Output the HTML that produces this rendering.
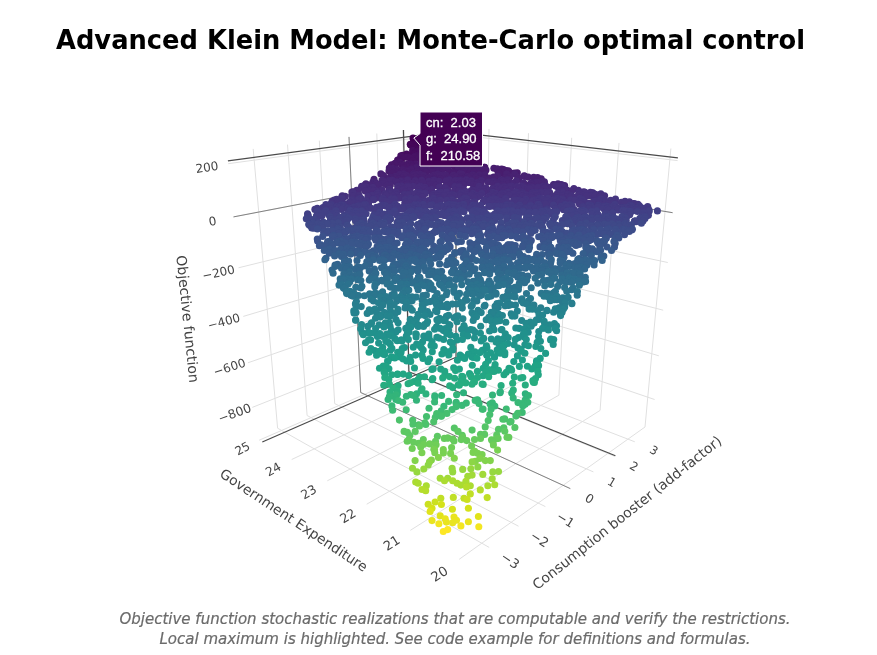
<!DOCTYPE html>
<html lang="en"><head><meta charset="utf-8"><title>Advanced Klein Model: Monte-Carlo optimal control</title>
<style>
html,body{margin:0;padding:0;background:#fff}
body{width:877px;height:655px;position:relative;overflow:hidden;font-family:'DejaVu Sans','Liberation Sans',sans-serif}
#title{position:absolute;left:56px;top:25.3px;font-size:26.3px;line-height:30px;font-weight:bold;color:#000;white-space:nowrap;margin:0;transform-origin:0 0;transform:scaleX(0.9789)}
#cap{position:absolute;left:0;width:910px;top:609.4px;text-align:center;font-style:italic;font-size:15px;line-height:20.1px;color:#6b6b6b;white-space:nowrap;-webkit-text-stroke:0.2px #6b6b6b}
</style></head><body>
<svg width="877" height="655" viewBox="0 0 877 655" style="position:absolute;left:0;top:0;font-family:'DejaVu Sans','Liberation Sans',sans-serif">
<g id="grid"><line x1="277.6" y1="428.2" x2="253.2" y2="148.9" stroke="#e0e0e0" stroke-width="1"/><line x1="307.1" y1="415.5" x2="287.5" y2="144.6" stroke="#e0e0e0" stroke-width="1"/><line x1="334.7" y1="403.6" x2="319.3" y2="140.6" stroke="#e0e0e0" stroke-width="1"/><line x1="360.7" y1="392.5" x2="349.0" y2="136.9" stroke="#e0e0e0" stroke-width="1"/><line x1="385.2" y1="381.9" x2="376.8" y2="133.5" stroke="#e0e0e0" stroke-width="1"/><line x1="408.3" y1="372.0" x2="402.8" y2="130.2" stroke="#e0e0e0" stroke-width="1"/><line x1="430.1" y1="362.6" x2="427.2" y2="127.2" stroke="#e0e0e0" stroke-width="1"/><line x1="252.3" y1="407.4" x2="448.7" y2="329.4" stroke="#e0e0e0" stroke-width="1"/><line x1="247.9" y1="362.8" x2="448.6" y2="292.9" stroke="#e0e0e0" stroke-width="1"/><line x1="243.3" y1="316.4" x2="448.5" y2="255.1" stroke="#e0e0e0" stroke-width="1"/><line x1="238.5" y1="267.8" x2="448.4" y2="216.0" stroke="#e0e0e0" stroke-width="1"/><line x1="233.5" y1="216.9" x2="448.2" y2="175.6" stroke="#e0e0e0" stroke-width="1"/><line x1="228.2" y1="163.7" x2="448.1" y2="133.6" stroke="#e0e0e0" stroke-width="1"/><line x1="645.0" y1="427.0" x2="670.9" y2="148.5" stroke="#e0e0e0" stroke-width="1"/><line x1="600.1" y1="410.4" x2="619.0" y2="142.9" stroke="#e0e0e0" stroke-width="1"/><line x1="558.9" y1="395.2" x2="571.7" y2="137.8" stroke="#e0e0e0" stroke-width="1"/><line x1="520.8" y1="381.1" x2="528.5" y2="133.2" stroke="#e0e0e0" stroke-width="1"/><line x1="485.5" y1="368.1" x2="489.0" y2="128.9" stroke="#e0e0e0" stroke-width="1"/><line x1="452.8" y1="356.0" x2="452.5" y2="125.0" stroke="#e0e0e0" stroke-width="1"/><line x1="654.6" y1="399.5" x2="448.7" y2="329.4" stroke="#e0e0e0" stroke-width="1"/><line x1="658.8" y1="355.8" x2="448.6" y2="292.9" stroke="#e0e0e0" stroke-width="1"/><line x1="663.2" y1="310.2" x2="448.5" y2="255.1" stroke="#e0e0e0" stroke-width="1"/><line x1="667.8" y1="262.5" x2="448.4" y2="216.0" stroke="#e0e0e0" stroke-width="1"/><line x1="672.6" y1="212.7" x2="448.2" y2="175.6" stroke="#e0e0e0" stroke-width="1"/><line x1="677.6" y1="160.6" x2="448.1" y2="133.6" stroke="#e0e0e0" stroke-width="1"/><line x1="489.2" y1="547.4" x2="277.6" y2="428.2" stroke="#e0e0e0" stroke-width="1"/><line x1="518.5" y1="526.2" x2="307.1" y2="415.5" stroke="#e0e0e0" stroke-width="1"/><line x1="545.4" y1="506.6" x2="334.7" y2="403.6" stroke="#e0e0e0" stroke-width="1"/><line x1="570.3" y1="488.6" x2="360.7" y2="392.5" stroke="#e0e0e0" stroke-width="1"/><line x1="593.4" y1="471.9" x2="385.2" y2="381.9" stroke="#e0e0e0" stroke-width="1"/><line x1="614.8" y1="456.3" x2="408.3" y2="372.0" stroke="#e0e0e0" stroke-width="1"/><line x1="634.8" y1="441.8" x2="430.1" y2="362.6" stroke="#e0e0e0" stroke-width="1"/><line x1="459.2" y1="559.3" x2="645.0" y2="427.0" stroke="#e0e0e0" stroke-width="1"/><line x1="410.4" y1="530.3" x2="600.1" y2="410.4" stroke="#e0e0e0" stroke-width="1"/><line x1="366.7" y1="504.2" x2="558.9" y2="395.2" stroke="#e0e0e0" stroke-width="1"/><line x1="327.3" y1="480.8" x2="520.8" y2="381.1" stroke="#e0e0e0" stroke-width="1"/><line x1="291.7" y1="459.5" x2="485.5" y2="368.1" stroke="#e0e0e0" stroke-width="1"/><line x1="259.2" y1="440.2" x2="452.8" y2="356.0" stroke="#e0e0e0" stroke-width="1"/><line x1="360.7" y1="392.5" x2="349.0" y2="136.9" stroke="#777" stroke-width="0.9"/><line x1="570.3" y1="488.6" x2="360.7" y2="392.5" stroke="#777" stroke-width="0.9"/><line x1="233.5" y1="216.9" x2="448.2" y2="175.6" stroke="#777" stroke-width="0.9"/><line x1="672.6" y1="212.7" x2="448.2" y2="175.6" stroke="#777" stroke-width="0.9"/><line x1="408.9" y1="371.7" x2="403.5" y2="130.1" stroke="#4a4a4a" stroke-width="1.2"/><line x1="227.9" y1="160.8" x2="448.1" y2="131.3" stroke="#4a4a4a" stroke-width="1.2"/><line x1="456.0" y1="357.2" x2="456.0" y2="125.4" stroke="#4a4a4a" stroke-width="1.2"/><line x1="677.9" y1="157.8" x2="448.1" y2="131.3" stroke="#4a4a4a" stroke-width="1.2"/><line x1="615.4" y1="455.8" x2="408.9" y2="371.7" stroke="#4a4a4a" stroke-width="1.2"/><line x1="262.3" y1="442.0" x2="456.0" y2="357.2" stroke="#4a4a4a" stroke-width="1.2"/></g>
<g id="pts"><g fill="#440154"><circle cx="413.0" cy="138.0" r="3.55"/><circle cx="413.7" cy="140.3" r="3.55"/><circle cx="418.8" cy="140.9" r="3.55"/><circle cx="420.8" cy="141.6" r="3.55"/><circle cx="417.3" cy="143.1" r="3.55"/></g><g fill="#450759"><circle cx="416.4" cy="143.3" r="3.55"/><circle cx="425.1" cy="143.6" r="3.55"/><circle cx="422.4" cy="143.8" r="3.55"/><circle cx="410.3" cy="144.3" r="3.55"/><circle cx="415.5" cy="144.3" r="3.55"/><circle cx="422.1" cy="144.4" r="3.55"/><circle cx="411.3" cy="145.1" r="3.55"/><circle cx="422.3" cy="145.1" r="3.55"/><circle cx="410.8" cy="145.1" r="3.55"/><circle cx="432.0" cy="145.7" r="3.55"/><circle cx="422.6" cy="145.7" r="3.55"/><circle cx="417.4" cy="146.4" r="3.55"/><circle cx="434.7" cy="147.5" r="3.55"/><circle cx="423.9" cy="147.5" r="3.55"/><circle cx="419.7" cy="147.5" r="3.55"/><circle cx="413.9" cy="147.8" r="3.55"/><circle cx="436.1" cy="148.0" r="3.55"/><circle cx="421.3" cy="148.0" r="3.55"/><circle cx="431.9" cy="148.0" r="3.55"/><circle cx="425.9" cy="148.0" r="3.55"/><circle cx="429.2" cy="148.2" r="3.55"/><circle cx="418.9" cy="148.4" r="3.55"/><circle cx="434.7" cy="149.0" r="3.55"/><circle cx="415.5" cy="149.1" r="3.55"/></g><g fill="#460c5f"><circle cx="412.7" cy="150.3" r="3.55"/><circle cx="434.4" cy="150.4" r="3.55"/><circle cx="435.3" cy="150.4" r="3.55"/><circle cx="425.2" cy="150.4" r="3.55"/><circle cx="438.1" cy="151.0" r="3.55"/><circle cx="421.9" cy="151.3" r="3.55"/><circle cx="417.3" cy="151.4" r="3.55"/><circle cx="425.7" cy="152.0" r="3.55"/><circle cx="431.7" cy="152.1" r="3.55"/><circle cx="415.7" cy="152.2" r="3.55"/><circle cx="429.9" cy="152.8" r="3.55"/><circle cx="430.0" cy="153.0" r="3.55"/><circle cx="433.5" cy="153.1" r="3.55"/><circle cx="427.3" cy="153.3" r="3.55"/><circle cx="434.1" cy="153.5" r="3.55"/><circle cx="419.0" cy="153.7" r="3.55"/><circle cx="412.2" cy="153.7" r="3.55"/><circle cx="424.7" cy="154.1" r="3.55"/><circle cx="406.6" cy="154.1" r="3.55"/><circle cx="432.8" cy="154.3" r="3.55"/><circle cx="414.0" cy="154.4" r="3.55"/><circle cx="437.3" cy="154.4" r="3.55"/><circle cx="449.1" cy="154.6" r="3.55"/><circle cx="431.4" cy="154.7" r="3.55"/><circle cx="402.7" cy="155.2" r="3.55"/><circle cx="444.1" cy="155.2" r="3.55"/><circle cx="419.5" cy="155.2" r="3.55"/></g><g fill="#471264"><circle cx="442.0" cy="155.4" r="3.55"/><circle cx="417.1" cy="155.7" r="3.55"/><circle cx="400.8" cy="155.9" r="3.55"/><circle cx="443.1" cy="156.1" r="3.55"/><circle cx="428.7" cy="156.3" r="3.55"/><circle cx="443.6" cy="156.3" r="3.55"/><circle cx="415.1" cy="156.6" r="3.55"/><circle cx="424.0" cy="156.6" r="3.55"/><circle cx="414.2" cy="156.8" r="3.55"/><circle cx="442.7" cy="156.9" r="3.55"/><circle cx="418.3" cy="157.1" r="3.55"/><circle cx="446.6" cy="157.1" r="3.55"/><circle cx="408.6" cy="157.2" r="3.55"/><circle cx="406.3" cy="157.2" r="3.55"/><circle cx="435.4" cy="157.4" r="3.55"/><circle cx="439.7" cy="157.4" r="3.55"/><circle cx="453.1" cy="157.6" r="3.55"/><circle cx="439.5" cy="157.8" r="3.55"/><circle cx="418.4" cy="157.9" r="3.55"/><circle cx="423.5" cy="158.0" r="3.55"/><circle cx="452.4" cy="158.0" r="3.55"/><circle cx="434.1" cy="158.1" r="3.55"/><circle cx="410.4" cy="158.2" r="3.55"/><circle cx="401.6" cy="158.5" r="3.55"/><circle cx="444.6" cy="158.6" r="3.55"/><circle cx="442.0" cy="158.7" r="3.55"/><circle cx="449.4" cy="159.0" r="3.55"/><circle cx="428.9" cy="159.1" r="3.55"/><circle cx="455.1" cy="159.2" r="3.55"/><circle cx="399.5" cy="159.6" r="3.55"/><circle cx="436.9" cy="159.7" r="3.55"/><circle cx="444.6" cy="159.8" r="3.55"/><circle cx="397.6" cy="160.1" r="3.55"/><circle cx="443.2" cy="160.3" r="3.55"/><circle cx="460.4" cy="160.4" r="3.55"/><circle cx="451.5" cy="160.4" r="3.55"/><circle cx="447.3" cy="160.5" r="3.55"/><circle cx="412.9" cy="160.5" r="3.55"/><circle cx="420.8" cy="160.7" r="3.55"/><circle cx="423.3" cy="160.7" r="3.55"/><circle cx="440.4" cy="160.9" r="3.55"/><circle cx="398.6" cy="161.0" r="3.55"/><circle cx="444.8" cy="161.1" r="3.55"/><circle cx="422.3" cy="161.4" r="3.55"/></g><g fill="#48186a"><circle cx="459.1" cy="161.6" r="3.55"/><circle cx="436.0" cy="162.1" r="3.55"/><circle cx="452.9" cy="162.5" r="3.55"/><circle cx="466.6" cy="162.5" r="3.55"/><circle cx="399.8" cy="162.6" r="3.55"/><circle cx="440.5" cy="162.6" r="3.55"/><circle cx="465.9" cy="162.8" r="3.55"/><circle cx="452.9" cy="162.9" r="3.55"/><circle cx="425.4" cy="163.2" r="3.55"/><circle cx="455.4" cy="163.3" r="3.55"/><circle cx="395.3" cy="163.4" r="3.55"/><circle cx="445.7" cy="163.5" r="3.55"/><circle cx="427.1" cy="163.6" r="3.55"/><circle cx="435.2" cy="163.6" r="3.55"/><circle cx="474.0" cy="163.6" r="3.55"/><circle cx="449.9" cy="163.6" r="3.55"/><circle cx="394.6" cy="163.8" r="3.55"/><circle cx="432.0" cy="164.0" r="3.55"/><circle cx="415.5" cy="164.0" r="3.55"/><circle cx="410.4" cy="164.1" r="3.55"/><circle cx="448.2" cy="164.3" r="3.55"/><circle cx="425.3" cy="164.4" r="3.55"/><circle cx="407.7" cy="164.4" r="3.55"/><circle cx="437.9" cy="164.5" r="3.55"/><circle cx="401.9" cy="164.5" r="3.55"/><circle cx="472.2" cy="164.6" r="3.55"/><circle cx="467.5" cy="164.6" r="3.55"/><circle cx="391.5" cy="164.7" r="3.55"/><circle cx="404.2" cy="164.9" r="3.55"/><circle cx="464.7" cy="165.0" r="3.55"/><circle cx="411.4" cy="165.3" r="3.55"/><circle cx="453.0" cy="165.5" r="3.55"/><circle cx="408.0" cy="165.5" r="3.55"/><circle cx="409.3" cy="165.6" r="3.55"/><circle cx="468.1" cy="165.6" r="3.55"/><circle cx="422.5" cy="165.8" r="3.55"/><circle cx="421.3" cy="165.8" r="3.55"/><circle cx="433.5" cy="165.8" r="3.55"/><circle cx="417.7" cy="165.9" r="3.55"/><circle cx="474.4" cy="166.0" r="3.55"/><circle cx="406.3" cy="166.0" r="3.55"/><circle cx="435.9" cy="166.0" r="3.55"/><circle cx="421.0" cy="166.3" r="3.55"/><circle cx="411.8" cy="166.3" r="3.55"/><circle cx="425.2" cy="166.6" r="3.55"/><circle cx="456.1" cy="166.7" r="3.55"/><circle cx="476.2" cy="166.7" r="3.55"/><circle cx="406.8" cy="166.8" r="3.55"/><circle cx="454.8" cy="166.9" r="3.55"/><circle cx="412.6" cy="167.0" r="3.55"/><circle cx="433.2" cy="167.0" r="3.55"/><circle cx="484.4" cy="167.2" r="3.55"/><circle cx="471.9" cy="167.2" r="3.55"/><circle cx="484.7" cy="167.3" r="3.55"/><circle cx="481.3" cy="167.4" r="3.55"/><circle cx="458.4" cy="167.4" r="3.55"/><circle cx="403.7" cy="167.5" r="3.55"/></g><g fill="#481d6e"><circle cx="416.5" cy="167.6" r="3.55"/><circle cx="422.6" cy="167.9" r="3.55"/><circle cx="469.4" cy="168.0" r="3.55"/><circle cx="439.3" cy="168.0" r="3.55"/><circle cx="444.8" cy="168.0" r="3.55"/><circle cx="389.3" cy="168.0" r="3.55"/><circle cx="423.4" cy="168.1" r="3.55"/><circle cx="448.0" cy="168.2" r="3.55"/><circle cx="392.7" cy="168.2" r="3.55"/><circle cx="493.9" cy="168.3" r="3.55"/><circle cx="497.4" cy="168.9" r="3.55"/><circle cx="501.7" cy="169.0" r="3.55"/><circle cx="481.6" cy="169.0" r="3.55"/><circle cx="411.2" cy="169.0" r="3.55"/><circle cx="427.0" cy="169.0" r="3.55"/><circle cx="460.7" cy="169.1" r="3.55"/><circle cx="419.4" cy="169.1" r="3.55"/><circle cx="423.9" cy="169.1" r="3.55"/><circle cx="439.8" cy="169.2" r="3.55"/><circle cx="458.2" cy="169.3" r="3.55"/><circle cx="437.5" cy="169.3" r="3.55"/><circle cx="396.9" cy="169.3" r="3.55"/><circle cx="503.5" cy="169.5" r="3.55"/><circle cx="461.5" cy="169.5" r="3.55"/><circle cx="441.7" cy="169.5" r="3.55"/><circle cx="402.8" cy="169.7" r="3.55"/><circle cx="438.8" cy="170.0" r="3.55"/><circle cx="486.0" cy="170.0" r="3.55"/><circle cx="411.2" cy="170.1" r="3.55"/><circle cx="497.5" cy="170.2" r="3.55"/><circle cx="393.0" cy="170.3" r="3.55"/><circle cx="466.5" cy="170.4" r="3.55"/><circle cx="461.3" cy="170.5" r="3.55"/><circle cx="506.0" cy="170.5" r="3.55"/><circle cx="407.2" cy="170.8" r="3.55"/><circle cx="402.6" cy="170.8" r="3.55"/><circle cx="501.7" cy="170.8" r="3.55"/><circle cx="417.6" cy="170.8" r="3.55"/><circle cx="477.1" cy="170.9" r="3.55"/><circle cx="503.8" cy="170.9" r="3.55"/><circle cx="508.4" cy="170.9" r="3.55"/><circle cx="390.8" cy="171.0" r="3.55"/><circle cx="457.9" cy="171.0" r="3.55"/><circle cx="473.1" cy="171.0" r="3.55"/><circle cx="389.0" cy="171.1" r="3.55"/><circle cx="437.5" cy="171.4" r="3.55"/><circle cx="470.5" cy="171.4" r="3.55"/><circle cx="438.0" cy="171.4" r="3.55"/><circle cx="392.5" cy="171.5" r="3.55"/><circle cx="432.3" cy="171.7" r="3.55"/><circle cx="417.0" cy="171.9" r="3.55"/><circle cx="462.8" cy="171.9" r="3.55"/><circle cx="473.7" cy="171.9" r="3.55"/><circle cx="425.2" cy="172.1" r="3.55"/><circle cx="450.6" cy="172.2" r="3.55"/><circle cx="425.7" cy="172.2" r="3.55"/><circle cx="509.5" cy="172.3" r="3.55"/><circle cx="401.7" cy="172.4" r="3.55"/><circle cx="482.9" cy="172.4" r="3.55"/><circle cx="404.9" cy="172.4" r="3.55"/><circle cx="454.9" cy="172.5" r="3.55"/><circle cx="483.6" cy="172.6" r="3.55"/><circle cx="448.8" cy="172.6" r="3.55"/><circle cx="517.3" cy="172.8" r="3.55"/><circle cx="412.4" cy="172.9" r="3.55"/><circle cx="395.9" cy="172.9" r="3.55"/><circle cx="391.1" cy="173.0" r="3.55"/><circle cx="409.0" cy="173.0" r="3.55"/><circle cx="514.5" cy="173.0" r="3.55"/><circle cx="457.8" cy="173.1" r="3.55"/><circle cx="499.8" cy="173.1" r="3.55"/><circle cx="404.6" cy="173.1" r="3.55"/><circle cx="442.0" cy="173.1" r="3.55"/><circle cx="392.4" cy="173.2" r="3.55"/><circle cx="455.7" cy="173.2" r="3.55"/><circle cx="502.2" cy="173.2" r="3.55"/><circle cx="459.7" cy="173.2" r="3.55"/><circle cx="437.7" cy="173.2" r="3.55"/><circle cx="504.8" cy="173.3" r="3.55"/><circle cx="453.7" cy="173.4" r="3.55"/><circle cx="503.2" cy="173.4" r="3.55"/><circle cx="498.9" cy="173.5" r="3.55"/><circle cx="420.6" cy="173.6" r="3.55"/><circle cx="513.0" cy="173.6" r="3.55"/><circle cx="453.3" cy="173.7" r="3.55"/></g><g fill="#482272"><circle cx="460.1" cy="173.7" r="3.55"/><circle cx="413.6" cy="173.8" r="3.55"/><circle cx="506.7" cy="173.8" r="3.55"/><circle cx="403.1" cy="173.8" r="3.55"/><circle cx="380.9" cy="173.9" r="3.55"/><circle cx="437.5" cy="174.0" r="3.55"/><circle cx="415.1" cy="174.0" r="3.55"/><circle cx="419.6" cy="174.1" r="3.55"/><circle cx="514.8" cy="174.1" r="3.55"/><circle cx="462.0" cy="174.1" r="3.55"/><circle cx="415.6" cy="174.2" r="3.55"/><circle cx="399.5" cy="174.4" r="3.55"/><circle cx="472.8" cy="174.7" r="3.55"/><circle cx="445.6" cy="174.7" r="3.55"/><circle cx="484.7" cy="174.8" r="3.55"/><circle cx="416.1" cy="174.8" r="3.55"/><circle cx="479.3" cy="174.8" r="3.55"/><circle cx="416.7" cy="174.9" r="3.55"/><circle cx="437.8" cy="174.9" r="3.55"/><circle cx="399.7" cy="175.0" r="3.55"/><circle cx="434.0" cy="175.1" r="3.55"/><circle cx="443.5" cy="175.1" r="3.55"/><circle cx="413.9" cy="175.2" r="3.55"/><circle cx="474.0" cy="175.2" r="3.55"/><circle cx="406.3" cy="175.2" r="3.55"/><circle cx="453.4" cy="175.3" r="3.55"/><circle cx="440.5" cy="175.3" r="3.55"/><circle cx="383.5" cy="175.5" r="3.55"/><circle cx="437.4" cy="175.6" r="3.55"/><circle cx="423.5" cy="175.6" r="3.55"/><circle cx="524.2" cy="175.8" r="3.55"/><circle cx="404.0" cy="176.0" r="3.55"/><circle cx="497.7" cy="176.1" r="3.55"/><circle cx="475.6" cy="176.3" r="3.55"/><circle cx="395.6" cy="176.4" r="3.55"/><circle cx="524.7" cy="176.4" r="3.55"/><circle cx="475.6" cy="176.4" r="3.55"/><circle cx="497.0" cy="176.4" r="3.55"/><circle cx="456.2" cy="176.5" r="3.55"/><circle cx="476.7" cy="176.6" r="3.55"/><circle cx="433.1" cy="176.7" r="3.55"/><circle cx="430.4" cy="176.9" r="3.55"/><circle cx="509.8" cy="176.9" r="3.55"/><circle cx="467.2" cy="176.9" r="3.55"/><circle cx="468.5" cy="176.9" r="3.55"/><circle cx="461.2" cy="177.0" r="3.55"/><circle cx="415.6" cy="177.0" r="3.55"/><circle cx="493.7" cy="177.1" r="3.55"/><circle cx="528.2" cy="177.1" r="3.55"/><circle cx="483.9" cy="177.3" r="3.55"/><circle cx="390.1" cy="177.3" r="3.55"/><circle cx="533.7" cy="177.4" r="3.55"/><circle cx="518.0" cy="177.4" r="3.55"/><circle cx="479.5" cy="177.5" r="3.55"/><circle cx="391.0" cy="177.5" r="3.55"/><circle cx="476.1" cy="177.5" r="3.55"/><circle cx="410.5" cy="177.6" r="3.55"/><circle cx="537.6" cy="177.6" r="3.55"/><circle cx="461.5" cy="177.6" r="3.55"/><circle cx="451.4" cy="177.6" r="3.55"/><circle cx="419.7" cy="177.6" r="3.55"/><circle cx="421.1" cy="177.7" r="3.55"/><circle cx="422.3" cy="177.8" r="3.55"/><circle cx="483.4" cy="177.8" r="3.55"/><circle cx="494.2" cy="177.9" r="3.55"/><circle cx="505.3" cy="178.0" r="3.55"/><circle cx="489.9" cy="178.0" r="3.55"/><circle cx="465.7" cy="178.2" r="3.55"/><circle cx="468.6" cy="178.2" r="3.55"/><circle cx="402.0" cy="178.3" r="3.55"/><circle cx="391.0" cy="178.3" r="3.55"/><circle cx="395.0" cy="178.4" r="3.55"/><circle cx="507.6" cy="178.5" r="3.55"/><circle cx="409.3" cy="178.5" r="3.55"/><circle cx="465.4" cy="178.5" r="3.55"/><circle cx="430.0" cy="178.5" r="3.55"/><circle cx="433.6" cy="178.6" r="3.55"/><circle cx="423.2" cy="178.6" r="3.55"/><circle cx="391.4" cy="178.7" r="3.55"/><circle cx="485.1" cy="178.7" r="3.55"/><circle cx="427.8" cy="178.7" r="3.55"/><circle cx="541.2" cy="178.7" r="3.55"/><circle cx="440.8" cy="178.8" r="3.55"/><circle cx="484.2" cy="178.8" r="3.55"/><circle cx="448.1" cy="178.9" r="3.55"/><circle cx="464.5" cy="179.0" r="3.55"/><circle cx="440.1" cy="179.1" r="3.55"/><circle cx="492.5" cy="179.2" r="3.55"/><circle cx="461.3" cy="179.3" r="3.55"/><circle cx="460.6" cy="179.3" r="3.55"/><circle cx="374.0" cy="179.3" r="3.55"/><circle cx="518.6" cy="179.4" r="3.55"/><circle cx="478.4" cy="179.4" r="3.55"/><circle cx="433.9" cy="179.4" r="3.55"/><circle cx="398.9" cy="179.4" r="3.55"/><circle cx="405.7" cy="179.5" r="3.55"/><circle cx="404.7" cy="179.5" r="3.55"/><circle cx="447.4" cy="179.5" r="3.55"/><circle cx="386.9" cy="179.5" r="3.55"/><circle cx="387.8" cy="179.6" r="3.55"/><circle cx="443.0" cy="179.6" r="3.55"/><circle cx="403.2" cy="179.7" r="3.55"/><circle cx="411.5" cy="179.8" r="3.55"/><circle cx="430.1" cy="179.8" r="3.55"/></g><g fill="#472877"><circle cx="466.3" cy="179.8" r="3.55"/><circle cx="407.6" cy="179.9" r="3.55"/><circle cx="507.6" cy="179.9" r="3.55"/><circle cx="449.5" cy="179.9" r="3.55"/><circle cx="501.3" cy="180.1" r="3.55"/><circle cx="433.3" cy="180.2" r="3.55"/><circle cx="392.3" cy="180.2" r="3.55"/><circle cx="434.3" cy="180.2" r="3.55"/><circle cx="382.1" cy="180.3" r="3.55"/><circle cx="460.4" cy="180.4" r="3.55"/><circle cx="421.7" cy="180.4" r="3.55"/><circle cx="502.8" cy="180.5" r="3.55"/><circle cx="481.4" cy="180.5" r="3.55"/><circle cx="455.7" cy="180.6" r="3.55"/><circle cx="389.4" cy="180.6" r="3.55"/><circle cx="458.6" cy="180.6" r="3.55"/><circle cx="516.4" cy="180.7" r="3.55"/><circle cx="455.2" cy="180.7" r="3.55"/><circle cx="415.2" cy="180.7" r="3.55"/><circle cx="471.5" cy="180.8" r="3.55"/><circle cx="446.2" cy="180.8" r="3.55"/><circle cx="415.3" cy="180.9" r="3.55"/><circle cx="400.8" cy="181.0" r="3.55"/><circle cx="503.0" cy="181.1" r="3.55"/><circle cx="458.0" cy="181.1" r="3.55"/><circle cx="508.3" cy="181.1" r="3.55"/><circle cx="464.3" cy="181.2" r="3.55"/><circle cx="437.6" cy="181.2" r="3.55"/><circle cx="439.0" cy="181.3" r="3.55"/><circle cx="428.7" cy="181.3" r="3.55"/><circle cx="493.3" cy="181.4" r="3.55"/><circle cx="460.3" cy="181.4" r="3.55"/><circle cx="542.1" cy="181.4" r="3.55"/><circle cx="384.0" cy="181.5" r="3.55"/><circle cx="396.0" cy="181.7" r="3.55"/><circle cx="506.8" cy="181.7" r="3.55"/><circle cx="544.4" cy="181.8" r="3.55"/><circle cx="492.3" cy="182.0" r="3.55"/><circle cx="493.8" cy="182.1" r="3.55"/><circle cx="488.2" cy="182.1" r="3.55"/><circle cx="372.8" cy="182.2" r="3.55"/><circle cx="466.8" cy="182.2" r="3.55"/><circle cx="537.4" cy="182.2" r="3.55"/><circle cx="374.6" cy="182.2" r="3.55"/><circle cx="433.2" cy="182.4" r="3.55"/><circle cx="397.5" cy="182.4" r="3.55"/><circle cx="468.6" cy="182.5" r="3.55"/><circle cx="476.9" cy="182.5" r="3.55"/><circle cx="497.0" cy="182.5" r="3.55"/><circle cx="374.8" cy="182.6" r="3.55"/><circle cx="481.2" cy="182.7" r="3.55"/><circle cx="461.6" cy="182.7" r="3.55"/><circle cx="534.9" cy="182.7" r="3.55"/><circle cx="471.2" cy="182.7" r="3.55"/><circle cx="523.5" cy="182.7" r="3.55"/><circle cx="422.9" cy="182.8" r="3.55"/><circle cx="412.5" cy="183.0" r="3.55"/><circle cx="438.2" cy="183.1" r="3.55"/><circle cx="531.2" cy="183.1" r="3.55"/><circle cx="512.0" cy="183.2" r="3.55"/><circle cx="476.3" cy="183.3" r="3.55"/><circle cx="496.1" cy="183.3" r="3.55"/><circle cx="403.6" cy="183.4" r="3.55"/><circle cx="376.4" cy="183.5" r="3.55"/><circle cx="383.3" cy="183.5" r="3.55"/><circle cx="493.4" cy="183.6" r="3.55"/><circle cx="365.9" cy="183.7" r="3.55"/><circle cx="544.4" cy="183.7" r="3.55"/><circle cx="531.3" cy="183.9" r="3.55"/><circle cx="558.0" cy="183.9" r="3.55"/><circle cx="507.1" cy="184.0" r="3.55"/><circle cx="400.2" cy="184.0" r="3.55"/><circle cx="473.0" cy="184.1" r="3.55"/><circle cx="498.8" cy="184.1" r="3.55"/><circle cx="495.8" cy="184.1" r="3.55"/><circle cx="417.1" cy="184.2" r="3.55"/><circle cx="480.4" cy="184.2" r="3.55"/><circle cx="408.1" cy="184.2" r="3.55"/><circle cx="463.3" cy="184.3" r="3.55"/><circle cx="376.4" cy="184.4" r="3.55"/><circle cx="402.7" cy="184.4" r="3.55"/><circle cx="458.5" cy="184.5" r="3.55"/><circle cx="561.4" cy="184.5" r="3.55"/><circle cx="553.6" cy="184.5" r="3.55"/><circle cx="402.5" cy="184.5" r="3.55"/><circle cx="525.3" cy="184.5" r="3.55"/><circle cx="429.4" cy="184.5" r="3.55"/><circle cx="473.7" cy="184.6" r="3.55"/><circle cx="390.3" cy="184.7" r="3.55"/><circle cx="477.2" cy="184.7" r="3.55"/><circle cx="501.7" cy="184.7" r="3.55"/><circle cx="503.0" cy="184.7" r="3.55"/><circle cx="451.0" cy="184.8" r="3.55"/><circle cx="553.7" cy="184.8" r="3.55"/><circle cx="497.8" cy="184.9" r="3.55"/><circle cx="406.9" cy="184.9" r="3.55"/><circle cx="365.0" cy="185.0" r="3.55"/><circle cx="435.1" cy="185.0" r="3.55"/><circle cx="434.3" cy="185.1" r="3.55"/><circle cx="368.3" cy="185.1" r="3.55"/><circle cx="387.1" cy="185.2" r="3.55"/><circle cx="459.3" cy="185.2" r="3.55"/><circle cx="378.5" cy="185.2" r="3.55"/><circle cx="463.5" cy="185.2" r="3.55"/><circle cx="528.4" cy="185.3" r="3.55"/><circle cx="455.8" cy="185.4" r="3.55"/><circle cx="372.4" cy="185.4" r="3.55"/><circle cx="459.3" cy="185.5" r="3.55"/><circle cx="436.1" cy="185.5" r="3.55"/><circle cx="564.6" cy="185.6" r="3.55"/><circle cx="530.4" cy="185.7" r="3.55"/><circle cx="530.8" cy="185.7" r="3.55"/><circle cx="370.5" cy="185.7" r="3.55"/><circle cx="457.5" cy="185.7" r="3.55"/><circle cx="445.8" cy="185.9" r="3.55"/><circle cx="398.0" cy="185.9" r="3.55"/></g><g fill="#472d7b"><circle cx="401.4" cy="186.0" r="3.55"/><circle cx="521.5" cy="186.0" r="3.55"/><circle cx="555.6" cy="186.1" r="3.55"/><circle cx="511.8" cy="186.1" r="3.55"/><circle cx="412.9" cy="186.2" r="3.55"/><circle cx="545.9" cy="186.2" r="3.55"/><circle cx="420.4" cy="186.3" r="3.55"/><circle cx="479.1" cy="186.4" r="3.55"/><circle cx="361.7" cy="186.4" r="3.55"/><circle cx="497.7" cy="186.4" r="3.55"/><circle cx="401.5" cy="186.5" r="3.55"/><circle cx="517.2" cy="186.5" r="3.55"/><circle cx="560.3" cy="186.5" r="3.55"/><circle cx="454.8" cy="186.5" r="3.55"/><circle cx="406.7" cy="186.5" r="3.55"/><circle cx="509.4" cy="186.5" r="3.55"/><circle cx="558.0" cy="186.5" r="3.55"/><circle cx="562.4" cy="186.5" r="3.55"/><circle cx="542.6" cy="186.6" r="3.55"/><circle cx="420.0" cy="186.6" r="3.55"/><circle cx="543.1" cy="186.6" r="3.55"/><circle cx="397.9" cy="186.6" r="3.55"/><circle cx="504.4" cy="186.7" r="3.55"/><circle cx="546.0" cy="186.7" r="3.55"/><circle cx="365.9" cy="186.8" r="3.55"/><circle cx="409.1" cy="186.8" r="3.55"/><circle cx="439.8" cy="186.8" r="3.55"/><circle cx="459.1" cy="186.8" r="3.55"/><circle cx="407.8" cy="186.9" r="3.55"/><circle cx="523.6" cy="186.9" r="3.55"/><circle cx="362.0" cy="187.0" r="3.55"/><circle cx="424.8" cy="187.2" r="3.55"/><circle cx="548.5" cy="187.2" r="3.55"/><circle cx="372.7" cy="187.2" r="3.55"/><circle cx="439.7" cy="187.3" r="3.55"/><circle cx="544.8" cy="187.3" r="3.55"/><circle cx="537.9" cy="187.4" r="3.55"/><circle cx="418.9" cy="187.4" r="3.55"/><circle cx="532.6" cy="187.5" r="3.55"/><circle cx="502.3" cy="187.5" r="3.55"/><circle cx="485.8" cy="187.8" r="3.55"/><circle cx="537.7" cy="187.8" r="3.55"/><circle cx="543.9" cy="187.8" r="3.55"/><circle cx="528.4" cy="187.9" r="3.55"/><circle cx="445.5" cy="187.9" r="3.55"/><circle cx="479.4" cy="188.0" r="3.55"/><circle cx="558.7" cy="188.0" r="3.55"/><circle cx="544.8" cy="188.1" r="3.55"/><circle cx="400.2" cy="188.2" r="3.55"/><circle cx="501.6" cy="188.3" r="3.55"/><circle cx="524.6" cy="188.4" r="3.55"/><circle cx="529.0" cy="188.4" r="3.55"/><circle cx="505.4" cy="188.5" r="3.55"/><circle cx="423.6" cy="188.6" r="3.55"/><circle cx="573.9" cy="188.6" r="3.55"/><circle cx="495.0" cy="188.6" r="3.55"/><circle cx="505.7" cy="188.7" r="3.55"/><circle cx="527.6" cy="188.7" r="3.55"/><circle cx="492.4" cy="188.8" r="3.55"/><circle cx="530.2" cy="188.8" r="3.55"/><circle cx="367.4" cy="188.9" r="3.55"/><circle cx="404.1" cy="189.0" r="3.55"/><circle cx="365.0" cy="189.0" r="3.55"/><circle cx="518.4" cy="189.0" r="3.55"/><circle cx="398.0" cy="189.2" r="3.55"/><circle cx="389.8" cy="189.2" r="3.55"/><circle cx="389.4" cy="189.3" r="3.55"/><circle cx="425.4" cy="189.3" r="3.55"/><circle cx="463.3" cy="189.3" r="3.55"/><circle cx="482.4" cy="189.4" r="3.55"/><circle cx="486.3" cy="189.5" r="3.55"/><circle cx="431.4" cy="189.6" r="3.55"/><circle cx="418.6" cy="189.7" r="3.55"/><circle cx="484.1" cy="189.9" r="3.55"/><circle cx="472.3" cy="190.0" r="3.55"/><circle cx="370.7" cy="190.0" r="3.55"/><circle cx="566.9" cy="190.1" r="3.55"/><circle cx="402.8" cy="190.1" r="3.55"/><circle cx="372.8" cy="190.2" r="3.55"/><circle cx="381.2" cy="190.2" r="3.55"/><circle cx="428.1" cy="190.2" r="3.55"/><circle cx="367.7" cy="190.2" r="3.55"/><circle cx="473.6" cy="190.2" r="3.55"/><circle cx="495.9" cy="190.2" r="3.55"/><circle cx="356.7" cy="190.2" r="3.55"/><circle cx="559.7" cy="190.2" r="3.55"/><circle cx="454.8" cy="190.2" r="3.55"/><circle cx="578.4" cy="190.3" r="3.55"/><circle cx="382.2" cy="190.3" r="3.55"/><circle cx="510.6" cy="190.4" r="3.55"/><circle cx="358.4" cy="190.4" r="3.55"/><circle cx="369.7" cy="190.6" r="3.55"/><circle cx="448.4" cy="190.7" r="3.55"/><circle cx="389.3" cy="190.7" r="3.55"/><circle cx="541.6" cy="190.7" r="3.55"/><circle cx="409.9" cy="190.8" r="3.55"/><circle cx="389.9" cy="190.8" r="3.55"/><circle cx="427.4" cy="190.8" r="3.55"/><circle cx="376.2" cy="190.9" r="3.55"/><circle cx="463.8" cy="190.9" r="3.55"/><circle cx="459.0" cy="190.9" r="3.55"/><circle cx="571.6" cy="190.9" r="3.55"/><circle cx="487.7" cy="190.9" r="3.55"/><circle cx="373.2" cy="191.0" r="3.55"/><circle cx="520.1" cy="191.0" r="3.55"/><circle cx="365.2" cy="191.1" r="3.55"/><circle cx="470.9" cy="191.1" r="3.55"/><circle cx="562.6" cy="191.1" r="3.55"/><circle cx="503.6" cy="191.2" r="3.55"/><circle cx="432.1" cy="191.4" r="3.55"/><circle cx="480.0" cy="191.5" r="3.55"/><circle cx="395.9" cy="191.5" r="3.55"/><circle cx="418.1" cy="191.6" r="3.55"/><circle cx="439.8" cy="191.6" r="3.55"/><circle cx="353.2" cy="191.7" r="3.55"/><circle cx="583.7" cy="191.8" r="3.55"/><circle cx="397.5" cy="191.9" r="3.55"/><circle cx="492.9" cy="191.9" r="3.55"/><circle cx="483.9" cy="191.9" r="3.55"/><circle cx="466.7" cy="191.9" r="3.55"/><circle cx="405.5" cy="192.0" r="3.55"/><circle cx="351.9" cy="192.0" r="3.55"/></g><g fill="#46327e"><circle cx="465.4" cy="192.1" r="3.55"/><circle cx="516.1" cy="192.1" r="3.55"/><circle cx="446.3" cy="192.1" r="3.55"/><circle cx="390.1" cy="192.1" r="3.55"/><circle cx="590.4" cy="192.3" r="3.55"/><circle cx="585.0" cy="192.3" r="3.55"/><circle cx="440.1" cy="192.3" r="3.55"/><circle cx="548.0" cy="192.4" r="3.55"/><circle cx="507.9" cy="192.4" r="3.55"/><circle cx="545.3" cy="192.4" r="3.55"/><circle cx="492.7" cy="192.4" r="3.55"/><circle cx="396.1" cy="192.4" r="3.55"/><circle cx="417.5" cy="192.5" r="3.55"/><circle cx="549.7" cy="192.5" r="3.55"/><circle cx="579.1" cy="192.6" r="3.55"/><circle cx="541.0" cy="192.6" r="3.55"/><circle cx="533.5" cy="192.6" r="3.55"/><circle cx="562.7" cy="192.7" r="3.55"/><circle cx="522.5" cy="192.7" r="3.55"/><circle cx="438.4" cy="192.8" r="3.55"/><circle cx="353.1" cy="192.8" r="3.55"/><circle cx="420.1" cy="192.8" r="3.55"/><circle cx="461.3" cy="192.8" r="3.55"/><circle cx="536.7" cy="192.9" r="3.55"/><circle cx="592.8" cy="192.9" r="3.55"/><circle cx="592.5" cy="193.0" r="3.55"/><circle cx="535.5" cy="193.0" r="3.55"/><circle cx="377.8" cy="193.1" r="3.55"/><circle cx="532.2" cy="193.1" r="3.55"/><circle cx="390.8" cy="193.1" r="3.55"/><circle cx="389.5" cy="193.2" r="3.55"/><circle cx="590.8" cy="193.3" r="3.55"/><circle cx="557.5" cy="193.3" r="3.55"/><circle cx="502.7" cy="193.4" r="3.55"/><circle cx="425.3" cy="193.4" r="3.55"/><circle cx="472.9" cy="193.4" r="3.55"/><circle cx="481.7" cy="193.4" r="3.55"/><circle cx="495.8" cy="193.4" r="3.55"/><circle cx="395.6" cy="193.4" r="3.55"/><circle cx="462.0" cy="193.4" r="3.55"/><circle cx="437.4" cy="193.5" r="3.55"/><circle cx="411.7" cy="193.5" r="3.55"/><circle cx="439.3" cy="193.5" r="3.55"/><circle cx="520.8" cy="193.5" r="3.55"/><circle cx="424.1" cy="193.6" r="3.55"/><circle cx="415.9" cy="193.6" r="3.55"/><circle cx="504.6" cy="193.7" r="3.55"/><circle cx="547.2" cy="193.7" r="3.55"/><circle cx="600.8" cy="193.7" r="3.55"/><circle cx="512.9" cy="193.8" r="3.55"/><circle cx="419.9" cy="193.8" r="3.55"/><circle cx="533.9" cy="193.8" r="3.55"/><circle cx="385.0" cy="193.8" r="3.55"/><circle cx="523.2" cy="193.9" r="3.55"/><circle cx="567.1" cy="194.0" r="3.55"/><circle cx="580.0" cy="194.0" r="3.55"/><circle cx="434.8" cy="194.0" r="3.55"/><circle cx="395.1" cy="194.1" r="3.55"/><circle cx="492.3" cy="194.2" r="3.55"/><circle cx="522.1" cy="194.2" r="3.55"/><circle cx="433.4" cy="194.3" r="3.55"/><circle cx="500.8" cy="194.3" r="3.55"/><circle cx="595.5" cy="194.3" r="3.55"/><circle cx="387.3" cy="194.3" r="3.55"/><circle cx="407.9" cy="194.3" r="3.55"/><circle cx="451.9" cy="194.4" r="3.55"/><circle cx="389.9" cy="194.4" r="3.55"/><circle cx="403.9" cy="194.5" r="3.55"/><circle cx="565.2" cy="194.5" r="3.55"/><circle cx="376.4" cy="194.5" r="3.55"/><circle cx="492.1" cy="194.6" r="3.55"/><circle cx="404.9" cy="194.6" r="3.55"/><circle cx="385.4" cy="194.6" r="3.55"/><circle cx="448.1" cy="194.7" r="3.55"/><circle cx="449.3" cy="194.7" r="3.55"/><circle cx="492.2" cy="194.8" r="3.55"/><circle cx="404.5" cy="194.8" r="3.55"/><circle cx="518.8" cy="194.8" r="3.55"/><circle cx="459.5" cy="194.9" r="3.55"/><circle cx="471.6" cy="194.9" r="3.55"/><circle cx="378.0" cy="194.9" r="3.55"/><circle cx="408.3" cy="195.0" r="3.55"/><circle cx="526.9" cy="195.0" r="3.55"/><circle cx="467.0" cy="195.0" r="3.55"/><circle cx="377.5" cy="195.1" r="3.55"/><circle cx="395.3" cy="195.1" r="3.55"/><circle cx="386.7" cy="195.2" r="3.55"/><circle cx="509.1" cy="195.2" r="3.55"/><circle cx="500.3" cy="195.2" r="3.55"/><circle cx="372.0" cy="195.2" r="3.55"/><circle cx="531.2" cy="195.2" r="3.55"/><circle cx="566.8" cy="195.2" r="3.55"/><circle cx="582.4" cy="195.3" r="3.55"/><circle cx="579.1" cy="195.3" r="3.55"/><circle cx="497.0" cy="195.3" r="3.55"/><circle cx="471.8" cy="195.3" r="3.55"/><circle cx="477.1" cy="195.3" r="3.55"/><circle cx="396.5" cy="195.3" r="3.55"/><circle cx="451.0" cy="195.4" r="3.55"/><circle cx="454.3" cy="195.4" r="3.55"/><circle cx="523.6" cy="195.5" r="3.55"/><circle cx="391.9" cy="195.5" r="3.55"/><circle cx="570.9" cy="195.6" r="3.55"/><circle cx="557.2" cy="195.6" r="3.55"/><circle cx="443.3" cy="195.6" r="3.55"/><circle cx="359.1" cy="195.6" r="3.55"/><circle cx="351.7" cy="195.7" r="3.55"/><circle cx="432.2" cy="195.7" r="3.55"/><circle cx="604.6" cy="195.7" r="3.55"/><circle cx="419.0" cy="195.7" r="3.55"/><circle cx="489.7" cy="195.7" r="3.55"/><circle cx="436.9" cy="195.7" r="3.55"/><circle cx="342.2" cy="195.7" r="3.55"/><circle cx="536.9" cy="195.7" r="3.55"/><circle cx="591.0" cy="195.7" r="3.55"/><circle cx="386.2" cy="195.8" r="3.55"/><circle cx="601.3" cy="195.8" r="3.55"/><circle cx="444.0" cy="195.9" r="3.55"/><circle cx="460.9" cy="195.9" r="3.55"/><circle cx="595.2" cy="195.9" r="3.55"/><circle cx="480.0" cy="195.9" r="3.55"/><circle cx="494.7" cy="196.0" r="3.55"/><circle cx="418.9" cy="196.0" r="3.55"/><circle cx="562.4" cy="196.0" r="3.55"/><circle cx="586.4" cy="196.0" r="3.55"/><circle cx="499.1" cy="196.0" r="3.55"/><circle cx="432.4" cy="196.2" r="3.55"/><circle cx="470.2" cy="196.2" r="3.55"/><circle cx="368.0" cy="196.2" r="3.55"/><circle cx="353.6" cy="196.3" r="3.55"/><circle cx="602.8" cy="196.3" r="3.55"/><circle cx="522.1" cy="196.3" r="3.55"/><circle cx="345.1" cy="196.4" r="3.55"/><circle cx="552.4" cy="196.4" r="3.55"/><circle cx="392.8" cy="196.4" r="3.55"/><circle cx="342.1" cy="196.5" r="3.55"/><circle cx="576.9" cy="196.6" r="3.55"/><circle cx="568.1" cy="196.6" r="3.55"/><circle cx="566.4" cy="196.7" r="3.55"/><circle cx="516.0" cy="196.7" r="3.55"/><circle cx="452.0" cy="196.9" r="3.55"/><circle cx="464.9" cy="196.9" r="3.55"/><circle cx="500.2" cy="196.9" r="3.55"/><circle cx="379.2" cy="197.0" r="3.55"/><circle cx="526.2" cy="197.0" r="3.55"/><circle cx="599.9" cy="197.1" r="3.55"/><circle cx="420.0" cy="197.1" r="3.55"/><circle cx="422.4" cy="197.2" r="3.55"/><circle cx="368.5" cy="197.2" r="3.55"/><circle cx="342.5" cy="197.3" r="3.55"/><circle cx="492.9" cy="197.3" r="3.55"/><circle cx="476.9" cy="197.3" r="3.55"/><circle cx="403.3" cy="197.4" r="3.55"/><circle cx="499.2" cy="197.4" r="3.55"/><circle cx="530.5" cy="197.4" r="3.55"/><circle cx="536.4" cy="197.4" r="3.55"/><circle cx="602.8" cy="197.4" r="3.55"/><circle cx="554.5" cy="197.5" r="3.55"/><circle cx="525.5" cy="197.5" r="3.55"/><circle cx="449.8" cy="197.5" r="3.55"/><circle cx="401.1" cy="197.5" r="3.55"/><circle cx="342.6" cy="197.6" r="3.55"/><circle cx="570.0" cy="197.6" r="3.55"/><circle cx="574.9" cy="197.6" r="3.55"/><circle cx="474.3" cy="197.7" r="3.55"/><circle cx="440.0" cy="197.7" r="3.55"/><circle cx="400.0" cy="197.7" r="3.55"/><circle cx="487.0" cy="197.8" r="3.55"/><circle cx="488.3" cy="197.8" r="3.55"/><circle cx="395.1" cy="197.8" r="3.55"/><circle cx="532.2" cy="197.8" r="3.55"/><circle cx="357.6" cy="197.8" r="3.55"/><circle cx="514.4" cy="197.9" r="3.55"/><circle cx="435.3" cy="197.9" r="3.55"/><circle cx="562.5" cy="198.0" r="3.55"/><circle cx="376.2" cy="198.0" r="3.55"/><circle cx="438.8" cy="198.0" r="3.55"/><circle cx="358.9" cy="198.1" r="3.55"/><circle cx="398.2" cy="198.1" r="3.55"/><circle cx="417.7" cy="198.1" r="3.55"/></g><g fill="#453680"><circle cx="360.8" cy="198.2" r="3.55"/><circle cx="464.4" cy="198.3" r="3.55"/><circle cx="342.1" cy="198.3" r="3.55"/><circle cx="382.6" cy="198.3" r="3.55"/><circle cx="579.9" cy="198.3" r="3.55"/><circle cx="556.7" cy="198.4" r="3.55"/><circle cx="433.5" cy="198.4" r="3.55"/><circle cx="410.5" cy="198.4" r="3.55"/><circle cx="539.7" cy="198.4" r="3.55"/><circle cx="548.1" cy="198.4" r="3.55"/><circle cx="505.6" cy="198.5" r="3.55"/><circle cx="466.5" cy="198.6" r="3.55"/><circle cx="411.6" cy="198.7" r="3.55"/><circle cx="493.9" cy="198.7" r="3.55"/><circle cx="541.8" cy="198.7" r="3.55"/><circle cx="383.3" cy="198.8" r="3.55"/><circle cx="542.7" cy="198.8" r="3.55"/><circle cx="391.5" cy="198.8" r="3.55"/><circle cx="601.0" cy="198.8" r="3.55"/><circle cx="416.1" cy="198.9" r="3.55"/><circle cx="359.8" cy="199.0" r="3.55"/><circle cx="615.5" cy="199.0" r="3.55"/><circle cx="505.3" cy="199.1" r="3.55"/><circle cx="582.0" cy="199.1" r="3.55"/><circle cx="394.4" cy="199.1" r="3.55"/><circle cx="496.3" cy="199.2" r="3.55"/><circle cx="373.3" cy="199.2" r="3.55"/><circle cx="336.6" cy="199.3" r="3.55"/><circle cx="560.9" cy="199.4" r="3.55"/><circle cx="373.3" cy="199.4" r="3.55"/><circle cx="555.7" cy="199.4" r="3.55"/><circle cx="525.9" cy="199.4" r="3.55"/><circle cx="358.4" cy="199.5" r="3.55"/><circle cx="495.4" cy="199.5" r="3.55"/><circle cx="562.5" cy="199.5" r="3.55"/><circle cx="405.3" cy="199.6" r="3.55"/><circle cx="361.8" cy="199.7" r="3.55"/><circle cx="351.7" cy="199.8" r="3.55"/><circle cx="382.1" cy="199.8" r="3.55"/><circle cx="373.4" cy="199.8" r="3.55"/><circle cx="452.3" cy="199.8" r="3.55"/><circle cx="581.9" cy="199.8" r="3.55"/><circle cx="542.9" cy="199.8" r="3.55"/><circle cx="570.6" cy="199.9" r="3.55"/><circle cx="554.0" cy="199.9" r="3.55"/><circle cx="490.7" cy="199.9" r="3.55"/><circle cx="334.3" cy="200.0" r="3.55"/><circle cx="535.3" cy="200.1" r="3.55"/><circle cx="410.3" cy="200.1" r="3.55"/><circle cx="556.3" cy="200.2" r="3.55"/><circle cx="574.5" cy="200.2" r="3.55"/><circle cx="439.6" cy="200.2" r="3.55"/><circle cx="431.2" cy="200.2" r="3.55"/><circle cx="484.4" cy="200.2" r="3.55"/><circle cx="610.7" cy="200.4" r="3.55"/><circle cx="447.0" cy="200.4" r="3.55"/><circle cx="519.2" cy="200.4" r="3.55"/><circle cx="517.1" cy="200.4" r="3.55"/><circle cx="440.5" cy="200.4" r="3.55"/><circle cx="532.8" cy="200.5" r="3.55"/><circle cx="384.5" cy="200.5" r="3.55"/><circle cx="428.3" cy="200.5" r="3.55"/><circle cx="513.6" cy="200.6" r="3.55"/><circle cx="525.2" cy="200.6" r="3.55"/><circle cx="460.5" cy="200.7" r="3.55"/><circle cx="596.3" cy="200.7" r="3.55"/><circle cx="546.8" cy="200.7" r="3.55"/><circle cx="366.0" cy="200.8" r="3.55"/><circle cx="462.0" cy="200.8" r="3.55"/><circle cx="604.4" cy="200.8" r="3.55"/><circle cx="385.1" cy="200.9" r="3.55"/><circle cx="594.0" cy="201.0" r="3.55"/><circle cx="524.4" cy="201.0" r="3.55"/><circle cx="536.9" cy="201.0" r="3.55"/><circle cx="599.2" cy="201.0" r="3.55"/><circle cx="385.7" cy="201.1" r="3.55"/><circle cx="609.9" cy="201.1" r="3.55"/><circle cx="339.2" cy="201.2" r="3.55"/><circle cx="434.9" cy="201.2" r="3.55"/><circle cx="506.7" cy="201.2" r="3.55"/><circle cx="466.6" cy="201.3" r="3.55"/><circle cx="625.0" cy="201.3" r="3.55"/><circle cx="522.2" cy="201.3" r="3.55"/><circle cx="488.4" cy="201.3" r="3.55"/><circle cx="595.2" cy="201.3" r="3.55"/><circle cx="351.8" cy="201.3" r="3.55"/><circle cx="499.8" cy="201.4" r="3.55"/><circle cx="426.5" cy="201.4" r="3.55"/><circle cx="332.1" cy="201.4" r="3.55"/><circle cx="559.1" cy="201.4" r="3.55"/><circle cx="564.4" cy="201.5" r="3.55"/><circle cx="539.1" cy="201.5" r="3.55"/><circle cx="422.7" cy="201.5" r="3.55"/><circle cx="334.5" cy="201.5" r="3.55"/><circle cx="425.9" cy="201.5" r="3.55"/><circle cx="452.3" cy="201.5" r="3.55"/><circle cx="386.9" cy="201.5" r="3.55"/><circle cx="603.1" cy="201.5" r="3.55"/><circle cx="335.5" cy="201.6" r="3.55"/><circle cx="584.4" cy="201.6" r="3.55"/><circle cx="483.3" cy="201.7" r="3.55"/><circle cx="419.7" cy="201.7" r="3.55"/><circle cx="615.0" cy="201.7" r="3.55"/><circle cx="393.5" cy="201.8" r="3.55"/><circle cx="629.4" cy="201.9" r="3.55"/><circle cx="474.7" cy="201.9" r="3.55"/><circle cx="457.4" cy="202.0" r="3.55"/><circle cx="424.5" cy="202.1" r="3.55"/><circle cx="453.9" cy="202.1" r="3.55"/><circle cx="604.4" cy="202.1" r="3.55"/><circle cx="606.1" cy="202.1" r="3.55"/><circle cx="606.3" cy="202.1" r="3.55"/><circle cx="406.3" cy="202.2" r="3.55"/><circle cx="342.4" cy="202.2" r="3.55"/><circle cx="621.3" cy="202.2" r="3.55"/><circle cx="551.1" cy="202.2" r="3.55"/><circle cx="538.6" cy="202.3" r="3.55"/><circle cx="579.1" cy="202.3" r="3.55"/><circle cx="581.4" cy="202.3" r="3.55"/><circle cx="349.7" cy="202.3" r="3.55"/><circle cx="559.3" cy="202.4" r="3.55"/><circle cx="536.7" cy="202.4" r="3.55"/><circle cx="605.5" cy="202.5" r="3.55"/><circle cx="527.4" cy="202.5" r="3.55"/><circle cx="465.0" cy="202.5" r="3.55"/><circle cx="450.2" cy="202.5" r="3.55"/><circle cx="438.7" cy="202.6" r="3.55"/><circle cx="552.9" cy="202.6" r="3.55"/><circle cx="502.4" cy="202.6" r="3.55"/><circle cx="625.4" cy="202.6" r="3.55"/><circle cx="353.9" cy="202.7" r="3.55"/><circle cx="333.7" cy="202.7" r="3.55"/><circle cx="391.5" cy="202.7" r="3.55"/><circle cx="585.2" cy="202.7" r="3.55"/><circle cx="349.4" cy="202.8" r="3.55"/><circle cx="471.2" cy="202.9" r="3.55"/><circle cx="597.1" cy="202.9" r="3.55"/><circle cx="552.6" cy="202.9" r="3.55"/><circle cx="565.5" cy="202.9" r="3.55"/><circle cx="404.8" cy="203.0" r="3.55"/><circle cx="424.6" cy="203.0" r="3.55"/><circle cx="331.7" cy="203.0" r="3.55"/><circle cx="409.6" cy="203.1" r="3.55"/><circle cx="564.1" cy="203.1" r="3.55"/><circle cx="368.6" cy="203.1" r="3.55"/><circle cx="466.1" cy="203.2" r="3.55"/><circle cx="592.6" cy="203.2" r="3.55"/><circle cx="562.0" cy="203.2" r="3.55"/><circle cx="492.7" cy="203.2" r="3.55"/><circle cx="626.7" cy="203.2" r="3.55"/><circle cx="434.5" cy="203.3" r="3.55"/><circle cx="588.2" cy="203.3" r="3.55"/><circle cx="466.4" cy="203.4" r="3.55"/><circle cx="331.6" cy="203.4" r="3.55"/><circle cx="420.3" cy="203.4" r="3.55"/><circle cx="419.7" cy="203.4" r="3.55"/><circle cx="599.1" cy="203.5" r="3.55"/><circle cx="605.9" cy="203.5" r="3.55"/><circle cx="613.2" cy="203.5" r="3.55"/><circle cx="624.4" cy="203.6" r="3.55"/><circle cx="386.5" cy="203.6" r="3.55"/><circle cx="633.6" cy="203.6" r="3.55"/><circle cx="569.4" cy="203.6" r="3.55"/><circle cx="394.6" cy="203.6" r="3.55"/><circle cx="455.0" cy="203.7" r="3.55"/><circle cx="512.9" cy="203.7" r="3.55"/><circle cx="499.8" cy="203.7" r="3.55"/><circle cx="634.8" cy="203.7" r="3.55"/><circle cx="526.0" cy="203.8" r="3.55"/><circle cx="537.6" cy="203.8" r="3.55"/><circle cx="566.6" cy="203.8" r="3.55"/><circle cx="590.3" cy="203.8" r="3.55"/><circle cx="364.4" cy="203.8" r="3.55"/><circle cx="544.2" cy="203.8" r="3.55"/><circle cx="406.4" cy="203.8" r="3.55"/><circle cx="551.4" cy="203.9" r="3.55"/><circle cx="432.9" cy="203.9" r="3.55"/><circle cx="511.5" cy="203.9" r="3.55"/><circle cx="581.0" cy="203.9" r="3.55"/><circle cx="550.4" cy="204.0" r="3.55"/><circle cx="530.5" cy="204.0" r="3.55"/><circle cx="608.9" cy="204.0" r="3.55"/><circle cx="497.8" cy="204.0" r="3.55"/><circle cx="368.1" cy="204.0" r="3.55"/><circle cx="451.7" cy="204.1" r="3.55"/><circle cx="357.6" cy="204.1" r="3.55"/><circle cx="473.1" cy="204.1" r="3.55"/><circle cx="344.6" cy="204.1" r="3.55"/><circle cx="545.6" cy="204.1" r="3.55"/><circle cx="537.0" cy="204.1" r="3.55"/><circle cx="638.0" cy="204.2" r="3.55"/><circle cx="474.4" cy="204.2" r="3.55"/><circle cx="461.2" cy="204.2" r="3.55"/><circle cx="580.8" cy="204.3" r="3.55"/><circle cx="428.2" cy="204.3" r="3.55"/><circle cx="579.5" cy="204.3" r="3.55"/></g><g fill="#433b83"><circle cx="449.0" cy="204.3" r="3.55"/><circle cx="538.4" cy="204.3" r="3.55"/><circle cx="423.2" cy="204.4" r="3.55"/><circle cx="614.8" cy="204.4" r="3.55"/><circle cx="463.6" cy="204.4" r="3.55"/><circle cx="365.5" cy="204.5" r="3.55"/><circle cx="565.1" cy="204.5" r="3.55"/><circle cx="395.2" cy="204.6" r="3.55"/><circle cx="325.9" cy="204.6" r="3.55"/><circle cx="453.0" cy="204.7" r="3.55"/><circle cx="341.3" cy="204.7" r="3.55"/><circle cx="432.0" cy="204.7" r="3.55"/><circle cx="331.2" cy="204.7" r="3.55"/><circle cx="417.6" cy="204.8" r="3.55"/><circle cx="414.7" cy="204.8" r="3.55"/><circle cx="363.7" cy="204.8" r="3.55"/><circle cx="569.9" cy="204.9" r="3.55"/><circle cx="588.8" cy="205.0" r="3.55"/><circle cx="508.0" cy="205.0" r="3.55"/><circle cx="506.1" cy="205.0" r="3.55"/><circle cx="472.9" cy="205.0" r="3.55"/><circle cx="553.5" cy="205.0" r="3.55"/><circle cx="511.2" cy="205.1" r="3.55"/><circle cx="455.0" cy="205.1" r="3.55"/><circle cx="519.4" cy="205.1" r="3.55"/><circle cx="480.6" cy="205.2" r="3.55"/><circle cx="383.0" cy="205.2" r="3.55"/><circle cx="384.9" cy="205.3" r="3.55"/><circle cx="441.0" cy="205.3" r="3.55"/><circle cx="430.5" cy="205.3" r="3.55"/><circle cx="598.3" cy="205.3" r="3.55"/><circle cx="343.2" cy="205.4" r="3.55"/><circle cx="446.7" cy="205.4" r="3.55"/><circle cx="630.1" cy="205.5" r="3.55"/><circle cx="475.9" cy="205.5" r="3.55"/><circle cx="530.5" cy="205.6" r="3.55"/><circle cx="459.3" cy="205.6" r="3.55"/><circle cx="396.7" cy="205.7" r="3.55"/><circle cx="591.2" cy="205.7" r="3.55"/><circle cx="330.0" cy="205.7" r="3.55"/><circle cx="381.2" cy="205.7" r="3.55"/><circle cx="358.9" cy="205.7" r="3.55"/><circle cx="598.8" cy="205.7" r="3.55"/><circle cx="639.4" cy="205.9" r="3.55"/><circle cx="572.2" cy="206.0" r="3.55"/><circle cx="539.3" cy="206.0" r="3.55"/><circle cx="631.9" cy="206.0" r="3.55"/><circle cx="606.0" cy="206.0" r="3.55"/><circle cx="563.7" cy="206.1" r="3.55"/><circle cx="499.4" cy="206.1" r="3.55"/><circle cx="631.7" cy="206.1" r="3.55"/><circle cx="488.8" cy="206.2" r="3.55"/><circle cx="357.3" cy="206.2" r="3.55"/><circle cx="397.5" cy="206.2" r="3.55"/><circle cx="337.2" cy="206.2" r="3.55"/><circle cx="440.7" cy="206.3" r="3.55"/><circle cx="561.0" cy="206.3" r="3.55"/><circle cx="607.3" cy="206.3" r="3.55"/><circle cx="386.4" cy="206.3" r="3.55"/><circle cx="494.7" cy="206.4" r="3.55"/><circle cx="489.9" cy="206.4" r="3.55"/><circle cx="604.0" cy="206.5" r="3.55"/><circle cx="539.3" cy="206.5" r="3.55"/><circle cx="440.6" cy="206.5" r="3.55"/><circle cx="410.5" cy="206.6" r="3.55"/><circle cx="647.7" cy="206.6" r="3.55"/><circle cx="520.3" cy="206.6" r="3.55"/><circle cx="567.1" cy="206.7" r="3.55"/><circle cx="510.5" cy="206.7" r="3.55"/><circle cx="392.7" cy="206.7" r="3.55"/><circle cx="454.4" cy="206.7" r="3.55"/><circle cx="502.1" cy="206.7" r="3.55"/><circle cx="505.7" cy="206.7" r="3.55"/><circle cx="343.5" cy="206.7" r="3.55"/><circle cx="611.6" cy="206.7" r="3.55"/><circle cx="339.9" cy="206.7" r="3.55"/><circle cx="409.7" cy="206.8" r="3.55"/><circle cx="462.0" cy="206.8" r="3.55"/><circle cx="379.1" cy="206.8" r="3.55"/><circle cx="598.0" cy="206.9" r="3.55"/><circle cx="437.2" cy="206.9" r="3.55"/><circle cx="582.8" cy="206.9" r="3.55"/><circle cx="514.7" cy="207.0" r="3.55"/><circle cx="461.6" cy="207.0" r="3.55"/><circle cx="474.3" cy="207.0" r="3.55"/><circle cx="497.5" cy="207.0" r="3.55"/><circle cx="339.5" cy="207.0" r="3.55"/><circle cx="591.7" cy="207.0" r="3.55"/><circle cx="614.2" cy="207.1" r="3.55"/><circle cx="627.6" cy="207.1" r="3.55"/><circle cx="453.0" cy="207.1" r="3.55"/><circle cx="353.9" cy="207.1" r="3.55"/><circle cx="598.0" cy="207.1" r="3.55"/><circle cx="407.5" cy="207.1" r="3.55"/><circle cx="418.4" cy="207.2" r="3.55"/><circle cx="403.1" cy="207.2" r="3.55"/><circle cx="338.8" cy="207.2" r="3.55"/><circle cx="376.5" cy="207.3" r="3.55"/><circle cx="591.4" cy="207.3" r="3.55"/><circle cx="389.5" cy="207.4" r="3.55"/><circle cx="346.3" cy="207.4" r="3.55"/><circle cx="589.1" cy="207.5" r="3.55"/><circle cx="464.4" cy="207.5" r="3.55"/><circle cx="631.8" cy="207.5" r="3.55"/><circle cx="622.8" cy="207.5" r="3.55"/><circle cx="611.2" cy="207.6" r="3.55"/><circle cx="532.8" cy="207.6" r="3.55"/><circle cx="322.9" cy="207.6" r="3.55"/><circle cx="640.8" cy="207.6" r="3.55"/><circle cx="424.9" cy="207.7" r="3.55"/><circle cx="458.3" cy="207.7" r="3.55"/><circle cx="402.4" cy="207.8" r="3.55"/><circle cx="458.4" cy="207.8" r="3.55"/><circle cx="369.7" cy="207.8" r="3.55"/><circle cx="618.7" cy="207.8" r="3.55"/><circle cx="625.2" cy="207.9" r="3.55"/><circle cx="343.1" cy="207.9" r="3.55"/><circle cx="515.9" cy="207.9" r="3.55"/><circle cx="528.2" cy="207.9" r="3.55"/><circle cx="525.9" cy="208.0" r="3.55"/><circle cx="583.8" cy="208.0" r="3.55"/><circle cx="535.5" cy="208.0" r="3.55"/><circle cx="417.1" cy="208.1" r="3.55"/><circle cx="349.0" cy="208.1" r="3.55"/><circle cx="347.2" cy="208.2" r="3.55"/><circle cx="370.8" cy="208.2" r="3.55"/><circle cx="644.3" cy="208.2" r="3.55"/><circle cx="317.3" cy="208.2" r="3.55"/><circle cx="389.4" cy="208.2" r="3.55"/><circle cx="555.9" cy="208.2" r="3.55"/><circle cx="558.7" cy="208.3" r="3.55"/><circle cx="621.6" cy="208.3" r="3.55"/><circle cx="606.9" cy="208.4" r="3.55"/><circle cx="636.8" cy="208.4" r="3.55"/><circle cx="469.9" cy="208.5" r="3.55"/><circle cx="615.5" cy="208.5" r="3.55"/><circle cx="603.4" cy="208.6" r="3.55"/><circle cx="615.9" cy="208.6" r="3.55"/><circle cx="630.1" cy="208.6" r="3.55"/><circle cx="325.0" cy="208.6" r="3.55"/><circle cx="607.1" cy="208.7" r="3.55"/><circle cx="409.3" cy="208.8" r="3.55"/><circle cx="379.5" cy="208.8" r="3.55"/><circle cx="540.1" cy="208.8" r="3.55"/><circle cx="331.5" cy="208.8" r="3.55"/><circle cx="475.5" cy="208.8" r="3.55"/><circle cx="397.2" cy="208.8" r="3.55"/><circle cx="527.8" cy="208.9" r="3.55"/><circle cx="524.7" cy="208.9" r="3.55"/><circle cx="640.6" cy="208.9" r="3.55"/><circle cx="555.3" cy="208.9" r="3.55"/><circle cx="631.0" cy="209.0" r="3.55"/><circle cx="547.0" cy="209.0" r="3.55"/><circle cx="584.9" cy="209.1" r="3.55"/><circle cx="452.9" cy="209.1" r="3.55"/><circle cx="519.2" cy="209.1" r="3.55"/><circle cx="588.8" cy="209.1" r="3.55"/><circle cx="354.6" cy="209.2" r="3.55"/><circle cx="402.6" cy="209.2" r="3.55"/><circle cx="414.1" cy="209.2" r="3.55"/><circle cx="644.3" cy="209.4" r="3.55"/><circle cx="627.6" cy="209.4" r="3.55"/><circle cx="341.4" cy="209.4" r="3.55"/><circle cx="314.9" cy="209.4" r="3.55"/><circle cx="449.0" cy="209.4" r="3.55"/><circle cx="637.3" cy="209.5" r="3.55"/><circle cx="648.7" cy="209.5" r="3.55"/><circle cx="484.0" cy="209.6" r="3.55"/><circle cx="398.1" cy="209.6" r="3.55"/><circle cx="574.2" cy="209.7" r="3.55"/><circle cx="436.2" cy="209.7" r="3.55"/><circle cx="365.0" cy="209.7" r="3.55"/><circle cx="618.4" cy="209.7" r="3.55"/><circle cx="563.6" cy="209.7" r="3.55"/><circle cx="608.4" cy="209.7" r="3.55"/><circle cx="317.5" cy="209.8" r="3.55"/><circle cx="374.6" cy="209.8" r="3.55"/><circle cx="417.3" cy="209.8" r="3.55"/><circle cx="353.0" cy="209.8" r="3.55"/><circle cx="622.2" cy="209.8" r="3.55"/><circle cx="497.2" cy="209.9" r="3.55"/><circle cx="448.8" cy="209.9" r="3.55"/><circle cx="618.0" cy="209.9" r="3.55"/><circle cx="622.5" cy="209.9" r="3.55"/><circle cx="353.7" cy="209.9" r="3.55"/><circle cx="454.9" cy="210.0" r="3.55"/><circle cx="522.8" cy="210.0" r="3.55"/><circle cx="349.7" cy="210.0" r="3.55"/><circle cx="326.0" cy="210.1" r="3.55"/><circle cx="445.4" cy="210.1" r="3.55"/><circle cx="544.5" cy="210.2" r="3.55"/><circle cx="448.9" cy="210.2" r="3.55"/><circle cx="415.6" cy="210.2" r="3.55"/><circle cx="646.7" cy="210.3" r="3.55"/><circle cx="362.5" cy="210.3" r="3.55"/><circle cx="547.0" cy="210.3" r="3.55"/><circle cx="627.8" cy="210.3" r="3.55"/><circle cx="390.1" cy="210.4" r="3.55"/><circle cx="633.9" cy="210.4" r="3.55"/><circle cx="334.6" cy="210.4" r="3.55"/></g><g fill="#424086"><circle cx="507.7" cy="210.5" r="3.55"/><circle cx="350.1" cy="210.5" r="3.55"/><circle cx="418.1" cy="210.5" r="3.55"/><circle cx="571.6" cy="210.6" r="3.55"/><circle cx="622.8" cy="210.6" r="3.55"/><circle cx="474.1" cy="210.6" r="3.55"/><circle cx="583.2" cy="210.6" r="3.55"/><circle cx="497.7" cy="210.7" r="3.55"/><circle cx="596.6" cy="210.7" r="3.55"/><circle cx="420.1" cy="210.7" r="3.55"/><circle cx="545.7" cy="210.8" r="3.55"/><circle cx="460.2" cy="210.8" r="3.55"/><circle cx="335.9" cy="210.8" r="3.55"/><circle cx="625.1" cy="210.8" r="3.55"/><circle cx="394.5" cy="210.8" r="3.55"/><circle cx="325.8" cy="210.9" r="3.55"/><circle cx="657.4" cy="210.9" r="3.55"/><circle cx="570.5" cy="210.9" r="3.55"/><circle cx="477.6" cy="210.9" r="3.55"/><circle cx="461.5" cy="210.9" r="3.55"/><circle cx="512.1" cy="210.9" r="3.55"/><circle cx="411.4" cy="211.0" r="3.55"/><circle cx="453.6" cy="211.0" r="3.55"/><circle cx="649.3" cy="211.1" r="3.55"/><circle cx="361.4" cy="211.1" r="3.55"/><circle cx="420.3" cy="211.1" r="3.55"/><circle cx="580.2" cy="211.1" r="3.55"/><circle cx="630.2" cy="211.2" r="3.55"/><circle cx="567.2" cy="211.2" r="3.55"/><circle cx="584.7" cy="211.2" r="3.55"/><circle cx="418.7" cy="211.2" r="3.55"/><circle cx="317.2" cy="211.2" r="3.55"/><circle cx="541.8" cy="211.3" r="3.55"/><circle cx="356.3" cy="211.3" r="3.55"/><circle cx="507.2" cy="211.3" r="3.55"/><circle cx="572.2" cy="211.3" r="3.55"/><circle cx="508.3" cy="211.3" r="3.55"/><circle cx="523.3" cy="211.4" r="3.55"/><circle cx="507.0" cy="211.5" r="3.55"/><circle cx="637.5" cy="211.5" r="3.55"/><circle cx="591.6" cy="211.5" r="3.55"/><circle cx="507.4" cy="211.5" r="3.55"/><circle cx="479.9" cy="211.5" r="3.55"/><circle cx="425.5" cy="211.5" r="3.55"/><circle cx="503.9" cy="211.5" r="3.55"/><circle cx="579.6" cy="211.6" r="3.55"/><circle cx="484.2" cy="211.6" r="3.55"/><circle cx="409.7" cy="211.7" r="3.55"/><circle cx="556.6" cy="211.7" r="3.55"/><circle cx="464.0" cy="211.8" r="3.55"/><circle cx="550.1" cy="211.8" r="3.55"/><circle cx="472.3" cy="211.9" r="3.55"/><circle cx="523.4" cy="211.9" r="3.55"/><circle cx="449.1" cy="211.9" r="3.55"/><circle cx="543.1" cy="212.0" r="3.55"/><circle cx="417.3" cy="212.0" r="3.55"/><circle cx="582.5" cy="212.1" r="3.55"/><circle cx="513.2" cy="212.1" r="3.55"/><circle cx="432.7" cy="212.1" r="3.55"/><circle cx="554.7" cy="212.1" r="3.55"/><circle cx="379.8" cy="212.1" r="3.55"/><circle cx="454.9" cy="212.2" r="3.55"/><circle cx="427.4" cy="212.3" r="3.55"/><circle cx="575.0" cy="212.3" r="3.55"/><circle cx="523.9" cy="212.3" r="3.55"/><circle cx="517.8" cy="212.3" r="3.55"/><circle cx="535.5" cy="212.4" r="3.55"/><circle cx="624.5" cy="212.4" r="3.55"/><circle cx="323.8" cy="212.5" r="3.55"/><circle cx="572.1" cy="212.5" r="3.55"/><circle cx="530.1" cy="212.5" r="3.55"/><circle cx="349.8" cy="212.6" r="3.55"/><circle cx="643.3" cy="212.6" r="3.55"/><circle cx="436.2" cy="212.7" r="3.55"/><circle cx="498.4" cy="212.7" r="3.55"/><circle cx="541.6" cy="212.7" r="3.55"/><circle cx="577.1" cy="212.7" r="3.55"/><circle cx="543.3" cy="212.8" r="3.55"/><circle cx="528.5" cy="213.0" r="3.55"/><circle cx="411.0" cy="213.0" r="3.55"/><circle cx="612.3" cy="213.0" r="3.55"/><circle cx="336.0" cy="213.0" r="3.55"/><circle cx="612.7" cy="213.0" r="3.55"/><circle cx="630.2" cy="213.1" r="3.55"/><circle cx="528.3" cy="213.1" r="3.55"/><circle cx="448.9" cy="213.2" r="3.55"/><circle cx="442.1" cy="213.2" r="3.55"/><circle cx="391.0" cy="213.3" r="3.55"/><circle cx="417.0" cy="213.3" r="3.55"/><circle cx="388.7" cy="213.3" r="3.55"/><circle cx="353.2" cy="213.3" r="3.55"/><circle cx="629.6" cy="213.4" r="3.55"/><circle cx="347.6" cy="213.5" r="3.55"/><circle cx="605.6" cy="213.5" r="3.55"/><circle cx="446.8" cy="213.5" r="3.55"/><circle cx="331.5" cy="213.6" r="3.55"/><circle cx="307.6" cy="213.7" r="3.55"/><circle cx="366.1" cy="213.7" r="3.55"/><circle cx="592.1" cy="213.8" r="3.55"/><circle cx="580.9" cy="213.8" r="3.55"/><circle cx="596.9" cy="213.8" r="3.55"/><circle cx="359.3" cy="213.9" r="3.55"/><circle cx="475.4" cy="213.9" r="3.55"/><circle cx="336.3" cy="213.9" r="3.55"/><circle cx="494.7" cy="214.0" r="3.55"/><circle cx="406.8" cy="214.0" r="3.55"/><circle cx="605.3" cy="214.0" r="3.55"/><circle cx="384.5" cy="214.0" r="3.55"/><circle cx="354.3" cy="214.0" r="3.55"/><circle cx="410.4" cy="214.1" r="3.55"/><circle cx="607.4" cy="214.1" r="3.55"/><circle cx="539.6" cy="214.1" r="3.55"/><circle cx="380.8" cy="214.2" r="3.55"/><circle cx="439.5" cy="214.2" r="3.55"/><circle cx="321.1" cy="214.2" r="3.55"/><circle cx="551.6" cy="214.2" r="3.55"/><circle cx="573.8" cy="214.3" r="3.55"/><circle cx="542.9" cy="214.3" r="3.55"/><circle cx="356.2" cy="214.3" r="3.55"/><circle cx="486.6" cy="214.4" r="3.55"/><circle cx="358.3" cy="214.4" r="3.55"/><circle cx="592.5" cy="214.4" r="3.55"/><circle cx="455.2" cy="214.5" r="3.55"/><circle cx="512.5" cy="214.5" r="3.55"/><circle cx="447.1" cy="214.6" r="3.55"/><circle cx="626.5" cy="214.6" r="3.55"/><circle cx="331.8" cy="214.6" r="3.55"/><circle cx="428.3" cy="214.7" r="3.55"/><circle cx="432.6" cy="214.7" r="3.55"/><circle cx="396.5" cy="214.8" r="3.55"/><circle cx="440.1" cy="214.8" r="3.55"/><circle cx="328.6" cy="214.8" r="3.55"/><circle cx="642.6" cy="214.8" r="3.55"/><circle cx="409.0" cy="214.8" r="3.55"/><circle cx="629.7" cy="214.8" r="3.55"/><circle cx="609.1" cy="214.9" r="3.55"/><circle cx="349.2" cy="214.9" r="3.55"/><circle cx="575.8" cy="214.9" r="3.55"/><circle cx="500.7" cy="215.0" r="3.55"/><circle cx="452.6" cy="215.0" r="3.55"/><circle cx="373.9" cy="215.1" r="3.55"/><circle cx="374.1" cy="215.1" r="3.55"/><circle cx="377.3" cy="215.1" r="3.55"/><circle cx="543.6" cy="215.1" r="3.55"/><circle cx="330.2" cy="215.1" r="3.55"/><circle cx="598.4" cy="215.1" r="3.55"/><circle cx="358.9" cy="215.2" r="3.55"/><circle cx="648.4" cy="215.2" r="3.55"/><circle cx="453.9" cy="215.3" r="3.55"/><circle cx="308.0" cy="215.3" r="3.55"/><circle cx="597.6" cy="215.3" r="3.55"/><circle cx="576.4" cy="215.3" r="3.55"/><circle cx="506.8" cy="215.3" r="3.55"/><circle cx="427.4" cy="215.3" r="3.55"/><circle cx="477.4" cy="215.3" r="3.55"/><circle cx="344.2" cy="215.4" r="3.55"/><circle cx="444.1" cy="215.4" r="3.55"/><circle cx="518.4" cy="215.4" r="3.55"/><circle cx="647.2" cy="215.5" r="3.55"/><circle cx="356.6" cy="215.5" r="3.55"/><circle cx="608.7" cy="215.5" r="3.55"/><circle cx="308.0" cy="215.5" r="3.55"/><circle cx="567.5" cy="215.6" r="3.55"/><circle cx="571.4" cy="215.6" r="3.55"/><circle cx="415.8" cy="215.6" r="3.55"/><circle cx="419.6" cy="215.6" r="3.55"/><circle cx="332.6" cy="215.6" r="3.55"/><circle cx="572.6" cy="215.7" r="3.55"/><circle cx="362.3" cy="215.7" r="3.55"/><circle cx="318.5" cy="215.7" r="3.55"/><circle cx="458.4" cy="215.8" r="3.55"/><circle cx="491.5" cy="215.8" r="3.55"/><circle cx="605.8" cy="215.8" r="3.55"/><circle cx="446.9" cy="215.9" r="3.55"/><circle cx="428.8" cy="215.9" r="3.55"/><circle cx="316.5" cy="215.9" r="3.55"/><circle cx="545.6" cy="215.9" r="3.55"/><circle cx="512.2" cy="215.9" r="3.55"/><circle cx="596.8" cy="215.9" r="3.55"/><circle cx="433.0" cy="215.9" r="3.55"/><circle cx="382.2" cy="216.0" r="3.55"/><circle cx="352.2" cy="216.0" r="3.55"/><circle cx="627.1" cy="216.0" r="3.55"/><circle cx="317.0" cy="216.0" r="3.55"/><circle cx="528.6" cy="216.0" r="3.55"/><circle cx="482.1" cy="216.1" r="3.55"/><circle cx="357.2" cy="216.1" r="3.55"/><circle cx="321.8" cy="216.1" r="3.55"/><circle cx="429.5" cy="216.1" r="3.55"/><circle cx="625.4" cy="216.1" r="3.55"/><circle cx="403.9" cy="216.2" r="3.55"/><circle cx="507.3" cy="216.3" r="3.55"/><circle cx="402.9" cy="216.3" r="3.55"/><circle cx="400.7" cy="216.3" r="3.55"/><circle cx="645.7" cy="216.3" r="3.55"/><circle cx="642.4" cy="216.4" r="3.55"/><circle cx="336.1" cy="216.4" r="3.55"/><circle cx="497.4" cy="216.4" r="3.55"/><circle cx="554.8" cy="216.4" r="3.55"/><circle cx="412.6" cy="216.4" r="3.55"/><circle cx="335.7" cy="216.4" r="3.55"/><circle cx="517.8" cy="216.4" r="3.55"/><circle cx="423.9" cy="216.4" r="3.55"/><circle cx="352.6" cy="216.5" r="3.55"/><circle cx="585.2" cy="216.5" r="3.55"/><circle cx="428.3" cy="216.5" r="3.55"/><circle cx="528.8" cy="216.5" r="3.55"/></g><g fill="#404487"><circle cx="405.4" cy="216.6" r="3.55"/><circle cx="608.1" cy="216.6" r="3.55"/><circle cx="489.1" cy="216.6" r="3.55"/><circle cx="622.0" cy="216.6" r="3.55"/><circle cx="413.2" cy="216.6" r="3.55"/><circle cx="565.7" cy="216.7" r="3.55"/><circle cx="346.7" cy="216.8" r="3.55"/><circle cx="330.3" cy="216.8" r="3.55"/><circle cx="456.2" cy="216.8" r="3.55"/><circle cx="495.2" cy="216.8" r="3.55"/><circle cx="555.2" cy="216.8" r="3.55"/><circle cx="604.2" cy="216.8" r="3.55"/><circle cx="644.9" cy="216.9" r="3.55"/><circle cx="487.4" cy="216.9" r="3.55"/><circle cx="345.8" cy="216.9" r="3.55"/><circle cx="387.6" cy="217.0" r="3.55"/><circle cx="426.7" cy="217.1" r="3.55"/><circle cx="500.0" cy="217.1" r="3.55"/><circle cx="343.2" cy="217.1" r="3.55"/><circle cx="471.8" cy="217.1" r="3.55"/><circle cx="340.0" cy="217.2" r="3.55"/><circle cx="546.4" cy="217.2" r="3.55"/><circle cx="606.4" cy="217.2" r="3.55"/><circle cx="606.7" cy="217.3" r="3.55"/><circle cx="515.4" cy="217.3" r="3.55"/><circle cx="410.9" cy="217.4" r="3.55"/><circle cx="578.6" cy="217.5" r="3.55"/><circle cx="413.9" cy="217.5" r="3.55"/><circle cx="526.5" cy="217.5" r="3.55"/><circle cx="584.5" cy="217.5" r="3.55"/><circle cx="435.4" cy="217.5" r="3.55"/><circle cx="372.7" cy="217.5" r="3.55"/><circle cx="514.2" cy="217.6" r="3.55"/><circle cx="642.1" cy="217.6" r="3.55"/><circle cx="586.6" cy="217.6" r="3.55"/><circle cx="576.8" cy="217.7" r="3.55"/><circle cx="467.2" cy="217.7" r="3.55"/><circle cx="506.6" cy="217.7" r="3.55"/><circle cx="613.8" cy="217.8" r="3.55"/><circle cx="537.2" cy="217.8" r="3.55"/><circle cx="387.1" cy="217.8" r="3.55"/><circle cx="597.6" cy="217.8" r="3.55"/><circle cx="625.4" cy="217.8" r="3.55"/><circle cx="389.3" cy="217.9" r="3.55"/><circle cx="528.4" cy="217.9" r="3.55"/><circle cx="591.6" cy="218.0" r="3.55"/><circle cx="348.8" cy="218.1" r="3.55"/><circle cx="597.3" cy="218.1" r="3.55"/><circle cx="518.2" cy="218.2" r="3.55"/><circle cx="643.2" cy="218.2" r="3.55"/><circle cx="543.5" cy="218.2" r="3.55"/><circle cx="471.9" cy="218.3" r="3.55"/><circle cx="639.9" cy="218.4" r="3.55"/><circle cx="480.7" cy="218.4" r="3.55"/><circle cx="456.2" cy="218.4" r="3.55"/><circle cx="308.6" cy="218.4" r="3.55"/><circle cx="645.0" cy="218.5" r="3.55"/><circle cx="406.1" cy="218.5" r="3.55"/><circle cx="404.0" cy="218.5" r="3.55"/><circle cx="402.4" cy="218.5" r="3.55"/><circle cx="535.0" cy="218.5" r="3.55"/><circle cx="432.3" cy="218.5" r="3.55"/><circle cx="494.8" cy="218.5" r="3.55"/><circle cx="399.9" cy="218.7" r="3.55"/><circle cx="477.5" cy="218.7" r="3.55"/><circle cx="363.6" cy="218.7" r="3.55"/><circle cx="338.8" cy="218.7" r="3.55"/><circle cx="544.7" cy="218.7" r="3.55"/><circle cx="355.3" cy="218.8" r="3.55"/><circle cx="330.4" cy="218.8" r="3.55"/><circle cx="308.7" cy="218.8" r="3.55"/><circle cx="306.3" cy="218.8" r="3.55"/><circle cx="385.6" cy="218.9" r="3.55"/><circle cx="406.2" cy="218.9" r="3.55"/><circle cx="587.3" cy="218.9" r="3.55"/><circle cx="602.6" cy="218.9" r="3.55"/><circle cx="430.5" cy="218.9" r="3.55"/><circle cx="451.2" cy="219.0" r="3.55"/><circle cx="616.6" cy="219.0" r="3.55"/><circle cx="543.2" cy="219.0" r="3.55"/><circle cx="390.7" cy="219.0" r="3.55"/><circle cx="425.0" cy="219.1" r="3.55"/><circle cx="331.4" cy="219.1" r="3.55"/><circle cx="378.4" cy="219.2" r="3.55"/><circle cx="565.6" cy="219.2" r="3.55"/><circle cx="314.4" cy="219.2" r="3.55"/><circle cx="580.1" cy="219.2" r="3.55"/><circle cx="568.1" cy="219.2" r="3.55"/><circle cx="610.4" cy="219.3" r="3.55"/><circle cx="376.1" cy="219.3" r="3.55"/><circle cx="398.8" cy="219.4" r="3.55"/><circle cx="471.7" cy="219.4" r="3.55"/><circle cx="576.7" cy="219.4" r="3.55"/><circle cx="449.8" cy="219.4" r="3.55"/><circle cx="583.9" cy="219.5" r="3.55"/><circle cx="345.2" cy="219.5" r="3.55"/><circle cx="461.3" cy="219.5" r="3.55"/><circle cx="605.2" cy="219.5" r="3.55"/><circle cx="345.6" cy="219.5" r="3.55"/><circle cx="454.4" cy="219.6" r="3.55"/><circle cx="453.4" cy="219.7" r="3.55"/><circle cx="608.2" cy="219.8" r="3.55"/><circle cx="574.5" cy="219.8" r="3.55"/><circle cx="345.7" cy="219.9" r="3.55"/><circle cx="334.7" cy="219.9" r="3.55"/><circle cx="553.4" cy="219.9" r="3.55"/><circle cx="311.7" cy="219.9" r="3.55"/><circle cx="613.1" cy="220.0" r="3.55"/><circle cx="454.9" cy="220.0" r="3.55"/><circle cx="484.2" cy="220.1" r="3.55"/><circle cx="360.8" cy="220.2" r="3.55"/><circle cx="363.0" cy="220.2" r="3.55"/><circle cx="423.7" cy="220.3" r="3.55"/><circle cx="623.6" cy="220.3" r="3.55"/><circle cx="626.2" cy="220.4" r="3.55"/><circle cx="581.0" cy="220.5" r="3.55"/><circle cx="532.7" cy="220.5" r="3.55"/><circle cx="462.0" cy="220.5" r="3.55"/><circle cx="494.8" cy="220.5" r="3.55"/><circle cx="598.6" cy="220.5" r="3.55"/><circle cx="426.5" cy="220.6" r="3.55"/><circle cx="346.7" cy="220.6" r="3.55"/><circle cx="471.8" cy="220.6" r="3.55"/><circle cx="347.0" cy="220.6" r="3.55"/><circle cx="562.3" cy="220.6" r="3.55"/><circle cx="566.0" cy="220.6" r="3.55"/><circle cx="591.7" cy="220.7" r="3.55"/><circle cx="635.5" cy="220.8" r="3.55"/><circle cx="355.5" cy="220.8" r="3.55"/><circle cx="585.7" cy="220.8" r="3.55"/><circle cx="583.9" cy="220.8" r="3.55"/><circle cx="606.6" cy="220.9" r="3.55"/><circle cx="643.0" cy="220.9" r="3.55"/><circle cx="454.7" cy="220.9" r="3.55"/><circle cx="530.1" cy="220.9" r="3.55"/><circle cx="529.1" cy="220.9" r="3.55"/><circle cx="623.9" cy="221.0" r="3.55"/><circle cx="489.2" cy="221.0" r="3.55"/><circle cx="619.5" cy="221.2" r="3.55"/><circle cx="506.8" cy="221.2" r="3.55"/><circle cx="528.0" cy="221.2" r="3.55"/><circle cx="370.8" cy="221.3" r="3.55"/><circle cx="625.4" cy="221.3" r="3.55"/><circle cx="634.5" cy="221.3" r="3.55"/><circle cx="388.5" cy="221.4" r="3.55"/><circle cx="634.6" cy="221.4" r="3.55"/><circle cx="334.4" cy="221.4" r="3.55"/><circle cx="487.4" cy="221.4" r="3.55"/><circle cx="451.9" cy="221.5" r="3.55"/><circle cx="457.6" cy="221.5" r="3.55"/><circle cx="567.1" cy="221.6" r="3.55"/><circle cx="586.2" cy="221.6" r="3.55"/><circle cx="338.8" cy="221.6" r="3.55"/><circle cx="565.6" cy="221.6" r="3.55"/><circle cx="522.2" cy="221.7" r="3.55"/><circle cx="636.0" cy="221.7" r="3.55"/><circle cx="542.6" cy="221.8" r="3.55"/><circle cx="477.8" cy="221.8" r="3.55"/><circle cx="363.8" cy="221.9" r="3.55"/><circle cx="613.2" cy="222.0" r="3.55"/><circle cx="603.2" cy="222.0" r="3.55"/><circle cx="400.1" cy="222.0" r="3.55"/><circle cx="508.1" cy="222.1" r="3.55"/><circle cx="608.6" cy="222.1" r="3.55"/><circle cx="397.2" cy="222.2" r="3.55"/><circle cx="468.6" cy="222.2" r="3.55"/><circle cx="322.8" cy="222.2" r="3.55"/><circle cx="575.2" cy="222.3" r="3.55"/><circle cx="318.3" cy="222.3" r="3.55"/><circle cx="438.4" cy="222.3" r="3.55"/><circle cx="514.6" cy="222.5" r="3.55"/><circle cx="343.8" cy="222.5" r="3.55"/><circle cx="578.7" cy="222.5" r="3.55"/><circle cx="323.8" cy="222.5" r="3.55"/><circle cx="329.7" cy="222.6" r="3.55"/><circle cx="336.5" cy="222.6" r="3.55"/><circle cx="618.3" cy="222.6" r="3.55"/><circle cx="620.9" cy="222.7" r="3.55"/></g><g fill="#3f4988"><circle cx="384.1" cy="222.7" r="3.55"/><circle cx="511.9" cy="222.7" r="3.55"/><circle cx="524.1" cy="222.7" r="3.55"/><circle cx="441.4" cy="222.8" r="3.55"/><circle cx="402.5" cy="222.8" r="3.55"/><circle cx="338.3" cy="222.8" r="3.55"/><circle cx="516.1" cy="222.9" r="3.55"/><circle cx="501.0" cy="222.9" r="3.55"/><circle cx="421.0" cy="222.9" r="3.55"/><circle cx="569.7" cy="222.9" r="3.55"/><circle cx="586.2" cy="223.0" r="3.55"/><circle cx="313.2" cy="223.0" r="3.55"/><circle cx="513.2" cy="223.0" r="3.55"/><circle cx="372.9" cy="223.0" r="3.55"/><circle cx="324.2" cy="223.1" r="3.55"/><circle cx="641.4" cy="223.2" r="3.55"/><circle cx="531.2" cy="223.2" r="3.55"/><circle cx="447.4" cy="223.2" r="3.55"/><circle cx="410.4" cy="223.2" r="3.55"/><circle cx="427.8" cy="223.3" r="3.55"/><circle cx="511.3" cy="223.3" r="3.55"/><circle cx="567.1" cy="223.3" r="3.55"/><circle cx="312.4" cy="223.4" r="3.55"/><circle cx="421.6" cy="223.4" r="3.55"/><circle cx="332.3" cy="223.4" r="3.55"/><circle cx="380.7" cy="223.4" r="3.55"/><circle cx="398.5" cy="223.4" r="3.55"/><circle cx="361.2" cy="223.4" r="3.55"/><circle cx="549.7" cy="223.5" r="3.55"/><circle cx="539.7" cy="223.5" r="3.55"/><circle cx="625.3" cy="223.6" r="3.55"/><circle cx="460.9" cy="223.6" r="3.55"/><circle cx="611.8" cy="223.7" r="3.55"/><circle cx="381.4" cy="223.7" r="3.55"/><circle cx="437.3" cy="223.7" r="3.55"/><circle cx="491.6" cy="223.7" r="3.55"/><circle cx="491.4" cy="223.7" r="3.55"/><circle cx="313.1" cy="223.7" r="3.55"/><circle cx="324.7" cy="223.8" r="3.55"/><circle cx="469.0" cy="223.8" r="3.55"/><circle cx="410.6" cy="223.8" r="3.55"/><circle cx="328.0" cy="223.8" r="3.55"/><circle cx="567.6" cy="223.8" r="3.55"/><circle cx="318.0" cy="223.9" r="3.55"/><circle cx="327.1" cy="223.9" r="3.55"/><circle cx="453.7" cy="223.9" r="3.55"/><circle cx="483.8" cy="223.9" r="3.55"/><circle cx="456.6" cy="224.1" r="3.55"/><circle cx="604.3" cy="224.1" r="3.55"/><circle cx="550.0" cy="224.2" r="3.55"/><circle cx="409.5" cy="224.2" r="3.55"/><circle cx="478.8" cy="224.2" r="3.55"/><circle cx="618.6" cy="224.3" r="3.55"/><circle cx="580.6" cy="224.3" r="3.55"/><circle cx="409.9" cy="224.3" r="3.55"/><circle cx="431.3" cy="224.4" r="3.55"/><circle cx="309.2" cy="224.4" r="3.55"/><circle cx="308.8" cy="224.4" r="3.55"/><circle cx="624.7" cy="224.6" r="3.55"/><circle cx="562.2" cy="224.6" r="3.55"/><circle cx="374.9" cy="224.6" r="3.55"/><circle cx="417.7" cy="224.6" r="3.55"/><circle cx="364.9" cy="224.7" r="3.55"/><circle cx="321.2" cy="224.8" r="3.55"/><circle cx="529.0" cy="224.8" r="3.55"/><circle cx="447.2" cy="224.9" r="3.55"/><circle cx="631.4" cy="224.9" r="3.55"/><circle cx="598.9" cy="224.9" r="3.55"/><circle cx="478.5" cy="225.0" r="3.55"/><circle cx="347.1" cy="225.0" r="3.55"/><circle cx="357.7" cy="225.0" r="3.55"/><circle cx="608.0" cy="225.0" r="3.55"/><circle cx="417.5" cy="225.1" r="3.55"/><circle cx="596.8" cy="225.1" r="3.55"/><circle cx="522.8" cy="225.2" r="3.55"/><circle cx="379.0" cy="225.2" r="3.55"/><circle cx="384.0" cy="225.2" r="3.55"/><circle cx="526.2" cy="225.2" r="3.55"/><circle cx="627.9" cy="225.3" r="3.55"/><circle cx="556.7" cy="225.4" r="3.55"/><circle cx="507.7" cy="225.4" r="3.55"/><circle cx="311.7" cy="225.4" r="3.55"/><circle cx="485.2" cy="225.5" r="3.55"/><circle cx="419.6" cy="225.5" r="3.55"/><circle cx="451.9" cy="225.6" r="3.55"/><circle cx="620.8" cy="225.6" r="3.55"/><circle cx="540.8" cy="225.6" r="3.55"/><circle cx="470.0" cy="225.7" r="3.55"/><circle cx="404.0" cy="225.7" r="3.55"/><circle cx="489.3" cy="225.7" r="3.55"/><circle cx="519.3" cy="225.7" r="3.55"/><circle cx="310.3" cy="225.7" r="3.55"/><circle cx="618.9" cy="225.8" r="3.55"/><circle cx="536.4" cy="225.8" r="3.55"/><circle cx="591.6" cy="225.8" r="3.55"/><circle cx="399.2" cy="225.8" r="3.55"/><circle cx="520.8" cy="225.9" r="3.55"/><circle cx="554.3" cy="225.9" r="3.55"/><circle cx="550.9" cy="225.9" r="3.55"/><circle cx="426.5" cy="225.9" r="3.55"/><circle cx="370.2" cy="225.9" r="3.55"/><circle cx="590.7" cy="225.9" r="3.55"/><circle cx="362.6" cy="225.9" r="3.55"/><circle cx="487.8" cy="226.0" r="3.55"/><circle cx="483.9" cy="226.0" r="3.55"/><circle cx="454.3" cy="226.0" r="3.55"/><circle cx="515.4" cy="226.0" r="3.55"/><circle cx="453.2" cy="226.0" r="3.55"/><circle cx="532.4" cy="226.1" r="3.55"/><circle cx="418.2" cy="226.1" r="3.55"/><circle cx="614.2" cy="226.1" r="3.55"/><circle cx="597.9" cy="226.1" r="3.55"/><circle cx="487.9" cy="226.2" r="3.55"/><circle cx="528.5" cy="226.2" r="3.55"/><circle cx="625.3" cy="226.2" r="3.55"/><circle cx="425.4" cy="226.3" r="3.55"/><circle cx="572.2" cy="226.3" r="3.55"/><circle cx="541.7" cy="226.4" r="3.55"/><circle cx="483.4" cy="226.4" r="3.55"/><circle cx="579.1" cy="226.4" r="3.55"/><circle cx="397.4" cy="226.4" r="3.55"/><circle cx="584.2" cy="226.4" r="3.55"/><circle cx="398.7" cy="226.5" r="3.55"/><circle cx="580.7" cy="226.5" r="3.55"/><circle cx="475.1" cy="226.5" r="3.55"/><circle cx="418.7" cy="226.5" r="3.55"/><circle cx="333.4" cy="226.6" r="3.55"/><circle cx="475.0" cy="226.6" r="3.55"/><circle cx="482.4" cy="226.6" r="3.55"/><circle cx="514.5" cy="226.7" r="3.55"/><circle cx="368.7" cy="226.7" r="3.55"/><circle cx="440.1" cy="226.7" r="3.55"/><circle cx="418.4" cy="226.8" r="3.55"/><circle cx="508.4" cy="226.8" r="3.55"/><circle cx="340.3" cy="227.0" r="3.55"/><circle cx="513.4" cy="227.0" r="3.55"/><circle cx="492.3" cy="227.0" r="3.55"/><circle cx="356.4" cy="227.1" r="3.55"/><circle cx="619.3" cy="227.1" r="3.55"/><circle cx="348.7" cy="227.1" r="3.55"/><circle cx="392.0" cy="227.1" r="3.55"/><circle cx="439.0" cy="227.2" r="3.55"/><circle cx="336.7" cy="227.3" r="3.55"/><circle cx="487.9" cy="227.4" r="3.55"/><circle cx="396.5" cy="227.4" r="3.55"/><circle cx="320.7" cy="227.4" r="3.55"/><circle cx="436.1" cy="227.4" r="3.55"/><circle cx="630.7" cy="227.5" r="3.55"/><circle cx="459.4" cy="227.6" r="3.55"/><circle cx="592.8" cy="227.7" r="3.55"/><circle cx="473.8" cy="227.7" r="3.55"/><circle cx="501.1" cy="227.7" r="3.55"/><circle cx="322.5" cy="227.7" r="3.55"/><circle cx="419.1" cy="227.7" r="3.55"/><circle cx="441.0" cy="227.7" r="3.55"/><circle cx="390.1" cy="227.7" r="3.55"/><circle cx="499.9" cy="227.8" r="3.55"/><circle cx="542.7" cy="227.8" r="3.55"/><circle cx="520.0" cy="227.8" r="3.55"/><circle cx="392.9" cy="227.8" r="3.55"/><circle cx="311.8" cy="227.9" r="3.55"/><circle cx="361.9" cy="227.9" r="3.55"/><circle cx="503.1" cy="228.0" r="3.55"/><circle cx="524.4" cy="228.1" r="3.55"/><circle cx="376.0" cy="228.2" r="3.55"/><circle cx="354.4" cy="228.2" r="3.55"/><circle cx="313.8" cy="228.3" r="3.55"/><circle cx="476.7" cy="228.4" r="3.55"/><circle cx="337.4" cy="228.4" r="3.55"/><circle cx="424.5" cy="228.5" r="3.55"/><circle cx="554.2" cy="228.5" r="3.55"/><circle cx="506.7" cy="228.5" r="3.55"/><circle cx="464.5" cy="228.5" r="3.55"/><circle cx="531.1" cy="228.7" r="3.55"/><circle cx="504.3" cy="228.8" r="3.55"/></g><g fill="#3d4d8a"><circle cx="337.7" cy="228.8" r="3.55"/><circle cx="406.1" cy="228.9" r="3.55"/><circle cx="317.4" cy="228.9" r="3.55"/><circle cx="409.5" cy="228.9" r="3.55"/><circle cx="608.6" cy="228.9" r="3.55"/><circle cx="424.9" cy="229.0" r="3.55"/><circle cx="447.6" cy="229.0" r="3.55"/><circle cx="555.9" cy="229.0" r="3.55"/><circle cx="492.2" cy="229.1" r="3.55"/><circle cx="501.5" cy="229.1" r="3.55"/><circle cx="472.7" cy="229.1" r="3.55"/><circle cx="358.7" cy="229.1" r="3.55"/><circle cx="582.2" cy="229.2" r="3.55"/><circle cx="632.4" cy="229.2" r="3.55"/><circle cx="623.4" cy="229.2" r="3.55"/><circle cx="615.6" cy="229.3" r="3.55"/><circle cx="442.8" cy="229.3" r="3.55"/><circle cx="476.8" cy="229.3" r="3.55"/><circle cx="356.2" cy="229.4" r="3.55"/><circle cx="475.1" cy="229.4" r="3.55"/><circle cx="508.7" cy="229.4" r="3.55"/><circle cx="364.4" cy="229.5" r="3.55"/><circle cx="625.1" cy="229.5" r="3.55"/><circle cx="560.3" cy="229.6" r="3.55"/><circle cx="593.6" cy="229.6" r="3.55"/><circle cx="528.2" cy="229.6" r="3.55"/><circle cx="493.5" cy="229.7" r="3.55"/><circle cx="606.1" cy="229.7" r="3.55"/><circle cx="489.4" cy="229.7" r="3.55"/><circle cx="424.6" cy="229.7" r="3.55"/><circle cx="600.6" cy="229.8" r="3.55"/><circle cx="574.0" cy="229.9" r="3.55"/><circle cx="631.7" cy="230.0" r="3.55"/><circle cx="532.1" cy="230.0" r="3.55"/><circle cx="581.8" cy="230.1" r="3.55"/><circle cx="578.9" cy="230.1" r="3.55"/><circle cx="464.9" cy="230.1" r="3.55"/><circle cx="337.7" cy="230.1" r="3.55"/><circle cx="488.9" cy="230.1" r="3.55"/><circle cx="624.4" cy="230.2" r="3.55"/><circle cx="351.1" cy="230.2" r="3.55"/><circle cx="440.3" cy="230.3" r="3.55"/><circle cx="535.2" cy="230.3" r="3.55"/><circle cx="411.7" cy="230.3" r="3.55"/><circle cx="583.0" cy="230.3" r="3.55"/><circle cx="367.9" cy="230.3" r="3.55"/><circle cx="386.6" cy="230.4" r="3.55"/><circle cx="376.7" cy="230.5" r="3.55"/><circle cx="347.5" cy="230.6" r="3.55"/><circle cx="627.7" cy="230.7" r="3.55"/><circle cx="467.1" cy="230.7" r="3.55"/><circle cx="330.1" cy="230.7" r="3.55"/><circle cx="387.0" cy="230.7" r="3.55"/><circle cx="327.5" cy="230.8" r="3.55"/><circle cx="332.6" cy="230.9" r="3.55"/><circle cx="460.8" cy="230.9" r="3.55"/><circle cx="532.8" cy="231.0" r="3.55"/><circle cx="393.9" cy="231.0" r="3.55"/><circle cx="346.7" cy="231.0" r="3.55"/><circle cx="506.1" cy="231.0" r="3.55"/><circle cx="492.0" cy="231.0" r="3.55"/><circle cx="585.4" cy="231.0" r="3.55"/><circle cx="343.1" cy="231.0" r="3.55"/><circle cx="518.4" cy="231.0" r="3.55"/><circle cx="576.2" cy="231.1" r="3.55"/><circle cx="454.0" cy="231.2" r="3.55"/><circle cx="515.9" cy="231.2" r="3.55"/><circle cx="383.4" cy="231.2" r="3.55"/><circle cx="543.2" cy="231.2" r="3.55"/><circle cx="392.2" cy="231.3" r="3.55"/><circle cx="435.2" cy="231.4" r="3.55"/><circle cx="586.1" cy="231.4" r="3.55"/><circle cx="504.3" cy="231.4" r="3.55"/><circle cx="389.4" cy="231.5" r="3.55"/><circle cx="562.2" cy="231.5" r="3.55"/><circle cx="410.3" cy="231.5" r="3.55"/><circle cx="577.9" cy="231.5" r="3.55"/><circle cx="629.2" cy="231.5" r="3.55"/><circle cx="494.1" cy="231.6" r="3.55"/><circle cx="572.8" cy="231.6" r="3.55"/><circle cx="454.4" cy="231.6" r="3.55"/><circle cx="522.8" cy="231.7" r="3.55"/><circle cx="506.7" cy="231.7" r="3.55"/><circle cx="479.1" cy="231.7" r="3.55"/><circle cx="491.9" cy="231.7" r="3.55"/><circle cx="510.7" cy="231.8" r="3.55"/><circle cx="436.1" cy="231.8" r="3.55"/><circle cx="406.0" cy="231.8" r="3.55"/><circle cx="571.6" cy="231.8" r="3.55"/><circle cx="323.7" cy="231.9" r="3.55"/><circle cx="618.3" cy="232.0" r="3.55"/><circle cx="386.0" cy="232.0" r="3.55"/><circle cx="398.1" cy="232.0" r="3.55"/><circle cx="448.3" cy="232.1" r="3.55"/><circle cx="397.5" cy="232.2" r="3.55"/><circle cx="546.5" cy="232.2" r="3.55"/><circle cx="376.3" cy="232.2" r="3.55"/><circle cx="510.9" cy="232.2" r="3.55"/><circle cx="475.3" cy="232.3" r="3.55"/><circle cx="387.9" cy="232.3" r="3.55"/><circle cx="588.4" cy="232.3" r="3.55"/><circle cx="369.3" cy="232.3" r="3.55"/><circle cx="615.1" cy="232.4" r="3.55"/><circle cx="413.0" cy="232.5" r="3.55"/><circle cx="324.0" cy="232.5" r="3.55"/><circle cx="550.3" cy="232.5" r="3.55"/><circle cx="498.7" cy="232.5" r="3.55"/><circle cx="353.6" cy="232.5" r="3.55"/><circle cx="488.4" cy="232.6" r="3.55"/><circle cx="345.3" cy="232.6" r="3.55"/><circle cx="394.2" cy="232.7" r="3.55"/><circle cx="593.3" cy="232.7" r="3.55"/><circle cx="340.8" cy="232.7" r="3.55"/><circle cx="416.2" cy="232.8" r="3.55"/><circle cx="505.6" cy="232.8" r="3.55"/><circle cx="577.8" cy="232.8" r="3.55"/><circle cx="389.3" cy="232.8" r="3.55"/><circle cx="508.6" cy="232.9" r="3.55"/><circle cx="363.2" cy="232.9" r="3.55"/><circle cx="327.1" cy="233.0" r="3.55"/><circle cx="491.8" cy="233.0" r="3.55"/><circle cx="420.6" cy="233.1" r="3.55"/><circle cx="514.9" cy="233.1" r="3.55"/><circle cx="433.2" cy="233.1" r="3.55"/><circle cx="343.7" cy="233.1" r="3.55"/><circle cx="393.7" cy="233.1" r="3.55"/><circle cx="408.1" cy="233.1" r="3.55"/><circle cx="575.4" cy="233.2" r="3.55"/><circle cx="338.6" cy="233.2" r="3.55"/><circle cx="509.7" cy="233.3" r="3.55"/><circle cx="566.4" cy="233.4" r="3.55"/><circle cx="489.7" cy="233.4" r="3.55"/><circle cx="357.5" cy="233.4" r="3.55"/><circle cx="530.7" cy="233.4" r="3.55"/><circle cx="450.8" cy="233.5" r="3.55"/><circle cx="544.2" cy="233.5" r="3.55"/><circle cx="606.9" cy="233.5" r="3.55"/><circle cx="545.6" cy="233.5" r="3.55"/><circle cx="374.3" cy="233.6" r="3.55"/><circle cx="493.0" cy="233.7" r="3.55"/><circle cx="603.0" cy="233.7" r="3.55"/><circle cx="471.6" cy="233.8" r="3.55"/><circle cx="558.8" cy="233.8" r="3.55"/><circle cx="594.4" cy="233.8" r="3.55"/><circle cx="602.4" cy="233.8" r="3.55"/><circle cx="597.8" cy="233.9" r="3.55"/><circle cx="504.9" cy="234.0" r="3.55"/><circle cx="608.4" cy="234.0" r="3.55"/><circle cx="604.0" cy="234.1" r="3.55"/><circle cx="487.5" cy="234.2" r="3.55"/><circle cx="429.0" cy="234.2" r="3.55"/><circle cx="491.7" cy="234.2" r="3.55"/><circle cx="583.9" cy="234.3" r="3.55"/><circle cx="610.3" cy="234.4" r="3.55"/><circle cx="422.4" cy="234.6" r="3.55"/><circle cx="353.4" cy="234.7" r="3.55"/><circle cx="561.5" cy="234.7" r="3.55"/><circle cx="379.0" cy="234.7" r="3.55"/><circle cx="624.5" cy="234.7" r="3.55"/><circle cx="460.5" cy="234.8" r="3.55"/><circle cx="547.5" cy="234.9" r="3.55"/><circle cx="360.8" cy="234.9" r="3.55"/><circle cx="364.6" cy="234.9" r="3.55"/><circle cx="398.3" cy="234.9" r="3.55"/><circle cx="477.7" cy="234.9" r="3.55"/></g><g fill="#3b528b"><circle cx="578.8" cy="235.1" r="3.55"/><circle cx="451.6" cy="235.1" r="3.55"/><circle cx="410.3" cy="235.1" r="3.55"/><circle cx="442.2" cy="235.1" r="3.55"/><circle cx="411.0" cy="235.2" r="3.55"/><circle cx="459.9" cy="235.2" r="3.55"/><circle cx="559.9" cy="235.2" r="3.55"/><circle cx="480.7" cy="235.4" r="3.55"/><circle cx="617.0" cy="235.4" r="3.55"/><circle cx="570.9" cy="235.5" r="3.55"/><circle cx="591.8" cy="235.5" r="3.55"/><circle cx="420.8" cy="235.6" r="3.55"/><circle cx="333.5" cy="235.6" r="3.55"/><circle cx="408.5" cy="235.6" r="3.55"/><circle cx="502.5" cy="235.6" r="3.55"/><circle cx="505.4" cy="235.6" r="3.55"/><circle cx="551.9" cy="235.7" r="3.55"/><circle cx="511.2" cy="235.8" r="3.55"/><circle cx="334.4" cy="235.8" r="3.55"/><circle cx="547.8" cy="235.9" r="3.55"/><circle cx="427.4" cy="235.9" r="3.55"/><circle cx="402.8" cy="235.9" r="3.55"/><circle cx="571.1" cy="236.0" r="3.55"/><circle cx="588.6" cy="236.0" r="3.55"/><circle cx="556.9" cy="236.0" r="3.55"/><circle cx="493.5" cy="236.1" r="3.55"/><circle cx="541.5" cy="236.1" r="3.55"/><circle cx="523.2" cy="236.1" r="3.55"/><circle cx="357.2" cy="236.1" r="3.55"/><circle cx="339.0" cy="236.1" r="3.55"/><circle cx="333.7" cy="236.3" r="3.55"/><circle cx="465.4" cy="236.4" r="3.55"/><circle cx="560.4" cy="236.4" r="3.55"/><circle cx="478.5" cy="236.4" r="3.55"/><circle cx="427.6" cy="236.4" r="3.55"/><circle cx="516.3" cy="236.5" r="3.55"/><circle cx="322.7" cy="236.5" r="3.55"/><circle cx="332.5" cy="236.5" r="3.55"/><circle cx="577.7" cy="236.7" r="3.55"/><circle cx="538.7" cy="236.7" r="3.55"/><circle cx="354.6" cy="236.9" r="3.55"/><circle cx="571.3" cy="237.0" r="3.55"/><circle cx="489.6" cy="237.0" r="3.55"/><circle cx="430.6" cy="237.1" r="3.55"/><circle cx="551.3" cy="237.2" r="3.55"/><circle cx="445.0" cy="237.2" r="3.55"/><circle cx="413.5" cy="237.2" r="3.55"/><circle cx="361.6" cy="237.3" r="3.55"/><circle cx="351.4" cy="237.3" r="3.55"/><circle cx="431.2" cy="237.4" r="3.55"/><circle cx="585.8" cy="237.5" r="3.55"/><circle cx="353.5" cy="237.5" r="3.55"/><circle cx="546.2" cy="237.6" r="3.55"/><circle cx="552.0" cy="237.6" r="3.55"/><circle cx="391.4" cy="237.6" r="3.55"/><circle cx="378.2" cy="237.7" r="3.55"/><circle cx="502.0" cy="237.7" r="3.55"/><circle cx="368.3" cy="237.7" r="3.55"/><circle cx="605.6" cy="237.7" r="3.55"/><circle cx="402.0" cy="237.8" r="3.55"/><circle cx="423.9" cy="237.9" r="3.55"/><circle cx="374.6" cy="237.9" r="3.55"/><circle cx="517.8" cy="238.0" r="3.55"/><circle cx="615.0" cy="238.0" r="3.55"/><circle cx="365.7" cy="238.0" r="3.55"/><circle cx="618.8" cy="238.0" r="3.55"/><circle cx="497.2" cy="238.1" r="3.55"/><circle cx="522.0" cy="238.2" r="3.55"/><circle cx="606.3" cy="238.2" r="3.55"/><circle cx="345.4" cy="238.2" r="3.55"/><circle cx="497.5" cy="238.2" r="3.55"/><circle cx="378.8" cy="238.3" r="3.55"/><circle cx="523.5" cy="238.4" r="3.55"/><circle cx="571.8" cy="238.4" r="3.55"/><circle cx="591.1" cy="238.4" r="3.55"/><circle cx="570.6" cy="238.5" r="3.55"/><circle cx="565.8" cy="238.5" r="3.55"/><circle cx="527.2" cy="238.6" r="3.55"/><circle cx="353.4" cy="238.7" r="3.55"/><circle cx="489.1" cy="238.7" r="3.55"/><circle cx="452.9" cy="238.7" r="3.55"/><circle cx="349.0" cy="238.8" r="3.55"/><circle cx="429.6" cy="238.9" r="3.55"/><circle cx="480.8" cy="238.9" r="3.55"/><circle cx="362.2" cy="239.0" r="3.55"/><circle cx="431.4" cy="239.0" r="3.55"/><circle cx="381.9" cy="239.0" r="3.55"/><circle cx="586.4" cy="239.1" r="3.55"/><circle cx="447.7" cy="239.1" r="3.55"/><circle cx="317.3" cy="239.1" r="3.55"/><circle cx="353.8" cy="239.1" r="3.55"/><circle cx="579.4" cy="239.1" r="3.55"/><circle cx="386.8" cy="239.2" r="3.55"/><circle cx="391.6" cy="239.5" r="3.55"/><circle cx="343.2" cy="239.5" r="3.55"/><circle cx="590.8" cy="239.5" r="3.55"/><circle cx="583.5" cy="239.5" r="3.55"/><circle cx="346.5" cy="239.6" r="3.55"/><circle cx="590.9" cy="239.6" r="3.55"/><circle cx="488.8" cy="239.7" r="3.55"/><circle cx="569.9" cy="239.7" r="3.55"/><circle cx="411.8" cy="239.7" r="3.55"/><circle cx="391.3" cy="239.8" r="3.55"/><circle cx="366.0" cy="239.8" r="3.55"/><circle cx="385.0" cy="239.8" r="3.55"/><circle cx="565.7" cy="239.9" r="3.55"/><circle cx="365.3" cy="240.1" r="3.55"/><circle cx="337.4" cy="240.2" r="3.55"/><circle cx="596.7" cy="240.3" r="3.55"/><circle cx="375.8" cy="240.3" r="3.55"/><circle cx="342.8" cy="240.3" r="3.55"/><circle cx="529.5" cy="240.4" r="3.55"/><circle cx="389.8" cy="240.4" r="3.55"/><circle cx="543.3" cy="240.5" r="3.55"/><circle cx="531.3" cy="240.5" r="3.55"/><circle cx="575.1" cy="240.5" r="3.55"/><circle cx="383.3" cy="240.6" r="3.55"/><circle cx="353.0" cy="240.7" r="3.55"/><circle cx="584.3" cy="240.7" r="3.55"/><circle cx="560.3" cy="240.7" r="3.55"/><circle cx="481.5" cy="240.8" r="3.55"/><circle cx="589.1" cy="240.8" r="3.55"/><circle cx="562.9" cy="240.8" r="3.55"/><circle cx="317.6" cy="240.9" r="3.55"/><circle cx="330.1" cy="241.0" r="3.55"/></g><g fill="#39568b"><circle cx="406.8" cy="241.1" r="3.55"/><circle cx="340.6" cy="241.1" r="3.55"/><circle cx="478.5" cy="241.3" r="3.55"/><circle cx="441.3" cy="241.3" r="3.55"/><circle cx="604.5" cy="241.3" r="3.55"/><circle cx="389.7" cy="241.5" r="3.55"/><circle cx="461.4" cy="241.5" r="3.55"/><circle cx="613.9" cy="241.5" r="3.55"/><circle cx="327.8" cy="241.5" r="3.55"/><circle cx="524.5" cy="241.6" r="3.55"/><circle cx="601.9" cy="241.6" r="3.55"/><circle cx="568.0" cy="241.7" r="3.55"/><circle cx="484.0" cy="241.7" r="3.55"/><circle cx="337.4" cy="241.7" r="3.55"/><circle cx="597.6" cy="241.7" r="3.55"/><circle cx="457.6" cy="241.9" r="3.55"/><circle cx="353.9" cy="242.0" r="3.55"/><circle cx="431.0" cy="242.1" r="3.55"/><circle cx="440.1" cy="242.1" r="3.55"/><circle cx="417.4" cy="242.1" r="3.55"/><circle cx="425.0" cy="242.2" r="3.55"/><circle cx="572.5" cy="242.2" r="3.55"/><circle cx="336.9" cy="242.3" r="3.55"/><circle cx="426.1" cy="242.3" r="3.55"/><circle cx="421.1" cy="242.4" r="3.55"/><circle cx="351.6" cy="242.4" r="3.55"/><circle cx="571.4" cy="242.5" r="3.55"/><circle cx="382.9" cy="242.5" r="3.55"/><circle cx="356.9" cy="242.6" r="3.55"/><circle cx="469.9" cy="242.7" r="3.55"/><circle cx="574.7" cy="242.7" r="3.55"/><circle cx="327.4" cy="242.7" r="3.55"/><circle cx="345.6" cy="242.8" r="3.55"/><circle cx="380.6" cy="242.8" r="3.55"/><circle cx="548.6" cy="242.8" r="3.55"/><circle cx="337.4" cy="242.9" r="3.55"/><circle cx="602.8" cy="242.9" r="3.55"/><circle cx="397.1" cy="243.0" r="3.55"/><circle cx="597.9" cy="243.0" r="3.55"/><circle cx="562.8" cy="243.1" r="3.55"/><circle cx="491.9" cy="243.2" r="3.55"/><circle cx="494.1" cy="243.3" r="3.55"/><circle cx="409.7" cy="243.4" r="3.55"/><circle cx="361.3" cy="243.4" r="3.55"/><circle cx="529.7" cy="243.5" r="3.55"/><circle cx="565.3" cy="243.5" r="3.55"/><circle cx="615.2" cy="243.5" r="3.55"/><circle cx="407.2" cy="243.6" r="3.55"/><circle cx="426.4" cy="243.9" r="3.55"/><circle cx="585.9" cy="243.9" r="3.55"/><circle cx="573.9" cy="243.9" r="3.55"/><circle cx="331.8" cy="244.0" r="3.55"/><circle cx="368.4" cy="244.0" r="3.55"/><circle cx="356.8" cy="244.1" r="3.55"/><circle cx="417.0" cy="244.1" r="3.55"/><circle cx="351.6" cy="244.1" r="3.55"/><circle cx="600.7" cy="244.2" r="3.55"/><circle cx="474.9" cy="244.4" r="3.55"/><circle cx="488.5" cy="244.4" r="3.55"/><circle cx="579.0" cy="244.4" r="3.55"/><circle cx="381.2" cy="244.5" r="3.55"/><circle cx="364.1" cy="244.6" r="3.55"/><circle cx="448.8" cy="244.6" r="3.55"/><circle cx="476.3" cy="244.6" r="3.55"/><circle cx="544.4" cy="244.7" r="3.55"/><circle cx="409.8" cy="244.8" r="3.55"/><circle cx="509.0" cy="244.8" r="3.55"/><circle cx="321.1" cy="244.8" r="3.55"/><circle cx="508.0" cy="244.8" r="3.55"/><circle cx="379.5" cy="244.8" r="3.55"/><circle cx="405.5" cy="244.8" r="3.55"/><circle cx="511.8" cy="244.9" r="3.55"/><circle cx="341.9" cy="244.9" r="3.55"/><circle cx="394.5" cy="245.1" r="3.55"/><circle cx="511.3" cy="245.1" r="3.55"/><circle cx="526.0" cy="245.1" r="3.55"/><circle cx="544.6" cy="245.1" r="3.55"/><circle cx="528.9" cy="245.1" r="3.55"/><circle cx="384.0" cy="245.1" r="3.55"/><circle cx="523.1" cy="245.3" r="3.55"/><circle cx="576.0" cy="245.4" r="3.55"/><circle cx="367.7" cy="245.4" r="3.55"/><circle cx="498.4" cy="245.4" r="3.55"/><circle cx="515.3" cy="245.5" r="3.55"/><circle cx="415.4" cy="245.6" r="3.55"/><circle cx="332.7" cy="245.7" r="3.55"/><circle cx="319.4" cy="245.7" r="3.55"/><circle cx="475.4" cy="245.8" r="3.55"/><circle cx="472.4" cy="245.9" r="3.55"/><circle cx="476.7" cy="245.9" r="3.55"/><circle cx="491.7" cy="246.1" r="3.55"/><circle cx="360.2" cy="246.1" r="3.55"/><circle cx="471.1" cy="246.1" r="3.55"/><circle cx="524.2" cy="246.2" r="3.55"/><circle cx="549.2" cy="246.2" r="3.55"/><circle cx="433.9" cy="246.3" r="3.55"/><circle cx="378.5" cy="246.3" r="3.55"/><circle cx="599.8" cy="246.4" r="3.55"/><circle cx="440.4" cy="246.5" r="3.55"/><circle cx="567.2" cy="246.6" r="3.55"/><circle cx="377.1" cy="246.6" r="3.55"/><circle cx="324.5" cy="246.6" r="3.55"/><circle cx="585.7" cy="246.7" r="3.55"/><circle cx="506.1" cy="246.7" r="3.55"/><circle cx="540.7" cy="246.7" r="3.55"/><circle cx="558.8" cy="246.8" r="3.55"/><circle cx="540.0" cy="246.9" r="3.55"/><circle cx="522.5" cy="246.9" r="3.55"/><circle cx="450.1" cy="246.9" r="3.55"/><circle cx="423.4" cy="247.0" r="3.55"/><circle cx="365.9" cy="247.0" r="3.55"/><circle cx="408.3" cy="247.0" r="3.55"/><circle cx="607.1" cy="247.0" r="3.55"/><circle cx="614.5" cy="247.1" r="3.55"/><circle cx="393.3" cy="247.1" r="3.55"/></g><g fill="#375a8c"><circle cx="563.9" cy="247.3" r="3.55"/><circle cx="389.2" cy="247.3" r="3.55"/><circle cx="445.5" cy="247.4" r="3.55"/><circle cx="567.9" cy="247.4" r="3.55"/><circle cx="550.8" cy="247.4" r="3.55"/><circle cx="385.6" cy="247.4" r="3.55"/><circle cx="379.9" cy="247.5" r="3.55"/><circle cx="529.5" cy="247.6" r="3.55"/><circle cx="486.3" cy="247.6" r="3.55"/><circle cx="550.5" cy="247.7" r="3.55"/><circle cx="439.5" cy="247.7" r="3.55"/><circle cx="413.3" cy="247.7" r="3.55"/><circle cx="544.1" cy="247.8" r="3.55"/><circle cx="477.9" cy="247.8" r="3.55"/><circle cx="500.3" cy="247.9" r="3.55"/><circle cx="588.3" cy="248.1" r="3.55"/><circle cx="347.0" cy="248.1" r="3.55"/><circle cx="565.9" cy="248.2" r="3.55"/><circle cx="586.8" cy="248.2" r="3.55"/><circle cx="512.9" cy="248.2" r="3.55"/><circle cx="559.7" cy="248.5" r="3.55"/><circle cx="421.5" cy="248.6" r="3.55"/><circle cx="548.3" cy="248.7" r="3.55"/><circle cx="470.1" cy="248.7" r="3.55"/><circle cx="406.9" cy="248.7" r="3.55"/><circle cx="592.2" cy="248.9" r="3.55"/><circle cx="329.1" cy="249.0" r="3.55"/><circle cx="385.3" cy="249.0" r="3.55"/><circle cx="507.7" cy="249.1" r="3.55"/><circle cx="586.3" cy="249.1" r="3.55"/><circle cx="447.9" cy="249.1" r="3.55"/><circle cx="403.5" cy="249.1" r="3.55"/><circle cx="561.7" cy="249.2" r="3.55"/><circle cx="394.6" cy="249.2" r="3.55"/><circle cx="340.7" cy="249.3" r="3.55"/><circle cx="378.5" cy="249.3" r="3.55"/><circle cx="496.0" cy="249.4" r="3.55"/><circle cx="346.5" cy="249.4" r="3.55"/><circle cx="510.2" cy="249.5" r="3.55"/><circle cx="350.0" cy="249.6" r="3.55"/><circle cx="423.5" cy="249.6" r="3.55"/><circle cx="550.9" cy="249.7" r="3.55"/><circle cx="412.1" cy="249.7" r="3.55"/><circle cx="446.2" cy="249.8" r="3.55"/><circle cx="404.4" cy="249.8" r="3.55"/><circle cx="392.6" cy="249.8" r="3.55"/><circle cx="493.3" cy="249.8" r="3.55"/><circle cx="528.7" cy="249.8" r="3.55"/><circle cx="478.9" cy="249.9" r="3.55"/><circle cx="352.7" cy="249.9" r="3.55"/><circle cx="382.0" cy="249.9" r="3.55"/><circle cx="513.4" cy="250.1" r="3.55"/><circle cx="417.2" cy="250.2" r="3.55"/><circle cx="600.6" cy="250.2" r="3.55"/><circle cx="506.6" cy="250.4" r="3.55"/><circle cx="412.1" cy="250.4" r="3.55"/><circle cx="436.7" cy="250.5" r="3.55"/><circle cx="611.5" cy="250.5" r="3.55"/><circle cx="463.2" cy="250.5" r="3.55"/><circle cx="324.3" cy="250.5" r="3.55"/><circle cx="425.3" cy="250.7" r="3.55"/><circle cx="357.5" cy="250.7" r="3.55"/><circle cx="334.4" cy="250.8" r="3.55"/><circle cx="395.3" cy="250.8" r="3.55"/><circle cx="432.3" cy="250.8" r="3.55"/><circle cx="420.1" cy="250.8" r="3.55"/><circle cx="336.3" cy="250.8" r="3.55"/><circle cx="518.0" cy="250.8" r="3.55"/><circle cx="373.5" cy="250.9" r="3.55"/><circle cx="443.2" cy="250.9" r="3.55"/><circle cx="554.2" cy="250.9" r="3.55"/><circle cx="512.7" cy="251.0" r="3.55"/><circle cx="570.2" cy="251.0" r="3.55"/><circle cx="588.1" cy="251.0" r="3.55"/><circle cx="486.0" cy="251.0" r="3.55"/><circle cx="460.8" cy="251.0" r="3.55"/><circle cx="461.4" cy="251.0" r="3.55"/><circle cx="420.7" cy="251.0" r="3.55"/><circle cx="504.0" cy="251.1" r="3.55"/><circle cx="594.2" cy="251.1" r="3.55"/><circle cx="508.8" cy="251.2" r="3.55"/><circle cx="399.6" cy="251.2" r="3.55"/><circle cx="473.8" cy="251.3" r="3.55"/><circle cx="592.2" cy="251.3" r="3.55"/><circle cx="375.3" cy="251.3" r="3.55"/><circle cx="461.7" cy="251.3" r="3.55"/><circle cx="475.2" cy="251.4" r="3.55"/><circle cx="554.8" cy="251.4" r="3.55"/><circle cx="412.3" cy="251.5" r="3.55"/><circle cx="569.7" cy="251.5" r="3.55"/><circle cx="597.1" cy="251.7" r="3.55"/><circle cx="444.0" cy="251.7" r="3.55"/><circle cx="384.1" cy="251.8" r="3.55"/><circle cx="349.1" cy="251.8" r="3.55"/><circle cx="484.7" cy="251.9" r="3.55"/><circle cx="361.4" cy="251.9" r="3.55"/><circle cx="405.6" cy="252.0" r="3.55"/><circle cx="459.9" cy="252.1" r="3.55"/><circle cx="406.7" cy="252.1" r="3.55"/><circle cx="372.0" cy="252.2" r="3.55"/><circle cx="358.2" cy="252.2" r="3.55"/><circle cx="357.4" cy="252.2" r="3.55"/><circle cx="565.8" cy="252.2" r="3.55"/><circle cx="351.0" cy="252.3" r="3.55"/><circle cx="365.3" cy="252.3" r="3.55"/><circle cx="513.5" cy="252.5" r="3.55"/><circle cx="344.6" cy="252.5" r="3.55"/><circle cx="518.5" cy="252.6" r="3.55"/><circle cx="515.6" cy="252.6" r="3.55"/><circle cx="454.9" cy="252.6" r="3.55"/><circle cx="370.0" cy="252.8" r="3.55"/><circle cx="391.0" cy="252.9" r="3.55"/><circle cx="347.1" cy="252.9" r="3.55"/><circle cx="498.7" cy="253.0" r="3.55"/><circle cx="429.4" cy="253.0" r="3.55"/><circle cx="390.3" cy="253.0" r="3.55"/><circle cx="329.2" cy="253.1" r="3.55"/><circle cx="587.1" cy="253.1" r="3.55"/><circle cx="385.5" cy="253.1" r="3.55"/><circle cx="356.3" cy="253.2" r="3.55"/><circle cx="370.7" cy="253.2" r="3.55"/><circle cx="382.0" cy="253.2" r="3.55"/><circle cx="572.9" cy="253.3" r="3.55"/><circle cx="548.3" cy="253.3" r="3.55"/></g><g fill="#355e8c"><circle cx="441.2" cy="253.4" r="3.55"/><circle cx="556.3" cy="253.4" r="3.55"/><circle cx="583.2" cy="253.5" r="3.55"/><circle cx="454.7" cy="253.5" r="3.55"/><circle cx="519.6" cy="253.7" r="3.55"/><circle cx="466.2" cy="253.7" r="3.55"/><circle cx="394.3" cy="253.7" r="3.55"/><circle cx="492.8" cy="253.7" r="3.55"/><circle cx="559.3" cy="253.9" r="3.55"/><circle cx="339.0" cy="253.9" r="3.55"/><circle cx="410.8" cy="254.0" r="3.55"/><circle cx="426.8" cy="254.0" r="3.55"/><circle cx="481.5" cy="254.0" r="3.55"/><circle cx="350.8" cy="254.1" r="3.55"/><circle cx="343.4" cy="254.2" r="3.55"/><circle cx="536.6" cy="254.2" r="3.55"/><circle cx="561.7" cy="254.4" r="3.55"/><circle cx="425.3" cy="254.4" r="3.55"/><circle cx="542.2" cy="254.5" r="3.55"/><circle cx="395.5" cy="254.6" r="3.55"/><circle cx="549.7" cy="254.9" r="3.55"/><circle cx="385.2" cy="255.0" r="3.55"/><circle cx="410.1" cy="255.1" r="3.55"/><circle cx="372.1" cy="255.1" r="3.55"/><circle cx="440.8" cy="255.2" r="3.55"/><circle cx="415.1" cy="255.3" r="3.55"/><circle cx="384.2" cy="255.3" r="3.55"/><circle cx="439.7" cy="255.3" r="3.55"/><circle cx="398.3" cy="255.3" r="3.55"/><circle cx="360.4" cy="255.4" r="3.55"/><circle cx="465.3" cy="255.4" r="3.55"/><circle cx="429.0" cy="255.4" r="3.55"/><circle cx="393.2" cy="255.5" r="3.55"/><circle cx="483.1" cy="255.7" r="3.55"/><circle cx="591.3" cy="255.8" r="3.55"/><circle cx="416.2" cy="255.8" r="3.55"/><circle cx="438.1" cy="255.8" r="3.55"/><circle cx="334.6" cy="255.9" r="3.55"/><circle cx="603.8" cy="256.0" r="3.55"/><circle cx="392.1" cy="256.0" r="3.55"/><circle cx="488.3" cy="256.1" r="3.55"/><circle cx="368.6" cy="256.3" r="3.55"/><circle cx="408.8" cy="256.3" r="3.55"/><circle cx="341.5" cy="256.4" r="3.55"/><circle cx="418.1" cy="256.4" r="3.55"/><circle cx="520.3" cy="256.4" r="3.55"/><circle cx="548.8" cy="256.4" r="3.55"/><circle cx="375.6" cy="256.4" r="3.55"/><circle cx="402.2" cy="256.4" r="3.55"/><circle cx="602.3" cy="256.4" r="3.55"/><circle cx="523.4" cy="256.5" r="3.55"/><circle cx="437.4" cy="256.5" r="3.55"/><circle cx="387.0" cy="256.5" r="3.55"/><circle cx="425.5" cy="256.5" r="3.55"/><circle cx="401.4" cy="256.6" r="3.55"/><circle cx="493.4" cy="256.6" r="3.55"/><circle cx="504.6" cy="256.8" r="3.55"/><circle cx="513.2" cy="256.8" r="3.55"/><circle cx="510.7" cy="256.9" r="3.55"/><circle cx="504.7" cy="256.9" r="3.55"/><circle cx="403.5" cy="257.1" r="3.55"/><circle cx="373.2" cy="257.1" r="3.55"/><circle cx="497.6" cy="257.2" r="3.55"/><circle cx="439.3" cy="257.3" r="3.55"/><circle cx="564.0" cy="257.3" r="3.55"/><circle cx="451.4" cy="257.4" r="3.55"/><circle cx="600.9" cy="257.4" r="3.55"/><circle cx="472.4" cy="257.4" r="3.55"/><circle cx="429.3" cy="257.4" r="3.55"/><circle cx="388.4" cy="257.4" r="3.55"/><circle cx="399.9" cy="257.5" r="3.55"/><circle cx="486.0" cy="257.5" r="3.55"/><circle cx="463.5" cy="257.5" r="3.55"/><circle cx="421.9" cy="257.6" r="3.55"/><circle cx="372.8" cy="257.7" r="3.55"/><circle cx="501.8" cy="257.8" r="3.55"/><circle cx="423.2" cy="257.9" r="3.55"/><circle cx="538.8" cy="258.0" r="3.55"/><circle cx="385.6" cy="258.0" r="3.55"/><circle cx="426.0" cy="258.0" r="3.55"/><circle cx="388.9" cy="258.0" r="3.55"/><circle cx="325.9" cy="258.2" r="3.55"/><circle cx="401.0" cy="258.2" r="3.55"/><circle cx="434.8" cy="258.2" r="3.55"/><circle cx="499.7" cy="258.3" r="3.55"/><circle cx="535.8" cy="258.3" r="3.55"/><circle cx="528.3" cy="258.4" r="3.55"/><circle cx="579.1" cy="258.6" r="3.55"/><circle cx="387.2" cy="258.6" r="3.55"/><circle cx="539.0" cy="258.7" r="3.55"/><circle cx="344.7" cy="258.7" r="3.55"/><circle cx="407.6" cy="258.8" r="3.55"/><circle cx="382.4" cy="258.8" r="3.55"/><circle cx="379.7" cy="258.9" r="3.55"/><circle cx="412.1" cy="259.0" r="3.55"/><circle cx="534.2" cy="259.0" r="3.55"/><circle cx="469.1" cy="259.1" r="3.55"/><circle cx="392.3" cy="259.2" r="3.55"/><circle cx="470.8" cy="259.3" r="3.55"/><circle cx="584.8" cy="259.4" r="3.55"/></g><g fill="#33638d"><circle cx="551.3" cy="259.5" r="3.55"/><circle cx="504.8" cy="259.5" r="3.55"/><circle cx="414.8" cy="259.5" r="3.55"/><circle cx="577.8" cy="259.6" r="3.55"/><circle cx="324.9" cy="259.7" r="3.55"/><circle cx="503.2" cy="259.7" r="3.55"/><circle cx="522.4" cy="259.7" r="3.55"/><circle cx="373.2" cy="259.7" r="3.55"/><circle cx="531.7" cy="259.7" r="3.55"/><circle cx="585.5" cy="259.8" r="3.55"/><circle cx="540.7" cy="259.8" r="3.55"/><circle cx="534.2" cy="259.8" r="3.55"/><circle cx="411.2" cy="260.0" r="3.55"/><circle cx="497.8" cy="260.1" r="3.55"/><circle cx="382.3" cy="260.1" r="3.55"/><circle cx="525.4" cy="260.2" r="3.55"/><circle cx="560.3" cy="260.3" r="3.55"/><circle cx="586.4" cy="260.3" r="3.55"/><circle cx="453.0" cy="260.4" r="3.55"/><circle cx="476.3" cy="260.5" r="3.55"/><circle cx="602.2" cy="260.5" r="3.55"/><circle cx="379.6" cy="260.5" r="3.55"/><circle cx="594.7" cy="260.5" r="3.55"/><circle cx="357.0" cy="260.5" r="3.55"/><circle cx="508.9" cy="260.6" r="3.55"/><circle cx="384.1" cy="260.7" r="3.55"/><circle cx="448.0" cy="260.7" r="3.55"/><circle cx="522.4" cy="260.8" r="3.55"/><circle cx="539.3" cy="260.8" r="3.55"/><circle cx="534.9" cy="260.8" r="3.55"/><circle cx="414.9" cy="260.9" r="3.55"/><circle cx="466.3" cy="260.9" r="3.55"/><circle cx="429.8" cy="260.9" r="3.55"/><circle cx="520.8" cy="261.0" r="3.55"/><circle cx="348.6" cy="261.0" r="3.55"/><circle cx="481.9" cy="261.1" r="3.55"/><circle cx="580.4" cy="261.1" r="3.55"/><circle cx="367.9" cy="261.4" r="3.55"/><circle cx="499.4" cy="261.4" r="3.55"/><circle cx="562.6" cy="261.4" r="3.55"/><circle cx="453.5" cy="261.5" r="3.55"/><circle cx="589.7" cy="261.5" r="3.55"/><circle cx="495.8" cy="261.6" r="3.55"/><circle cx="500.8" cy="261.6" r="3.55"/><circle cx="344.3" cy="261.7" r="3.55"/><circle cx="550.9" cy="261.7" r="3.55"/><circle cx="366.8" cy="261.8" r="3.55"/><circle cx="422.9" cy="261.8" r="3.55"/><circle cx="405.9" cy="262.0" r="3.55"/><circle cx="402.5" cy="262.0" r="3.55"/><circle cx="422.7" cy="262.0" r="3.55"/><circle cx="416.9" cy="262.1" r="3.55"/><circle cx="490.4" cy="262.6" r="3.55"/><circle cx="400.4" cy="262.6" r="3.55"/><circle cx="518.5" cy="262.7" r="3.55"/><circle cx="485.8" cy="262.7" r="3.55"/><circle cx="491.9" cy="262.8" r="3.55"/><circle cx="537.5" cy="262.9" r="3.55"/><circle cx="455.8" cy="262.9" r="3.55"/><circle cx="544.7" cy="262.9" r="3.55"/><circle cx="560.2" cy="263.0" r="3.55"/><circle cx="404.4" cy="263.0" r="3.55"/><circle cx="576.1" cy="263.1" r="3.55"/><circle cx="517.5" cy="263.1" r="3.55"/><circle cx="568.8" cy="263.2" r="3.55"/><circle cx="408.3" cy="263.3" r="3.55"/><circle cx="423.0" cy="263.4" r="3.55"/><circle cx="498.2" cy="263.5" r="3.55"/><circle cx="407.3" cy="263.9" r="3.55"/><circle cx="439.6" cy="263.9" r="3.55"/><circle cx="451.3" cy="263.9" r="3.55"/><circle cx="395.6" cy="264.0" r="3.55"/><circle cx="573.7" cy="264.1" r="3.55"/><circle cx="430.7" cy="264.1" r="3.55"/><circle cx="567.3" cy="264.3" r="3.55"/><circle cx="466.1" cy="264.3" r="3.55"/><circle cx="527.2" cy="264.4" r="3.55"/><circle cx="337.6" cy="264.4" r="3.55"/><circle cx="345.1" cy="264.4" r="3.55"/><circle cx="400.0" cy="264.5" r="3.55"/><circle cx="584.4" cy="264.5" r="3.55"/><circle cx="576.6" cy="264.5" r="3.55"/><circle cx="369.7" cy="264.5" r="3.55"/><circle cx="398.2" cy="264.6" r="3.55"/><circle cx="446.6" cy="264.8" r="3.55"/><circle cx="550.4" cy="264.8" r="3.55"/><circle cx="404.3" cy="264.9" r="3.55"/><circle cx="587.0" cy="264.9" r="3.55"/><circle cx="511.1" cy="264.9" r="3.55"/><circle cx="594.1" cy="264.9" r="3.55"/><circle cx="335.1" cy="265.0" r="3.55"/><circle cx="490.7" cy="265.0" r="3.55"/><circle cx="483.2" cy="265.1" r="3.55"/><circle cx="503.6" cy="265.2" r="3.55"/><circle cx="420.2" cy="265.2" r="3.55"/><circle cx="464.5" cy="265.2" r="3.55"/><circle cx="393.2" cy="265.3" r="3.55"/><circle cx="470.9" cy="265.5" r="3.55"/><circle cx="396.3" cy="265.5" r="3.55"/><circle cx="499.3" cy="265.5" r="3.55"/><circle cx="394.6" cy="265.5" r="3.55"/></g><g fill="#31668d"><circle cx="566.1" cy="265.6" r="3.55"/><circle cx="405.9" cy="265.7" r="3.55"/><circle cx="365.4" cy="265.9" r="3.55"/><circle cx="384.0" cy="266.3" r="3.55"/><circle cx="489.8" cy="266.5" r="3.55"/><circle cx="569.4" cy="266.5" r="3.55"/><circle cx="335.0" cy="266.5" r="3.55"/><circle cx="503.6" cy="266.5" r="3.55"/><circle cx="344.2" cy="266.6" r="3.55"/><circle cx="349.4" cy="266.6" r="3.55"/><circle cx="545.4" cy="266.6" r="3.55"/><circle cx="525.8" cy="266.7" r="3.55"/><circle cx="358.0" cy="266.8" r="3.55"/><circle cx="344.3" cy="266.8" r="3.55"/><circle cx="530.8" cy="266.9" r="3.55"/><circle cx="537.2" cy="266.9" r="3.55"/><circle cx="580.5" cy="267.0" r="3.55"/><circle cx="424.3" cy="267.1" r="3.55"/><circle cx="575.4" cy="267.1" r="3.55"/><circle cx="461.6" cy="267.3" r="3.55"/><circle cx="346.4" cy="267.3" r="3.55"/><circle cx="482.7" cy="267.4" r="3.55"/><circle cx="486.4" cy="267.4" r="3.55"/><circle cx="541.7" cy="267.5" r="3.55"/><circle cx="519.2" cy="267.5" r="3.55"/><circle cx="360.6" cy="267.5" r="3.55"/><circle cx="469.5" cy="267.6" r="3.55"/><circle cx="392.8" cy="267.6" r="3.55"/><circle cx="482.0" cy="267.6" r="3.55"/><circle cx="575.3" cy="267.7" r="3.55"/><circle cx="381.5" cy="267.7" r="3.55"/><circle cx="520.5" cy="267.8" r="3.55"/><circle cx="577.9" cy="267.8" r="3.55"/><circle cx="392.5" cy="267.9" r="3.55"/><circle cx="341.5" cy="268.2" r="3.55"/><circle cx="406.0" cy="268.2" r="3.55"/><circle cx="513.5" cy="268.3" r="3.55"/><circle cx="525.4" cy="268.3" r="3.55"/><circle cx="417.7" cy="268.4" r="3.55"/><circle cx="584.6" cy="268.4" r="3.55"/><circle cx="517.6" cy="268.5" r="3.55"/><circle cx="508.7" cy="268.5" r="3.55"/><circle cx="497.7" cy="268.6" r="3.55"/><circle cx="411.3" cy="268.7" r="3.55"/><circle cx="555.1" cy="268.9" r="3.55"/><circle cx="584.6" cy="268.9" r="3.55"/><circle cx="475.0" cy="268.9" r="3.55"/><circle cx="564.6" cy="269.0" r="3.55"/><circle cx="558.9" cy="269.0" r="3.55"/><circle cx="499.6" cy="269.0" r="3.55"/><circle cx="355.3" cy="269.1" r="3.55"/><circle cx="374.5" cy="269.1" r="3.55"/><circle cx="346.3" cy="269.1" r="3.55"/><circle cx="554.9" cy="269.2" r="3.55"/><circle cx="498.7" cy="269.3" r="3.55"/><circle cx="414.5" cy="269.3" r="3.55"/><circle cx="533.0" cy="269.5" r="3.55"/><circle cx="388.1" cy="269.5" r="3.55"/><circle cx="495.8" cy="269.5" r="3.55"/><circle cx="513.5" cy="269.6" r="3.55"/><circle cx="454.6" cy="269.6" r="3.55"/><circle cx="453.4" cy="269.6" r="3.55"/><circle cx="560.2" cy="269.6" r="3.55"/><circle cx="536.4" cy="269.8" r="3.55"/><circle cx="332.0" cy="270.0" r="3.55"/><circle cx="406.9" cy="270.0" r="3.55"/><circle cx="429.8" cy="270.1" r="3.55"/><circle cx="546.2" cy="270.2" r="3.55"/><circle cx="490.6" cy="270.2" r="3.55"/><circle cx="542.7" cy="270.3" r="3.55"/><circle cx="401.1" cy="270.3" r="3.55"/><circle cx="418.2" cy="270.4" r="3.55"/><circle cx="484.4" cy="270.4" r="3.55"/><circle cx="463.8" cy="270.4" r="3.55"/><circle cx="498.4" cy="270.5" r="3.55"/><circle cx="473.3" cy="270.7" r="3.55"/><circle cx="487.6" cy="270.7" r="3.55"/><circle cx="432.8" cy="270.7" r="3.55"/><circle cx="542.0" cy="270.7" r="3.55"/><circle cx="393.4" cy="270.7" r="3.55"/><circle cx="425.6" cy="270.8" r="3.55"/><circle cx="533.5" cy="270.9" r="3.55"/><circle cx="417.6" cy="271.0" r="3.55"/><circle cx="394.7" cy="271.0" r="3.55"/><circle cx="551.4" cy="271.0" r="3.55"/><circle cx="369.2" cy="271.1" r="3.55"/><circle cx="505.1" cy="271.2" r="3.55"/><circle cx="359.1" cy="271.2" r="3.55"/><circle cx="441.6" cy="271.2" r="3.55"/><circle cx="579.8" cy="271.3" r="3.55"/><circle cx="564.8" cy="271.5" r="3.55"/></g><g fill="#306a8d"><circle cx="550.3" cy="271.8" r="3.55"/><circle cx="437.8" cy="271.8" r="3.55"/><circle cx="349.4" cy="271.8" r="3.55"/><circle cx="410.9" cy="272.0" r="3.55"/><circle cx="555.5" cy="272.0" r="3.55"/><circle cx="548.3" cy="272.0" r="3.55"/><circle cx="431.3" cy="272.2" r="3.55"/><circle cx="451.5" cy="272.2" r="3.55"/><circle cx="514.1" cy="272.2" r="3.55"/><circle cx="384.5" cy="272.3" r="3.55"/><circle cx="403.2" cy="272.4" r="3.55"/><circle cx="508.1" cy="272.6" r="3.55"/><circle cx="576.8" cy="272.7" r="3.55"/><circle cx="571.7" cy="272.7" r="3.55"/><circle cx="566.9" cy="272.8" r="3.55"/><circle cx="484.7" cy="272.8" r="3.55"/><circle cx="498.3" cy="272.9" r="3.55"/><circle cx="452.7" cy="273.0" r="3.55"/><circle cx="405.4" cy="273.0" r="3.55"/><circle cx="375.8" cy="273.2" r="3.55"/><circle cx="333.1" cy="273.3" r="3.55"/><circle cx="459.0" cy="273.3" r="3.55"/><circle cx="375.1" cy="273.3" r="3.55"/><circle cx="573.3" cy="273.4" r="3.55"/><circle cx="511.5" cy="273.5" r="3.55"/><circle cx="579.4" cy="273.5" r="3.55"/><circle cx="580.1" cy="273.6" r="3.55"/><circle cx="348.9" cy="273.7" r="3.55"/><circle cx="551.5" cy="273.9" r="3.55"/><circle cx="387.7" cy="274.1" r="3.55"/><circle cx="513.2" cy="274.1" r="3.55"/><circle cx="489.7" cy="274.1" r="3.55"/><circle cx="343.8" cy="274.1" r="3.55"/><circle cx="469.2" cy="274.2" r="3.55"/><circle cx="387.1" cy="274.3" r="3.55"/><circle cx="440.2" cy="274.3" r="3.55"/><circle cx="501.0" cy="274.3" r="3.55"/><circle cx="541.7" cy="274.4" r="3.55"/><circle cx="459.5" cy="274.5" r="3.55"/><circle cx="432.2" cy="274.5" r="3.55"/><circle cx="519.7" cy="274.5" r="3.55"/><circle cx="386.5" cy="274.5" r="3.55"/><circle cx="359.9" cy="274.6" r="3.55"/><circle cx="514.5" cy="274.6" r="3.55"/><circle cx="358.7" cy="274.8" r="3.55"/><circle cx="386.4" cy="274.9" r="3.55"/><circle cx="561.6" cy="275.0" r="3.55"/><circle cx="522.0" cy="275.0" r="3.55"/><circle cx="428.7" cy="275.0" r="3.55"/><circle cx="349.4" cy="275.0" r="3.55"/><circle cx="538.0" cy="275.2" r="3.55"/><circle cx="478.9" cy="275.2" r="3.55"/><circle cx="477.6" cy="275.3" r="3.55"/><circle cx="354.4" cy="275.6" r="3.55"/><circle cx="522.9" cy="275.6" r="3.55"/><circle cx="462.1" cy="275.9" r="3.55"/><circle cx="457.8" cy="276.1" r="3.55"/><circle cx="527.9" cy="276.1" r="3.55"/><circle cx="393.4" cy="276.2" r="3.55"/><circle cx="386.6" cy="276.3" r="3.55"/><circle cx="565.3" cy="276.4" r="3.55"/><circle cx="568.3" cy="276.4" r="3.55"/><circle cx="464.3" cy="276.4" r="3.55"/><circle cx="500.4" cy="276.4" r="3.55"/><circle cx="463.1" cy="276.5" r="3.55"/><circle cx="371.7" cy="276.7" r="3.55"/><circle cx="435.8" cy="276.7" r="3.55"/><circle cx="552.2" cy="276.7" r="3.55"/><circle cx="403.0" cy="277.0" r="3.55"/><circle cx="418.5" cy="277.1" r="3.55"/><circle cx="418.6" cy="277.1" r="3.55"/><circle cx="345.5" cy="277.2" r="3.55"/><circle cx="409.7" cy="277.3" r="3.55"/><circle cx="517.8" cy="277.3" r="3.55"/><circle cx="501.6" cy="277.3" r="3.55"/><circle cx="585.3" cy="277.3" r="3.55"/><circle cx="419.8" cy="277.3" r="3.55"/><circle cx="373.6" cy="277.4" r="3.55"/><circle cx="397.6" cy="277.5" r="3.55"/><circle cx="462.5" cy="277.5" r="3.55"/><circle cx="443.3" cy="277.6" r="3.55"/><circle cx="351.7" cy="277.7" r="3.55"/><circle cx="579.5" cy="277.8" r="3.55"/></g><g fill="#2e6e8e"><circle cx="569.3" cy="277.8" r="3.55"/><circle cx="554.8" cy="278.1" r="3.55"/><circle cx="506.4" cy="278.1" r="3.55"/><circle cx="443.3" cy="278.2" r="3.55"/><circle cx="437.3" cy="278.2" r="3.55"/><circle cx="535.2" cy="278.3" r="3.55"/><circle cx="419.9" cy="278.3" r="3.55"/><circle cx="370.2" cy="278.7" r="3.55"/><circle cx="395.9" cy="278.7" r="3.55"/><circle cx="387.4" cy="278.7" r="3.55"/><circle cx="347.1" cy="278.8" r="3.55"/><circle cx="375.4" cy="278.8" r="3.55"/><circle cx="340.2" cy="278.8" r="3.55"/><circle cx="343.0" cy="278.8" r="3.55"/><circle cx="562.3" cy="278.9" r="3.55"/><circle cx="351.3" cy="279.1" r="3.55"/><circle cx="496.9" cy="279.1" r="3.55"/><circle cx="504.0" cy="279.2" r="3.55"/><circle cx="570.4" cy="279.3" r="3.55"/><circle cx="455.7" cy="279.4" r="3.55"/><circle cx="574.9" cy="279.4" r="3.55"/><circle cx="522.4" cy="279.4" r="3.55"/><circle cx="460.8" cy="279.5" r="3.55"/><circle cx="342.5" cy="279.6" r="3.55"/><circle cx="357.6" cy="279.7" r="3.55"/><circle cx="449.5" cy="279.7" r="3.55"/><circle cx="551.5" cy="279.8" r="3.55"/><circle cx="480.4" cy="279.9" r="3.55"/><circle cx="369.3" cy="280.1" r="3.55"/><circle cx="547.9" cy="280.2" r="3.55"/><circle cx="418.1" cy="280.3" r="3.55"/><circle cx="510.1" cy="280.3" r="3.55"/><circle cx="526.7" cy="280.3" r="3.55"/><circle cx="498.4" cy="280.3" r="3.55"/><circle cx="381.6" cy="280.4" r="3.55"/><circle cx="543.5" cy="280.6" r="3.55"/><circle cx="360.8" cy="280.6" r="3.55"/><circle cx="394.9" cy="280.6" r="3.55"/><circle cx="502.1" cy="280.6" r="3.55"/><circle cx="416.3" cy="280.6" r="3.55"/><circle cx="489.2" cy="280.7" r="3.55"/><circle cx="573.2" cy="280.8" r="3.55"/><circle cx="544.4" cy="280.8" r="3.55"/><circle cx="578.7" cy="280.9" r="3.55"/><circle cx="382.6" cy="280.9" r="3.55"/><circle cx="476.4" cy="280.9" r="3.55"/><circle cx="585.6" cy="281.4" r="3.55"/><circle cx="473.2" cy="281.4" r="3.55"/><circle cx="509.3" cy="281.5" r="3.55"/><circle cx="340.4" cy="281.6" r="3.55"/><circle cx="408.1" cy="281.6" r="3.55"/><circle cx="425.9" cy="281.7" r="3.55"/><circle cx="405.2" cy="281.7" r="3.55"/><circle cx="468.0" cy="281.7" r="3.55"/><circle cx="444.4" cy="281.8" r="3.55"/><circle cx="521.9" cy="281.8" r="3.55"/><circle cx="420.6" cy="281.9" r="3.55"/><circle cx="583.4" cy="281.9" r="3.55"/><circle cx="559.8" cy="282.0" r="3.55"/><circle cx="349.7" cy="282.0" r="3.55"/><circle cx="566.2" cy="282.3" r="3.55"/><circle cx="571.7" cy="282.4" r="3.55"/><circle cx="376.9" cy="282.4" r="3.55"/><circle cx="425.7" cy="282.5" r="3.55"/><circle cx="411.8" cy="282.7" r="3.55"/><circle cx="414.8" cy="282.8" r="3.55"/><circle cx="400.4" cy="282.8" r="3.55"/><circle cx="524.7" cy="282.8" r="3.55"/><circle cx="428.8" cy="282.8" r="3.55"/><circle cx="413.3" cy="282.9" r="3.55"/><circle cx="505.0" cy="283.0" r="3.55"/><circle cx="481.5" cy="283.1" r="3.55"/><circle cx="429.2" cy="283.2" r="3.55"/><circle cx="519.3" cy="283.2" r="3.55"/><circle cx="537.8" cy="283.2" r="3.55"/><circle cx="469.7" cy="283.3" r="3.55"/><circle cx="491.0" cy="283.5" r="3.55"/><circle cx="504.1" cy="283.5" r="3.55"/><circle cx="507.6" cy="283.5" r="3.55"/><circle cx="504.7" cy="283.5" r="3.55"/><circle cx="487.8" cy="283.6" r="3.55"/><circle cx="505.7" cy="283.7" r="3.55"/><circle cx="439.5" cy="283.7" r="3.55"/><circle cx="449.5" cy="283.8" r="3.55"/><circle cx="404.1" cy="283.9" r="3.55"/></g><g fill="#2c728e"><circle cx="387.1" cy="283.9" r="3.55"/><circle cx="390.4" cy="284.0" r="3.55"/><circle cx="348.1" cy="284.1" r="3.55"/><circle cx="402.0" cy="284.2" r="3.55"/><circle cx="477.0" cy="284.2" r="3.55"/><circle cx="375.1" cy="284.3" r="3.55"/><circle cx="406.7" cy="284.3" r="3.55"/><circle cx="550.8" cy="284.4" r="3.55"/><circle cx="498.8" cy="284.5" r="3.55"/><circle cx="503.4" cy="284.5" r="3.55"/><circle cx="461.7" cy="284.7" r="3.55"/><circle cx="421.4" cy="284.8" r="3.55"/><circle cx="430.9" cy="284.9" r="3.55"/><circle cx="342.2" cy="284.9" r="3.55"/><circle cx="440.7" cy="285.1" r="3.55"/><circle cx="448.8" cy="285.1" r="3.55"/><circle cx="339.0" cy="285.1" r="3.55"/><circle cx="579.4" cy="285.2" r="3.55"/><circle cx="471.1" cy="285.3" r="3.55"/><circle cx="488.5" cy="285.4" r="3.55"/><circle cx="499.2" cy="285.5" r="3.55"/><circle cx="544.7" cy="285.7" r="3.55"/><circle cx="498.2" cy="285.7" r="3.55"/><circle cx="518.9" cy="285.8" r="3.55"/><circle cx="423.9" cy="285.8" r="3.55"/><circle cx="480.4" cy="286.0" r="3.55"/><circle cx="361.9" cy="286.3" r="3.55"/><circle cx="406.3" cy="286.3" r="3.55"/><circle cx="557.6" cy="286.4" r="3.55"/><circle cx="417.0" cy="286.5" r="3.55"/><circle cx="454.3" cy="286.6" r="3.55"/><circle cx="345.3" cy="286.7" r="3.55"/><circle cx="374.8" cy="286.8" r="3.55"/><circle cx="390.2" cy="287.1" r="3.55"/><circle cx="355.8" cy="287.2" r="3.55"/><circle cx="514.9" cy="287.2" r="3.55"/><circle cx="478.6" cy="287.4" r="3.55"/><circle cx="564.6" cy="287.5" r="3.55"/><circle cx="493.4" cy="287.7" r="3.55"/><circle cx="343.3" cy="287.8" r="3.55"/><circle cx="531.2" cy="287.8" r="3.55"/><circle cx="404.2" cy="287.9" r="3.55"/><circle cx="360.8" cy="287.9" r="3.55"/><circle cx="394.0" cy="288.0" r="3.55"/><circle cx="573.2" cy="288.1" r="3.55"/><circle cx="474.9" cy="288.1" r="3.55"/><circle cx="509.4" cy="288.2" r="3.55"/><circle cx="398.2" cy="288.2" r="3.55"/><circle cx="443.8" cy="288.3" r="3.55"/><circle cx="344.3" cy="288.4" r="3.55"/><circle cx="471.9" cy="288.4" r="3.55"/><circle cx="483.8" cy="288.6" r="3.55"/><circle cx="512.5" cy="288.6" r="3.55"/><circle cx="429.1" cy="288.8" r="3.55"/><circle cx="468.5" cy="289.1" r="3.55"/><circle cx="483.9" cy="289.3" r="3.55"/><circle cx="433.2" cy="289.4" r="3.55"/><circle cx="518.4" cy="289.4" r="3.55"/><circle cx="407.4" cy="289.6" r="3.55"/><circle cx="418.2" cy="289.7" r="3.55"/><circle cx="491.7" cy="289.8" r="3.55"/><circle cx="571.6" cy="289.8" r="3.55"/><circle cx="408.8" cy="290.0" r="3.55"/><circle cx="489.0" cy="290.0" r="3.55"/></g><g fill="#2b768e"><circle cx="453.7" cy="290.1" r="3.55"/><circle cx="482.9" cy="290.2" r="3.55"/><circle cx="485.3" cy="290.4" r="3.55"/><circle cx="476.6" cy="290.5" r="3.55"/><circle cx="404.8" cy="290.6" r="3.55"/><circle cx="407.8" cy="290.7" r="3.55"/><circle cx="471.3" cy="290.9" r="3.55"/><circle cx="555.4" cy="291.2" r="3.55"/><circle cx="566.8" cy="291.3" r="3.55"/><circle cx="508.1" cy="291.3" r="3.55"/><circle cx="350.0" cy="291.4" r="3.55"/><circle cx="577.4" cy="291.5" r="3.55"/><circle cx="514.6" cy="291.8" r="3.55"/><circle cx="382.6" cy="291.9" r="3.55"/><circle cx="346.4" cy="292.0" r="3.55"/><circle cx="447.1" cy="292.0" r="3.55"/><circle cx="454.3" cy="292.5" r="3.55"/><circle cx="553.6" cy="292.8" r="3.55"/><circle cx="353.1" cy="292.8" r="3.55"/><circle cx="375.2" cy="293.0" r="3.55"/><circle cx="545.9" cy="293.0" r="3.55"/><circle cx="495.9" cy="293.0" r="3.55"/><circle cx="459.5" cy="293.4" r="3.55"/><circle cx="541.3" cy="293.4" r="3.55"/><circle cx="402.7" cy="293.5" r="3.55"/><circle cx="526.5" cy="293.5" r="3.55"/><circle cx="474.1" cy="293.5" r="3.55"/><circle cx="394.1" cy="293.6" r="3.55"/><circle cx="346.7" cy="293.6" r="3.55"/><circle cx="437.1" cy="293.6" r="3.55"/><circle cx="381.0" cy="293.7" r="3.55"/><circle cx="548.6" cy="293.7" r="3.55"/><circle cx="369.7" cy="293.9" r="3.55"/><circle cx="378.4" cy="294.1" r="3.55"/><circle cx="472.3" cy="294.1" r="3.55"/><circle cx="466.6" cy="294.3" r="3.55"/><circle cx="354.4" cy="294.3" r="3.55"/><circle cx="496.0" cy="294.3" r="3.55"/><circle cx="373.3" cy="294.5" r="3.55"/><circle cx="369.5" cy="294.6" r="3.55"/><circle cx="446.3" cy="294.7" r="3.55"/><circle cx="546.3" cy="294.7" r="3.55"/><circle cx="355.3" cy="294.8" r="3.55"/><circle cx="481.5" cy="294.9" r="3.55"/><circle cx="391.7" cy="295.1" r="3.55"/><circle cx="426.4" cy="295.1" r="3.55"/><circle cx="350.9" cy="295.2" r="3.55"/><circle cx="577.2" cy="295.2" r="3.55"/><circle cx="374.2" cy="295.3" r="3.55"/><circle cx="358.6" cy="295.5" r="3.55"/><circle cx="392.3" cy="295.6" r="3.55"/><circle cx="423.0" cy="295.6" r="3.55"/><circle cx="549.9" cy="295.7" r="3.55"/><circle cx="506.8" cy="295.7" r="3.55"/><circle cx="364.4" cy="295.8" r="3.55"/><circle cx="479.6" cy="296.0" r="3.55"/><circle cx="491.0" cy="296.1" r="3.55"/><circle cx="352.5" cy="296.1" r="3.55"/></g><g fill="#297a8e"><circle cx="544.0" cy="296.3" r="3.55"/><circle cx="556.9" cy="296.3" r="3.55"/><circle cx="511.2" cy="296.3" r="3.55"/><circle cx="394.6" cy="296.4" r="3.55"/><circle cx="385.8" cy="296.6" r="3.55"/><circle cx="400.5" cy="296.7" r="3.55"/><circle cx="548.1" cy="296.7" r="3.55"/><circle cx="457.2" cy="296.9" r="3.55"/><circle cx="487.8" cy="296.9" r="3.55"/><circle cx="515.1" cy="296.9" r="3.55"/><circle cx="380.6" cy="297.0" r="3.55"/><circle cx="416.2" cy="297.1" r="3.55"/><circle cx="412.2" cy="297.1" r="3.55"/><circle cx="412.0" cy="297.1" r="3.55"/><circle cx="568.1" cy="297.2" r="3.55"/><circle cx="502.9" cy="297.3" r="3.55"/><circle cx="408.5" cy="297.3" r="3.55"/><circle cx="435.1" cy="297.3" r="3.55"/><circle cx="507.2" cy="297.5" r="3.55"/><circle cx="442.2" cy="297.7" r="3.55"/><circle cx="407.4" cy="297.7" r="3.55"/><circle cx="562.8" cy="297.9" r="3.55"/><circle cx="402.3" cy="298.2" r="3.55"/><circle cx="566.3" cy="298.3" r="3.55"/><circle cx="566.6" cy="298.4" r="3.55"/><circle cx="402.6" cy="298.5" r="3.55"/><circle cx="530.5" cy="298.6" r="3.55"/><circle cx="553.5" cy="298.6" r="3.55"/><circle cx="506.0" cy="298.8" r="3.55"/><circle cx="551.7" cy="298.8" r="3.55"/><circle cx="522.0" cy="298.9" r="3.55"/><circle cx="504.6" cy="299.0" r="3.55"/><circle cx="371.1" cy="299.2" r="3.55"/><circle cx="405.7" cy="299.2" r="3.55"/><circle cx="557.0" cy="299.7" r="3.55"/><circle cx="554.3" cy="299.8" r="3.55"/><circle cx="435.9" cy="299.9" r="3.55"/><circle cx="465.4" cy="299.9" r="3.55"/><circle cx="422.0" cy="300.1" r="3.55"/><circle cx="436.9" cy="300.1" r="3.55"/><circle cx="423.4" cy="300.2" r="3.55"/><circle cx="466.8" cy="300.2" r="3.55"/><circle cx="473.7" cy="300.3" r="3.55"/><circle cx="402.7" cy="300.5" r="3.55"/><circle cx="521.3" cy="300.6" r="3.55"/><circle cx="550.3" cy="300.8" r="3.55"/><circle cx="528.6" cy="300.8" r="3.55"/><circle cx="412.1" cy="300.8" r="3.55"/><circle cx="562.3" cy="300.8" r="3.55"/><circle cx="432.9" cy="300.8" r="3.55"/><circle cx="439.9" cy="300.9" r="3.55"/><circle cx="476.8" cy="300.9" r="3.55"/><circle cx="383.7" cy="301.0" r="3.55"/><circle cx="396.7" cy="301.0" r="3.55"/><circle cx="373.5" cy="301.0" r="3.55"/><circle cx="356.4" cy="301.2" r="3.55"/><circle cx="410.3" cy="301.2" r="3.55"/><circle cx="389.6" cy="301.3" r="3.55"/><circle cx="383.5" cy="301.3" r="3.55"/><circle cx="430.2" cy="301.6" r="3.55"/><circle cx="522.6" cy="301.8" r="3.55"/><circle cx="380.9" cy="302.2" r="3.55"/><circle cx="562.5" cy="302.3" r="3.55"/></g><g fill="#287e8e"><circle cx="507.8" cy="302.3" r="3.55"/><circle cx="565.2" cy="302.5" r="3.55"/><circle cx="435.7" cy="302.5" r="3.55"/><circle cx="426.3" cy="302.5" r="3.55"/><circle cx="406.6" cy="302.5" r="3.55"/><circle cx="460.4" cy="302.6" r="3.55"/><circle cx="378.4" cy="302.7" r="3.55"/><circle cx="523.3" cy="303.0" r="3.55"/><circle cx="571.7" cy="303.0" r="3.55"/><circle cx="499.6" cy="303.1" r="3.55"/><circle cx="436.4" cy="303.3" r="3.55"/><circle cx="389.8" cy="303.3" r="3.55"/><circle cx="497.0" cy="303.5" r="3.55"/><circle cx="462.0" cy="303.6" r="3.55"/><circle cx="571.9" cy="303.7" r="3.55"/><circle cx="355.4" cy="303.9" r="3.55"/><circle cx="456.7" cy="304.0" r="3.55"/><circle cx="526.8" cy="304.1" r="3.55"/><circle cx="452.3" cy="304.1" r="3.55"/><circle cx="447.1" cy="304.2" r="3.55"/><circle cx="461.9" cy="304.4" r="3.55"/><circle cx="394.1" cy="304.7" r="3.55"/><circle cx="509.1" cy="304.8" r="3.55"/><circle cx="511.1" cy="304.8" r="3.55"/><circle cx="436.7" cy="304.9" r="3.55"/><circle cx="382.9" cy="304.9" r="3.55"/><circle cx="533.9" cy="305.0" r="3.55"/><circle cx="515.5" cy="305.1" r="3.55"/><circle cx="472.3" cy="305.1" r="3.55"/><circle cx="422.3" cy="305.1" r="3.55"/><circle cx="406.2" cy="305.3" r="3.55"/><circle cx="485.0" cy="305.3" r="3.55"/><circle cx="508.5" cy="305.4" r="3.55"/><circle cx="505.2" cy="305.7" r="3.55"/><circle cx="443.2" cy="306.1" r="3.55"/><circle cx="484.2" cy="306.2" r="3.55"/><circle cx="531.8" cy="306.3" r="3.55"/><circle cx="444.2" cy="306.4" r="3.55"/><circle cx="495.1" cy="306.4" r="3.55"/><circle cx="444.0" cy="306.5" r="3.55"/><circle cx="471.2" cy="306.5" r="3.55"/><circle cx="361.2" cy="306.6" r="3.55"/><circle cx="439.9" cy="306.7" r="3.55"/><circle cx="563.1" cy="306.7" r="3.55"/><circle cx="356.3" cy="306.8" r="3.55"/><circle cx="497.4" cy="307.1" r="3.55"/><circle cx="564.7" cy="307.1" r="3.55"/><circle cx="498.2" cy="307.3" r="3.55"/><circle cx="423.0" cy="307.3" r="3.55"/><circle cx="390.1" cy="307.4" r="3.55"/><circle cx="447.6" cy="307.5" r="3.55"/><circle cx="540.8" cy="307.7" r="3.55"/><circle cx="496.5" cy="307.7" r="3.55"/><circle cx="559.4" cy="307.8" r="3.55"/><circle cx="405.1" cy="307.9" r="3.55"/><circle cx="558.8" cy="308.0" r="3.55"/><circle cx="462.3" cy="308.1" r="3.55"/><circle cx="380.7" cy="308.1" r="3.55"/><circle cx="410.5" cy="308.3" r="3.55"/><circle cx="495.6" cy="308.3" r="3.55"/><circle cx="560.7" cy="308.4" r="3.55"/></g><g fill="#26828e"><circle cx="563.6" cy="308.8" r="3.55"/><circle cx="555.3" cy="308.9" r="3.55"/><circle cx="374.9" cy="309.1" r="3.55"/><circle cx="529.1" cy="309.1" r="3.55"/><circle cx="397.9" cy="309.2" r="3.55"/><circle cx="532.3" cy="309.3" r="3.55"/><circle cx="369.3" cy="309.7" r="3.55"/><circle cx="421.3" cy="309.8" r="3.55"/><circle cx="412.3" cy="310.3" r="3.55"/><circle cx="547.0" cy="310.3" r="3.55"/><circle cx="478.0" cy="310.4" r="3.55"/><circle cx="558.9" cy="310.5" r="3.55"/><circle cx="537.5" cy="310.6" r="3.55"/><circle cx="435.6" cy="310.6" r="3.55"/><circle cx="353.8" cy="310.7" r="3.55"/><circle cx="546.9" cy="310.7" r="3.55"/><circle cx="517.3" cy="311.1" r="3.55"/><circle cx="390.6" cy="311.2" r="3.55"/><circle cx="370.8" cy="311.4" r="3.55"/><circle cx="427.5" cy="311.5" r="3.55"/><circle cx="436.9" cy="311.7" r="3.55"/><circle cx="397.8" cy="311.8" r="3.55"/><circle cx="493.4" cy="312.1" r="3.55"/><circle cx="562.1" cy="312.2" r="3.55"/><circle cx="553.6" cy="312.3" r="3.55"/><circle cx="491.3" cy="312.3" r="3.55"/><circle cx="384.6" cy="312.5" r="3.55"/><circle cx="481.2" cy="312.6" r="3.55"/><circle cx="356.0" cy="312.6" r="3.55"/><circle cx="472.0" cy="312.7" r="3.55"/><circle cx="354.0" cy="313.1" r="3.55"/><circle cx="425.7" cy="313.1" r="3.55"/><circle cx="376.8" cy="313.3" r="3.55"/><circle cx="391.2" cy="313.4" r="3.55"/><circle cx="367.2" cy="313.4" r="3.55"/><circle cx="395.0" cy="313.6" r="3.55"/><circle cx="497.9" cy="313.6" r="3.55"/><circle cx="492.7" cy="313.7" r="3.55"/><circle cx="511.1" cy="313.9" r="3.55"/><circle cx="418.1" cy="314.2" r="3.55"/><circle cx="560.5" cy="314.5" r="3.55"/><circle cx="430.0" cy="314.5" r="3.55"/></g><g fill="#25858e"><circle cx="539.0" cy="314.7" r="3.55"/><circle cx="499.9" cy="315.0" r="3.55"/><circle cx="542.6" cy="315.0" r="3.55"/><circle cx="475.1" cy="315.2" r="3.55"/><circle cx="448.6" cy="315.2" r="3.55"/><circle cx="381.7" cy="315.4" r="3.55"/><circle cx="502.4" cy="315.5" r="3.55"/><circle cx="418.9" cy="315.5" r="3.55"/><circle cx="499.6" cy="315.6" r="3.55"/><circle cx="560.6" cy="315.6" r="3.55"/><circle cx="424.9" cy="315.6" r="3.55"/><circle cx="387.0" cy="315.7" r="3.55"/><circle cx="457.8" cy="315.7" r="3.55"/><circle cx="390.3" cy="316.0" r="3.55"/><circle cx="512.1" cy="316.1" r="3.55"/><circle cx="514.9" cy="316.1" r="3.55"/><circle cx="474.0" cy="316.3" r="3.55"/><circle cx="446.4" cy="316.4" r="3.55"/><circle cx="456.2" cy="316.5" r="3.55"/><circle cx="476.5" cy="316.7" r="3.55"/><circle cx="380.2" cy="317.1" r="3.55"/><circle cx="488.9" cy="317.2" r="3.55"/><circle cx="497.2" cy="317.4" r="3.55"/><circle cx="454.1" cy="317.8" r="3.55"/><circle cx="497.2" cy="318.1" r="3.55"/><circle cx="439.6" cy="318.3" r="3.55"/><circle cx="375.5" cy="318.3" r="3.55"/><circle cx="462.9" cy="318.7" r="3.55"/><circle cx="416.5" cy="318.8" r="3.55"/><circle cx="538.7" cy="319.4" r="3.55"/><circle cx="410.3" cy="319.4" r="3.55"/><circle cx="441.1" cy="319.5" r="3.55"/><circle cx="396.0" cy="319.5" r="3.55"/><circle cx="491.4" cy="319.7" r="3.55"/><circle cx="536.4" cy="319.8" r="3.55"/><circle cx="436.9" cy="319.8" r="3.55"/><circle cx="486.2" cy="319.8" r="3.55"/><circle cx="496.9" cy="319.9" r="3.55"/><circle cx="497.4" cy="319.9" r="3.55"/><circle cx="355.7" cy="320.0" r="3.55"/><circle cx="445.1" cy="320.2" r="3.55"/><circle cx="355.7" cy="320.2" r="3.55"/><circle cx="473.2" cy="320.5" r="3.55"/><circle cx="521.7" cy="320.5" r="3.55"/></g><g fill="#24898d"><circle cx="499.7" cy="320.7" r="3.55"/><circle cx="444.1" cy="320.8" r="3.55"/><circle cx="410.6" cy="321.0" r="3.55"/><circle cx="491.3" cy="321.1" r="3.55"/><circle cx="495.6" cy="321.1" r="3.55"/><circle cx="438.0" cy="321.1" r="3.55"/><circle cx="496.7" cy="321.2" r="3.55"/><circle cx="544.2" cy="321.4" r="3.55"/><circle cx="427.6" cy="321.5" r="3.55"/><circle cx="457.0" cy="321.7" r="3.55"/><circle cx="530.3" cy="322.0" r="3.55"/><circle cx="413.8" cy="322.1" r="3.55"/><circle cx="389.4" cy="322.2" r="3.55"/><circle cx="415.6" cy="322.2" r="3.55"/><circle cx="505.8" cy="322.3" r="3.55"/><circle cx="411.0" cy="322.6" r="3.55"/><circle cx="398.1" cy="322.7" r="3.55"/><circle cx="371.6" cy="322.7" r="3.55"/><circle cx="385.4" cy="322.8" r="3.55"/><circle cx="534.1" cy="323.1" r="3.55"/><circle cx="526.1" cy="323.2" r="3.55"/><circle cx="426.7" cy="323.5" r="3.55"/><circle cx="554.4" cy="323.6" r="3.55"/><circle cx="370.9" cy="324.0" r="3.55"/><circle cx="416.9" cy="324.1" r="3.55"/><circle cx="409.0" cy="324.2" r="3.55"/><circle cx="413.4" cy="324.2" r="3.55"/><circle cx="361.5" cy="324.5" r="3.55"/><circle cx="449.0" cy="324.5" r="3.55"/><circle cx="424.6" cy="324.6" r="3.55"/><circle cx="549.5" cy="324.7" r="3.55"/><circle cx="544.7" cy="324.9" r="3.55"/><circle cx="379.1" cy="324.9" r="3.55"/><circle cx="449.8" cy="325.2" r="3.55"/><circle cx="418.7" cy="325.3" r="3.55"/><circle cx="463.9" cy="325.5" r="3.55"/><circle cx="556.5" cy="325.8" r="3.55"/><circle cx="418.9" cy="326.0" r="3.55"/><circle cx="531.1" cy="326.2" r="3.55"/><circle cx="390.1" cy="326.2" r="3.55"/><circle cx="480.7" cy="326.2" r="3.55"/><circle cx="367.7" cy="326.4" r="3.55"/><circle cx="492.6" cy="326.4" r="3.55"/><circle cx="418.1" cy="326.4" r="3.55"/><circle cx="423.5" cy="326.4" r="3.55"/><circle cx="436.5" cy="326.7" r="3.55"/></g><g fill="#228d8d"><circle cx="384.0" cy="326.9" r="3.55"/><circle cx="410.8" cy="327.1" r="3.55"/><circle cx="464.3" cy="327.2" r="3.55"/><circle cx="527.1" cy="327.8" r="3.55"/><circle cx="515.8" cy="328.0" r="3.55"/><circle cx="544.3" cy="328.2" r="3.55"/><circle cx="555.2" cy="328.2" r="3.55"/><circle cx="542.5" cy="328.3" r="3.55"/><circle cx="440.2" cy="328.4" r="3.55"/><circle cx="405.8" cy="328.4" r="3.55"/><circle cx="519.3" cy="328.4" r="3.55"/><circle cx="375.6" cy="328.5" r="3.55"/><circle cx="445.5" cy="328.6" r="3.55"/><circle cx="360.7" cy="328.7" r="3.55"/><circle cx="555.6" cy="328.9" r="3.55"/><circle cx="524.3" cy="329.0" r="3.55"/><circle cx="461.6" cy="329.2" r="3.55"/><circle cx="408.3" cy="329.2" r="3.55"/><circle cx="434.6" cy="329.2" r="3.55"/><circle cx="501.9" cy="329.6" r="3.55"/><circle cx="470.7" cy="329.6" r="3.55"/><circle cx="494.1" cy="329.7" r="3.55"/><circle cx="501.4" cy="329.8" r="3.55"/><circle cx="398.2" cy="329.8" r="3.55"/><circle cx="548.4" cy="329.9" r="3.55"/><circle cx="473.0" cy="330.0" r="3.55"/><circle cx="448.6" cy="330.0" r="3.55"/><circle cx="391.5" cy="330.3" r="3.55"/><circle cx="443.4" cy="330.6" r="3.55"/><circle cx="467.5" cy="330.7" r="3.55"/><circle cx="556.6" cy="330.8" r="3.55"/><circle cx="489.6" cy="331.0" r="3.55"/><circle cx="527.1" cy="331.2" r="3.55"/><circle cx="446.7" cy="331.3" r="3.55"/><circle cx="538.8" cy="331.6" r="3.55"/><circle cx="395.9" cy="332.0" r="3.55"/><circle cx="409.1" cy="332.1" r="3.55"/><circle cx="475.0" cy="332.1" r="3.55"/><circle cx="528.2" cy="332.2" r="3.55"/><circle cx="368.2" cy="332.3" r="3.55"/><circle cx="362.1" cy="332.5" r="3.55"/><circle cx="390.7" cy="332.6" r="3.55"/></g><g fill="#21918c"><circle cx="374.4" cy="333.0" r="3.55"/><circle cx="407.4" cy="333.0" r="3.55"/><circle cx="370.0" cy="333.1" r="3.55"/><circle cx="480.4" cy="333.3" r="3.55"/><circle cx="368.9" cy="333.3" r="3.55"/><circle cx="446.7" cy="333.4" r="3.55"/><circle cx="524.5" cy="333.4" r="3.55"/><circle cx="379.8" cy="333.6" r="3.55"/><circle cx="505.3" cy="333.8" r="3.55"/><circle cx="415.8" cy="333.8" r="3.55"/><circle cx="386.7" cy="334.0" r="3.55"/><circle cx="428.8" cy="334.1" r="3.55"/><circle cx="523.3" cy="334.2" r="3.55"/><circle cx="416.2" cy="334.2" r="3.55"/><circle cx="463.3" cy="334.5" r="3.55"/><circle cx="363.3" cy="334.8" r="3.55"/><circle cx="387.5" cy="335.0" r="3.55"/><circle cx="450.4" cy="335.1" r="3.55"/><circle cx="390.5" cy="335.6" r="3.55"/><circle cx="467.7" cy="335.9" r="3.55"/><circle cx="406.3" cy="336.0" r="3.55"/><circle cx="423.9" cy="336.1" r="3.55"/><circle cx="455.9" cy="336.2" r="3.55"/><circle cx="424.1" cy="336.5" r="3.55"/><circle cx="382.9" cy="336.5" r="3.55"/><circle cx="377.4" cy="336.6" r="3.55"/><circle cx="538.5" cy="336.6" r="3.55"/><circle cx="416.1" cy="337.0" r="3.55"/><circle cx="524.3" cy="337.1" r="3.55"/><circle cx="436.9" cy="337.2" r="3.55"/><circle cx="428.9" cy="337.3" r="3.55"/><circle cx="508.2" cy="337.6" r="3.55"/><circle cx="518.5" cy="337.6" r="3.55"/><circle cx="427.5" cy="337.7" r="3.55"/><circle cx="474.5" cy="338.0" r="3.55"/><circle cx="439.1" cy="338.1" r="3.55"/><circle cx="394.7" cy="338.4" r="3.55"/><circle cx="483.7" cy="338.4" r="3.55"/><circle cx="503.1" cy="338.7" r="3.55"/><circle cx="497.8" cy="338.8" r="3.55"/><circle cx="491.3" cy="339.0" r="3.55"/><circle cx="550.9" cy="339.0" r="3.55"/></g><g fill="#21948b"><circle cx="515.3" cy="339.4" r="3.55"/><circle cx="443.6" cy="339.4" r="3.55"/><circle cx="408.3" cy="339.4" r="3.55"/><circle cx="553.7" cy="339.5" r="3.55"/><circle cx="526.3" cy="339.5" r="3.55"/><circle cx="462.4" cy="339.5" r="3.55"/><circle cx="482.6" cy="339.6" r="3.55"/><circle cx="457.1" cy="339.9" r="3.55"/><circle cx="370.6" cy="339.9" r="3.55"/><circle cx="550.6" cy="340.0" r="3.55"/><circle cx="401.1" cy="340.0" r="3.55"/><circle cx="401.5" cy="340.1" r="3.55"/><circle cx="368.6" cy="340.1" r="3.55"/><circle cx="397.2" cy="340.7" r="3.55"/><circle cx="481.2" cy="340.9" r="3.55"/><circle cx="385.7" cy="341.1" r="3.55"/><circle cx="401.9" cy="341.1" r="3.55"/><circle cx="540.4" cy="341.2" r="3.55"/><circle cx="539.3" cy="341.2" r="3.55"/><circle cx="499.1" cy="341.5" r="3.55"/><circle cx="432.0" cy="341.6" r="3.55"/><circle cx="422.6" cy="341.7" r="3.55"/><circle cx="501.4" cy="341.9" r="3.55"/><circle cx="496.1" cy="342.0" r="3.55"/><circle cx="450.3" cy="342.1" r="3.55"/><circle cx="388.2" cy="342.2" r="3.55"/><circle cx="537.2" cy="342.3" r="3.55"/><circle cx="365.5" cy="342.8" r="3.55"/><circle cx="378.6" cy="343.1" r="3.55"/><circle cx="452.3" cy="343.4" r="3.55"/><circle cx="507.9" cy="343.5" r="3.55"/><circle cx="416.7" cy="344.0" r="3.55"/><circle cx="390.2" cy="344.1" r="3.55"/><circle cx="499.4" cy="344.2" r="3.55"/><circle cx="553.2" cy="344.4" r="3.55"/><circle cx="499.4" cy="344.5" r="3.55"/><circle cx="524.9" cy="344.7" r="3.55"/><circle cx="514.1" cy="344.8" r="3.55"/></g><g fill="#20988a"><circle cx="504.2" cy="345.3" r="3.55"/><circle cx="431.0" cy="345.5" r="3.55"/><circle cx="528.4" cy="345.8" r="3.55"/><circle cx="419.8" cy="345.8" r="3.55"/><circle cx="486.4" cy="345.9" r="3.55"/><circle cx="434.3" cy="346.1" r="3.55"/><circle cx="535.8" cy="346.5" r="3.55"/><circle cx="502.0" cy="346.7" r="3.55"/><circle cx="382.7" cy="347.2" r="3.55"/><circle cx="413.3" cy="347.3" r="3.55"/><circle cx="470.8" cy="347.4" r="3.55"/><circle cx="404.5" cy="347.6" r="3.55"/><circle cx="486.9" cy="347.7" r="3.55"/><circle cx="421.4" cy="347.7" r="3.55"/><circle cx="518.0" cy="348.0" r="3.55"/><circle cx="452.9" cy="348.3" r="3.55"/><circle cx="391.9" cy="348.4" r="3.55"/><circle cx="502.7" cy="348.4" r="3.55"/><circle cx="402.2" cy="348.5" r="3.55"/><circle cx="370.9" cy="348.5" r="3.55"/><circle cx="540.8" cy="348.6" r="3.55"/><circle cx="521.1" cy="349.5" r="3.55"/><circle cx="443.8" cy="349.6" r="3.55"/><circle cx="497.2" cy="349.8" r="3.55"/><circle cx="452.7" cy="349.9" r="3.55"/><circle cx="423.2" cy="350.0" r="3.55"/><circle cx="483.6" cy="350.0" r="3.55"/><circle cx="482.3" cy="350.2" r="3.55"/><circle cx="390.2" cy="350.2" r="3.55"/><circle cx="374.7" cy="350.6" r="3.55"/></g><g fill="#209c89"><circle cx="520.9" cy="351.3" r="3.55"/><circle cx="379.3" cy="351.4" r="3.55"/><circle cx="379.6" cy="351.6" r="3.55"/><circle cx="474.9" cy="351.7" r="3.55"/><circle cx="432.3" cy="351.7" r="3.55"/><circle cx="448.2" cy="351.8" r="3.55"/><circle cx="497.7" cy="352.0" r="3.55"/><circle cx="384.1" cy="352.0" r="3.55"/><circle cx="379.6" cy="352.1" r="3.55"/><circle cx="448.2" cy="352.2" r="3.55"/><circle cx="369.1" cy="352.2" r="3.55"/><circle cx="397.7" cy="352.2" r="3.55"/><circle cx="401.0" cy="352.4" r="3.55"/><circle cx="504.8" cy="352.6" r="3.55"/><circle cx="444.0" cy="352.6" r="3.55"/><circle cx="480.0" cy="352.6" r="3.55"/><circle cx="490.6" cy="352.7" r="3.55"/><circle cx="471.5" cy="353.1" r="3.55"/><circle cx="524.9" cy="353.2" r="3.55"/><circle cx="500.2" cy="353.3" r="3.55"/><circle cx="545.6" cy="353.4" r="3.55"/><circle cx="441.9" cy="354.0" r="3.55"/><circle cx="468.4" cy="354.1" r="3.55"/><circle cx="383.0" cy="354.1" r="3.55"/><circle cx="384.7" cy="354.6" r="3.55"/><circle cx="504.8" cy="354.7" r="3.55"/><circle cx="448.7" cy="354.9" r="3.55"/><circle cx="421.9" cy="355.0" r="3.55"/><circle cx="460.1" cy="355.0" r="3.55"/><circle cx="487.1" cy="355.1" r="3.55"/><circle cx="415.6" cy="355.1" r="3.55"/><circle cx="486.8" cy="355.2" r="3.55"/><circle cx="376.6" cy="355.2" r="3.55"/><circle cx="517.4" cy="355.9" r="3.55"/><circle cx="461.8" cy="356.5" r="3.55"/><circle cx="391.8" cy="356.7" r="3.55"/><circle cx="471.8" cy="356.8" r="3.55"/><circle cx="494.6" cy="356.8" r="3.55"/><circle cx="400.1" cy="356.9" r="3.55"/><circle cx="494.4" cy="357.3" r="3.55"/><circle cx="473.3" cy="357.4" r="3.55"/><circle cx="410.1" cy="357.4" r="3.55"/></g><g fill="#1f9f88"><circle cx="391.0" cy="357.6" r="3.55"/><circle cx="463.6" cy="357.7" r="3.55"/><circle cx="394.8" cy="357.9" r="3.55"/><circle cx="476.9" cy="358.3" r="3.55"/><circle cx="540.2" cy="358.4" r="3.55"/><circle cx="423.0" cy="358.4" r="3.55"/><circle cx="464.7" cy="358.5" r="3.55"/><circle cx="429.6" cy="358.8" r="3.55"/><circle cx="403.1" cy="359.0" r="3.55"/><circle cx="522.4" cy="360.0" r="3.55"/><circle cx="457.4" cy="360.3" r="3.55"/><circle cx="488.4" cy="360.5" r="3.55"/><circle cx="536.6" cy="360.9" r="3.55"/><circle cx="406.7" cy="361.0" r="3.55"/><circle cx="387.8" cy="361.1" r="3.55"/><circle cx="387.9" cy="361.2" r="3.55"/><circle cx="410.7" cy="361.4" r="3.55"/><circle cx="513.8" cy="361.6" r="3.55"/><circle cx="439.1" cy="361.7" r="3.55"/><circle cx="428.0" cy="361.8" r="3.55"/><circle cx="536.5" cy="362.0" r="3.55"/><circle cx="537.4" cy="362.9" r="3.55"/></g><g fill="#21a386"><circle cx="485.6" cy="364.3" r="3.55"/><circle cx="495.1" cy="364.6" r="3.55"/><circle cx="538.2" cy="365.1" r="3.55"/><circle cx="472.3" cy="365.2" r="3.55"/><circle cx="538.6" cy="365.8" r="3.55"/><circle cx="535.3" cy="365.9" r="3.55"/><circle cx="383.3" cy="366.0" r="3.55"/><circle cx="527.4" cy="366.3" r="3.55"/><circle cx="386.0" cy="366.3" r="3.55"/><circle cx="519.4" cy="366.4" r="3.55"/><circle cx="494.4" cy="367.8" r="3.55"/><circle cx="453.7" cy="367.8" r="3.55"/><circle cx="414.5" cy="368.0" r="3.55"/><circle cx="509.0" cy="368.2" r="3.55"/><circle cx="483.2" cy="368.2" r="3.55"/><circle cx="379.5" cy="368.2" r="3.55"/><circle cx="388.9" cy="368.7" r="3.55"/><circle cx="495.4" cy="368.8" r="3.55"/><circle cx="433.2" cy="368.8" r="3.55"/><circle cx="531.8" cy="368.9" r="3.55"/><circle cx="511.0" cy="369.0" r="3.55"/><circle cx="440.7" cy="369.1" r="3.55"/><circle cx="459.4" cy="369.1" r="3.55"/><circle cx="431.9" cy="369.4" r="3.55"/></g><g fill="#23a684"><circle cx="489.5" cy="369.8" r="3.55"/><circle cx="488.4" cy="370.0" r="3.55"/><circle cx="511.6" cy="370.3" r="3.55"/><circle cx="498.4" cy="370.3" r="3.55"/><circle cx="455.5" cy="370.6" r="3.55"/><circle cx="444.7" cy="371.2" r="3.55"/><circle cx="477.4" cy="371.3" r="3.55"/><circle cx="494.1" cy="371.4" r="3.55"/><circle cx="537.8" cy="371.4" r="3.55"/><circle cx="491.1" cy="371.4" r="3.55"/><circle cx="384.1" cy="371.9" r="3.55"/><circle cx="485.8" cy="372.0" r="3.55"/><circle cx="506.4" cy="372.3" r="3.55"/><circle cx="469.5" cy="373.6" r="3.55"/><circle cx="385.1" cy="373.7" r="3.55"/><circle cx="403.2" cy="374.1" r="3.55"/><circle cx="397.6" cy="374.1" r="3.55"/><circle cx="445.1" cy="374.2" r="3.55"/><circle cx="397.4" cy="374.4" r="3.55"/><circle cx="538.3" cy="374.7" r="3.55"/><circle cx="504.0" cy="374.8" r="3.55"/><circle cx="391.7" cy="374.8" r="3.55"/><circle cx="470.6" cy="375.0" r="3.55"/><circle cx="408.7" cy="375.5" r="3.55"/><circle cx="483.0" cy="375.7" r="3.55"/></g><g fill="#25aa82"><circle cx="461.9" cy="376.2" r="3.55"/><circle cx="449.3" cy="376.6" r="3.55"/><circle cx="488.7" cy="376.7" r="3.55"/><circle cx="424.5" cy="376.8" r="3.55"/><circle cx="462.9" cy="376.9" r="3.55"/><circle cx="419.7" cy="377.0" r="3.55"/><circle cx="471.3" cy="377.0" r="3.55"/><circle cx="514.3" cy="377.1" r="3.55"/><circle cx="477.5" cy="377.4" r="3.55"/><circle cx="384.8" cy="377.5" r="3.55"/><circle cx="522.8" cy="377.6" r="3.55"/><circle cx="442.7" cy="377.9" r="3.55"/><circle cx="520.7" cy="378.0" r="3.55"/><circle cx="454.6" cy="378.3" r="3.55"/><circle cx="535.5" cy="378.5" r="3.55"/><circle cx="432.8" cy="378.5" r="3.55"/><circle cx="388.8" cy="379.6" r="3.55"/><circle cx="473.9" cy="379.7" r="3.55"/><circle cx="432.1" cy="379.7" r="3.55"/><circle cx="417.8" cy="379.8" r="3.55"/><circle cx="461.2" cy="380.0" r="3.55"/><circle cx="462.8" cy="380.1" r="3.55"/><circle cx="532.9" cy="380.6" r="3.55"/><circle cx="414.1" cy="381.5" r="3.55"/></g><g fill="#28ad80"><circle cx="474.5" cy="382.0" r="3.55"/><circle cx="533.4" cy="382.3" r="3.55"/><circle cx="534.4" cy="382.5" r="3.55"/><circle cx="410.3" cy="382.7" r="3.55"/><circle cx="465.7" cy="382.9" r="3.55"/><circle cx="460.9" cy="382.9" r="3.55"/><circle cx="512.7" cy="383.2" r="3.55"/><circle cx="418.1" cy="383.3" r="3.55"/><circle cx="408.1" cy="383.7" r="3.55"/><circle cx="482.1" cy="384.0" r="3.55"/><circle cx="472.0" cy="384.2" r="3.55"/><circle cx="389.4" cy="384.3" r="3.55"/><circle cx="483.2" cy="384.4" r="3.55"/><circle cx="458.3" cy="384.8" r="3.55"/><circle cx="525.3" cy="385.0" r="3.55"/><circle cx="383.8" cy="385.2" r="3.55"/><circle cx="459.3" cy="385.2" r="3.55"/><circle cx="501.1" cy="385.5" r="3.55"/><circle cx="449.7" cy="385.7" r="3.55"/><circle cx="398.1" cy="385.8" r="3.55"/><circle cx="452.8" cy="387.6" r="3.55"/></g><g fill="#2db17d"><circle cx="393.1" cy="388.1" r="3.55"/><circle cx="422.0" cy="388.7" r="3.55"/><circle cx="513.3" cy="390.1" r="3.55"/><circle cx="421.1" cy="390.5" r="3.55"/><circle cx="397.3" cy="391.1" r="3.55"/><circle cx="500.3" cy="391.7" r="3.55"/><circle cx="390.0" cy="392.1" r="3.55"/><circle cx="463.5" cy="392.7" r="3.55"/><circle cx="500.0" cy="392.8" r="3.55"/><circle cx="511.7" cy="393.1" r="3.55"/><circle cx="396.9" cy="393.1" r="3.55"/><circle cx="416.6" cy="393.7" r="3.55"/><circle cx="525.3" cy="393.8" r="3.55"/><circle cx="425.9" cy="393.9" r="3.55"/><circle cx="397.2" cy="393.9" r="3.55"/></g><g fill="#33b47a"><circle cx="410.7" cy="394.6" r="3.55"/><circle cx="396.0" cy="394.7" r="3.55"/><circle cx="456.6" cy="394.8" r="3.55"/><circle cx="492.5" cy="395.1" r="3.55"/><circle cx="413.6" cy="395.5" r="3.55"/><circle cx="441.6" cy="395.5" r="3.55"/><circle cx="528.5" cy="395.5" r="3.55"/><circle cx="434.8" cy="395.8" r="3.55"/><circle cx="406.4" cy="396.2" r="3.55"/><circle cx="394.6" cy="396.5" r="3.55"/><circle cx="389.4" cy="396.6" r="3.55"/><circle cx="434.9" cy="397.4" r="3.55"/><circle cx="513.2" cy="398.0" r="3.55"/><circle cx="395.9" cy="399.5" r="3.55"/><circle cx="388.1" cy="399.5" r="3.55"/><circle cx="525.3" cy="399.8" r="3.55"/><circle cx="477.4" cy="399.9" r="3.55"/><circle cx="416.5" cy="400.2" r="3.55"/></g><g fill="#38b877"><circle cx="477.7" cy="400.3" r="3.55"/><circle cx="475.2" cy="400.4" r="3.55"/><circle cx="398.4" cy="400.5" r="3.55"/><circle cx="448.6" cy="401.4" r="3.55"/><circle cx="434.6" cy="402.0" r="3.55"/><circle cx="527.8" cy="402.2" r="3.55"/><circle cx="402.7" cy="402.3" r="3.55"/><circle cx="456.2" cy="402.3" r="3.55"/><circle cx="518.0" cy="402.6" r="3.55"/><circle cx="523.8" cy="402.9" r="3.55"/><circle cx="492.3" cy="402.9" r="3.55"/><circle cx="466.3" cy="403.1" r="3.55"/><circle cx="456.1" cy="403.2" r="3.55"/><circle cx="479.0" cy="403.6" r="3.55"/><circle cx="490.1" cy="404.1" r="3.55"/><circle cx="525.1" cy="404.3" r="3.55"/><circle cx="523.2" cy="405.3" r="3.55"/><circle cx="462.1" cy="405.4" r="3.55"/><circle cx="522.7" cy="405.7" r="3.55"/><circle cx="391.9" cy="405.9" r="3.55"/><circle cx="494.8" cy="406.0" r="3.55"/><circle cx="443.9" cy="406.3" r="3.55"/></g><g fill="#3ebb74"><circle cx="456.2" cy="406.6" r="3.55"/><circle cx="429.0" cy="408.2" r="3.55"/><circle cx="491.1" cy="409.0" r="3.55"/><circle cx="506.3" cy="409.1" r="3.55"/><circle cx="483.1" cy="409.1" r="3.55"/><circle cx="482.3" cy="409.2" r="3.55"/><circle cx="452.1" cy="409.6" r="3.55"/><circle cx="406.2" cy="409.8" r="3.55"/><circle cx="392.6" cy="410.2" r="3.55"/><circle cx="441.3" cy="410.8" r="3.55"/><circle cx="522.2" cy="412.4" r="3.55"/></g><g fill="#45bf6f"><circle cx="517.8" cy="413.3" r="3.55"/><circle cx="446.9" cy="413.4" r="3.55"/><circle cx="436.7" cy="413.6" r="3.55"/><circle cx="489.8" cy="414.6" r="3.55"/><circle cx="515.9" cy="415.9" r="3.55"/><circle cx="441.1" cy="415.9" r="3.55"/><circle cx="441.4" cy="416.2" r="3.55"/><circle cx="426.5" cy="416.5" r="3.55"/><circle cx="435.3" cy="417.3" r="3.55"/></g><g fill="#4dc26b"><circle cx="504.7" cy="418.9" r="3.55"/><circle cx="502.9" cy="419.2" r="3.55"/><circle cx="399.4" cy="420.1" r="3.55"/><circle cx="412.7" cy="420.2" r="3.55"/><circle cx="488.2" cy="420.6" r="3.55"/><circle cx="511.0" cy="421.5" r="3.55"/><circle cx="433.7" cy="421.8" r="3.55"/><circle cx="509.9" cy="422.1" r="3.55"/><circle cx="424.9" cy="422.7" r="3.55"/><circle cx="413.0" cy="424.2" r="3.55"/><circle cx="425.8" cy="424.5" r="3.55"/><circle cx="418.6" cy="424.7" r="3.55"/></g><g fill="#55c567"><circle cx="419.5" cy="425.9" r="3.55"/><circle cx="485.2" cy="426.9" r="3.55"/><circle cx="514.9" cy="427.5" r="3.55"/><circle cx="503.8" cy="427.8" r="3.55"/><circle cx="454.3" cy="428.1" r="3.55"/><circle cx="498.5" cy="429.4" r="3.55"/><circle cx="472.1" cy="430.1" r="3.55"/></g><g fill="#5dc863"><circle cx="504.8" cy="431.2" r="3.55"/><circle cx="415.2" cy="431.4" r="3.55"/><circle cx="458.0" cy="431.4" r="3.55"/><circle cx="404.1" cy="431.4" r="3.55"/><circle cx="407.4" cy="432.4" r="3.55"/><circle cx="480.5" cy="434.3" r="3.55"/><circle cx="484.6" cy="434.4" r="3.55"/><circle cx="496.7" cy="435.1" r="3.55"/><circle cx="462.2" cy="435.3" r="3.55"/><circle cx="409.8" cy="435.6" r="3.55"/><circle cx="437.4" cy="436.3" r="3.55"/></g><g fill="#66cb5d"><circle cx="507.0" cy="437.3" r="3.55"/><circle cx="462.7" cy="437.3" r="3.55"/><circle cx="508.8" cy="437.4" r="3.55"/><circle cx="447.4" cy="438.0" r="3.55"/><circle cx="448.1" cy="438.1" r="3.55"/><circle cx="444.3" cy="438.4" r="3.55"/><circle cx="498.1" cy="438.4" r="3.55"/><circle cx="480.5" cy="438.5" r="3.55"/><circle cx="496.2" cy="438.8" r="3.55"/><circle cx="452.8" cy="439.1" r="3.55"/><circle cx="474.5" cy="439.5" r="3.55"/><circle cx="408.9" cy="439.6" r="3.55"/><circle cx="423.3" cy="439.6" r="3.55"/><circle cx="461.2" cy="439.6" r="3.55"/><circle cx="491.5" cy="439.7" r="3.55"/><circle cx="466.7" cy="440.6" r="3.55"/><circle cx="454.0" cy="441.0" r="3.55"/><circle cx="407.2" cy="441.2" r="3.55"/><circle cx="435.5" cy="441.3" r="3.55"/><circle cx="493.0" cy="442.0" r="3.55"/><circle cx="413.6" cy="442.3" r="3.55"/><circle cx="418.6" cy="443.2" r="3.55"/></g><g fill="#6fce58"><circle cx="429.7" cy="443.9" r="3.55"/><circle cx="423.8" cy="444.2" r="3.55"/><circle cx="436.1" cy="444.7" r="3.55"/><circle cx="493.4" cy="445.0" r="3.55"/><circle cx="471.6" cy="446.1" r="3.55"/><circle cx="420.7" cy="447.1" r="3.55"/><circle cx="451.6" cy="447.5" r="3.55"/><circle cx="412.2" cy="448.5" r="3.55"/><circle cx="433.9" cy="449.3" r="3.55"/></g><g fill="#79d152"><circle cx="443.3" cy="449.6" r="3.55"/><circle cx="434.5" cy="449.6" r="3.55"/><circle cx="497.6" cy="450.1" r="3.55"/><circle cx="474.7" cy="451.2" r="3.55"/><circle cx="473.1" cy="452.4" r="3.55"/><circle cx="421.9" cy="452.8" r="3.55"/><circle cx="434.8" cy="452.8" r="3.55"/><circle cx="443.4" cy="452.9" r="3.55"/><circle cx="477.7" cy="453.2" r="3.55"/><circle cx="450.6" cy="453.4" r="3.55"/><circle cx="482.1" cy="454.6" r="3.55"/></g><g fill="#82d34c"><circle cx="438.4" cy="457.5" r="3.55"/><circle cx="454.3" cy="458.3" r="3.55"/><circle cx="479.8" cy="458.4" r="3.55"/><circle cx="431.4" cy="460.0" r="3.55"/><circle cx="415.1" cy="460.6" r="3.55"/><circle cx="485.3" cy="460.6" r="3.55"/><circle cx="490.3" cy="460.6" r="3.55"/><circle cx="475.3" cy="461.3" r="3.55"/></g><g fill="#8cd646"><circle cx="429.5" cy="461.9" r="3.55"/><circle cx="472.1" cy="461.9" r="3.55"/><circle cx="428.2" cy="465.0" r="3.55"/><circle cx="477.8" cy="466.9" r="3.55"/></g><g fill="#96d83f"><circle cx="412.5" cy="468.2" r="3.55"/><circle cx="452.1" cy="468.2" r="3.55"/><circle cx="470.9" cy="468.8" r="3.55"/><circle cx="423.8" cy="469.0" r="3.55"/><circle cx="462.7" cy="469.4" r="3.55"/><circle cx="498.5" cy="471.5" r="3.55"/><circle cx="416.9" cy="471.9" r="3.55"/><circle cx="452.7" cy="471.9" r="3.55"/><circle cx="492.8" cy="471.9" r="3.55"/></g><g fill="#a1da38"><circle cx="482.8" cy="474.4" r="3.55"/><circle cx="472.1" cy="475.1" r="3.55"/><circle cx="467.8" cy="476.3" r="3.55"/><circle cx="440.2" cy="478.2" r="3.55"/><circle cx="447.7" cy="478.2" r="3.55"/><circle cx="492.2" cy="478.8" r="3.55"/></g><g fill="#abdc31"><circle cx="444.5" cy="480.7" r="3.55"/><circle cx="452.7" cy="480.7" r="3.55"/><circle cx="465.9" cy="481.3" r="3.55"/><circle cx="415.7" cy="482.0" r="3.55"/><circle cx="457.1" cy="483.2" r="3.55"/><circle cx="418.2" cy="483.2" r="3.55"/><circle cx="494.7" cy="484.8" r="3.55"/><circle cx="460.9" cy="485.1" r="3.55"/><circle cx="487.8" cy="485.7" r="3.55"/><circle cx="470.3" cy="485.7" r="3.55"/><circle cx="426.3" cy="485.7" r="3.55"/></g><g fill="#b5dd2c"><circle cx="466.5" cy="487.0" r="3.55"/><circle cx="422.0" cy="489.5" r="3.55"/><circle cx="480.3" cy="489.9" r="3.55"/><circle cx="425.7" cy="490.7" r="3.55"/></g><g fill="#c0df26"><circle cx="470.3" cy="493.9" r="3.55"/><circle cx="453.3" cy="497.4" r="3.55"/><circle cx="487.2" cy="497.6" r="3.55"/><circle cx="464.0" cy="498.3" r="3.55"/><circle cx="440.8" cy="498.3" r="3.55"/></g><g fill="#cbe020"><circle cx="467.1" cy="499.5" r="3.55"/><circle cx="435.1" cy="502.0" r="3.55"/><circle cx="428.2" cy="504.2" r="3.55"/></g><g fill="#d5e21a"><circle cx="441.4" cy="504.5" r="3.55"/><circle cx="432.0" cy="508.3" r="3.55"/><circle cx="468.4" cy="508.3" r="3.55"/><circle cx="452.4" cy="509.2" r="3.55"/></g><g fill="#e0e31b"><circle cx="430.1" cy="511.4" r="3.55"/><circle cx="440.2" cy="515.8" r="3.55"/><circle cx="478.4" cy="516.5" r="3.55"/></g><g fill="#e9e41f"><circle cx="454.0" cy="517.1" r="3.55"/><circle cx="445.2" cy="518.7" r="3.55"/><circle cx="456.5" cy="520.2" r="3.55"/><circle cx="432.0" cy="520.6" r="3.55"/><circle cx="468.4" cy="521.7" r="3.55"/><circle cx="446.4" cy="522.1" r="3.55"/><circle cx="452.7" cy="522.7" r="3.55"/></g><g fill="#f3e622"><circle cx="438.9" cy="523.7" r="3.55"/><circle cx="460.9" cy="525.9" r="3.55"/><circle cx="478.8" cy="526.8" r="3.55"/></g><g fill="#fde725"><circle cx="447.7" cy="529.6" r="3.55"/><circle cx="443.3" cy="531.5" r="3.55"/></g></g>
<g id="axes"><text x="0" y="0" transform="translate(207.0,167.4) rotate(-8)" font-size="12" fill="#444" text-anchor="middle" dominant-baseline="central" >200</text><text x="0" y="0" transform="translate(212.6,221.4) rotate(-10)" font-size="12" fill="#444" text-anchor="middle" dominant-baseline="central" >0</text><text x="0" y="0" transform="translate(218.6,272.7) rotate(-12)" font-size="12" fill="#444" text-anchor="middle" dominant-baseline="central" >−200</text><text x="0" y="0" transform="translate(224.0,321.6) rotate(-15)" font-size="12" fill="#444" text-anchor="middle" dominant-baseline="central" >−400</text><text x="0" y="0" transform="translate(229.5,367.4) rotate(-18)" font-size="12" fill="#444" text-anchor="middle" dominant-baseline="central" >−600</text><text x="0" y="0" transform="translate(234.6,413.0) rotate(-20)" font-size="12.5" fill="#444" text-anchor="middle" dominant-baseline="central" >−800</text><text x="0" y="0" transform="translate(242.5,448.7) rotate(-28)" font-size="12" fill="#444" text-anchor="middle" dominant-baseline="central" >25</text><text x="0" y="0" transform="translate(273.4,469.5) rotate(-29)" font-size="12.2" fill="#444" text-anchor="middle" dominant-baseline="central" >24</text><text x="0" y="0" transform="translate(308.6,491.8) rotate(-30)" font-size="12.5" fill="#444" text-anchor="middle" dominant-baseline="central" >23</text><text x="0" y="0" transform="translate(347.8,515.8) rotate(-31)" font-size="12.8" fill="#444" text-anchor="middle" dominant-baseline="central" >22</text><text x="0" y="0" transform="translate(391.6,543.0) rotate(-32)" font-size="13" fill="#444" text-anchor="middle" dominant-baseline="central" >21</text><text x="0" y="0" transform="translate(439.5,573.9) rotate(-33)" font-size="13.3" fill="#444" text-anchor="middle" dominant-baseline="central" >20</text><text x="0" y="0" transform="translate(654.0,450.3) rotate(30)" font-size="11.6" fill="#444" text-anchor="middle" dominant-baseline="central" >3</text><text x="0" y="0" transform="translate(633.9,466.3) rotate(30)" font-size="11.8" fill="#444" text-anchor="middle" dominant-baseline="central" >2</text><text x="0" y="0" transform="translate(611.9,482.3) rotate(31)" font-size="12" fill="#444" text-anchor="middle" dominant-baseline="central" >1</text><text x="0" y="0" transform="translate(589.5,498.9) rotate(31)" font-size="12.2" fill="#444" text-anchor="middle" dominant-baseline="central" >0</text><text x="0" y="0" transform="translate(565.6,519.6) rotate(32)" font-size="12.5" fill="#444" text-anchor="middle" dominant-baseline="central" >−1</text><text x="0" y="0" transform="translate(539.7,539.1) rotate(33)" font-size="12.8" fill="#444" text-anchor="middle" dominant-baseline="central" >−2</text><text x="0" y="0" transform="translate(510.3,560.5) rotate(34)" font-size="13" fill="#444" text-anchor="middle" dominant-baseline="central" >−3</text><text x="0" y="0" transform="translate(187.9,319.0) rotate(84.1)" font-size="14" fill="#444" text-anchor="middle" dominant-baseline="central" >Objective function</text><text x="0" y="0" transform="translate(294.0,520.0) rotate(33.6)" font-size="13.8" fill="#444" text-anchor="middle" dominant-baseline="central" >Government Expenditure</text><text x="0" y="0" transform="translate(626.9,512.6) rotate(-38.5)" font-size="13.95" fill="#444" text-anchor="middle" dominant-baseline="central" >Consumption booster (add-factor)</text></g>
<g id="hover">
<path d="M420,112H482.5V166H420V145.2L413.8,138L420,133.6Z" fill="#440154" stroke="#fff" stroke-width="1"/>
<g font-family="'Liberation Sans',Arial,sans-serif" font-size="13" fill="#fff" stroke="#fff" stroke-width="0.3"><text x="426" y="126.5" xml:space="preserve">cn:  2.03</text><text x="426" y="143.4" xml:space="preserve">g:  24.90</text><text x="426" y="160.3" xml:space="preserve">f:  210.58</text></g>
</g>
</svg>
<h1 id="title">Advanced Klein Model: Monte-Carlo optimal control</h1>
<div id="cap">Objective function stochastic realizations that are computable and verify the restrictions.<br>Local maximum is highlighted. See code example for definitions and formulas.</div>
</body></html>
